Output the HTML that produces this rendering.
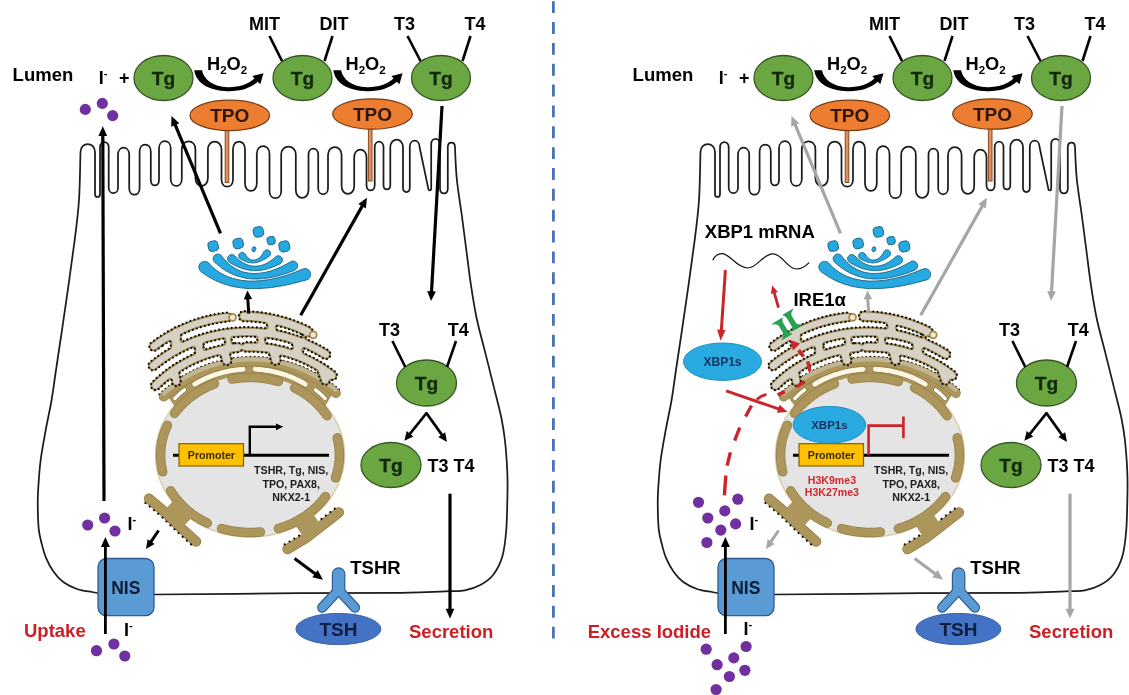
<!DOCTYPE html>
<html><head><meta charset="utf-8"><title>Diagram</title>
<style>
html,body{margin:0;padding:0;background:#fff;}
svg{display:block;filter:blur(0.4px);}
text{font-family:"Liberation Sans",sans-serif;font-weight:bold;}
</style></head><body>
<svg width="1129" height="695" viewBox="0 0 1129 695">
<rect width="1129" height="695" fill="#fff"/>
<line x1="553.4" y1="1.2" x2="553.4" y2="640" stroke="#4a72b4" stroke-width="2.8" stroke-dasharray="11.9 8.95"/>
<g><path d="M98 593.2 C97 593 95.4 592.7 92 592 C88.6 591.3 82.4 590.9 77.6 589.2 C72.8 587.5 67.2 584.9 63.2 582 C59.2 579.1 56.7 576.1 53.8 572 C50.9 567.9 47.9 562.4 45.9 557.6 C43.9 552.8 42.8 548 41.6 543.2 C40.4 538.4 39.3 534.7 38.7 528.8 C38.1 522.9 37.9 514.4 37.8 508 C37.7 501.6 37.6 498.6 38.1 490.7 C38.6 482.8 39.3 470.6 40.6 460.5 C41.9 450.4 43.9 440.3 45.7 430.2 C47.5 420.1 49.9 410 51.6 400 C53.3 390 53.7 385.6 56 370 C58.3 354.4 62.4 327.8 65.4 306.6 C68.5 285.4 72 260.8 74.3 243 C76.6 225.2 78 215.2 79 200 C80 184.8 80.2 160 80.5 152 L80.5 152 C80.5 141.4 95 141.4 95 152 L95 193.9 C95 198 100 198 100 193.9 L100 147.4 C100 140.2 108.7 140.2 108.7 147.4 L108.7 187.4 C108.7 195.1 118 195.1 118 187.4 L118 154.7 C118 145.4 129.2 145.4 129.2 154.7 L129.2 188.2 C129.2 196.8 139.6 196.8 139.6 188.2 L139.6 151.5 C139.6 142.2 150.8 142.2 150.8 151.5 L150.8 180.3 C150.8 187.1 159 187.1 159 180.3 L159 148.5 C159 138.8 170.7 138.8 170.7 148.5 L170.7 178.9 C170.7 188.1 181.8 188.1 181.8 178.9 L181.8 149.2 C181.8 138.6 195.4 138.6 195.4 149.2 L195.4 178 C195.4 188.4 207.9 188.4 207.9 178 L207.9 149.5 C207.9 138.9 221.5 138.9 221.5 149.5 L221.5 179.5 C221.5 189.1 233 189.1 233 179.5 L233 149 C233 139 245 139 245 149 L245 183.6 C245 193.4 256.8 193.4 256.8 183.6 L256.8 153.9 C256.8 143.4 269.5 143.4 269.5 153.9 L269.5 190.9 C269.5 200.6 281.2 200.6 281.2 190.9 L281.2 154.6 C281.2 144 295.8 144 295.8 154.6 L295.8 189.9 C295.8 200.4 308.5 200.4 308.5 189.9 L308.5 154.6 C308.5 146.5 318.2 146.5 318.2 154.6 L318.2 188.2 C318.2 196.3 328 196.3 328 188.2 L328 155.1 C328 144.5 341.6 144.5 341.6 155.1 L341.6 186 C341.6 196.5 354.2 196.5 354.2 186 L354.2 157.2 C354.2 147 366.5 147 366.5 157.2 L366.5 185.3 C366.5 192.1 374.7 192.1 374.7 185.3 L374.7 147.2 C374.7 139.9 383.5 139.9 383.5 147.2 L383.5 185.2 C383.5 190.8 390.3 190.8 390.3 185.2 L390.3 147.6 C390.3 137.1 403 137.1 403 147.6 L403 187.8 C403 193.4 409.8 193.4 409.8 187.8 L409.8 146.8 C409.8 138.7 419.5 138.7 419.5 146.8 L428.3 188.6 C428.3 191 431.2 191 431.2 188.6 L431.2 144.3 C431.2 137 440 137 440 144.3 L440 188.4 C440 194.9 447.8 194.9 447.8 188.4 L447.8 147.2 C447.8 141.2 455 141.2 455 147.2 C455.3 155.6 455.8 169.4 456.9 180 C458 190.6 460.1 203 461.7 214.5 C463.2 226 464.7 237.5 466.2 249 C467.7 260.5 469 271.9 470.7 283.4 C472.4 294.9 474.2 306.5 476.6 318 C479 329.5 482.3 340.9 485.2 352.4 C488.1 363.9 491.1 376 493.8 386.9 C496.5 397.8 499.5 409.1 501.4 418 C503.2 426.9 503.9 431.3 504.9 440 C505.9 448.7 506.8 461.4 507.2 470 C507.6 478.6 507.7 481.7 507.5 491.8 C507.3 501.9 507.1 519.9 506.2 530.7 C505.3 541.5 504.4 549.3 502.3 556.6 C500.2 563.9 497 570 493.3 574.7 C489.6 579.4 485.1 582.4 480.3 585 C475.6 587.6 470 589.3 464.8 590.3 C459.6 591.3 459.8 590.8 449 591.2 C438.2 591.6 424.8 592.5 400 592.8 C375.2 593.1 341 592.9 300 593.2 C259 593.5 178.3 594.3 154 594.5" fill="none" stroke="#1c1c1c" stroke-width="1.75" stroke-linejoin="round"/><rect x="225.2" y="129" width="3.6" height="53.5" fill="#dd9060" stroke="#8a4a1e" stroke-width="1"/><rect x="368.4" y="128" width="3.6" height="53" fill="#dd9060" stroke="#8a4a1e" stroke-width="1"/><ellipse cx="250" cy="455" rx="94.5" ry="82" fill="#e4e4e4" stroke="#dccfa8" stroke-width="1.6"/><path d="M166.2 394.4 L169.8 391.3 L173.4 388.3 L177.2 385.5 L181 382.9 L185 380.3 L189 378 L193.2 375.7 L197.4 373.7 L201.7 371.7 L206 370 L210.4 368.4 L214.9 366.9 L219.4 365.7 L224 364.6 L228.6 363.6 L233.2 362.9 L237.9 362.3 L242.5 361.8 L247.2 361.6 L251.9 361.5 L256.6 361.6 L261.3 361.9 L266 362.3 L270.6 362.9 L275.2 363.7 L279.8 364.6 L284.4 365.7 L288.9 367 L293.4 368.4 L297.8 370.1 L302.1 371.8 L306.4 373.8 L310.6 375.8 L314.8 378.1 L318.8 380.5 L322.8 383 L326.6 385.7 L330.4 388.5 L334 391.4 L323.9 408.3 L321.3 405.2 L318.4 402.3 L315.4 399.5 L312.2 396.8 L308.9 394.2 L305.5 391.8 L301.9 389.6 L298.2 387.5 L294.4 385.5 L290.5 383.7 L286.5 382.1 L282.4 380.7 L278.2 379.4 L274 378.3 L269.7 377.4 L265.4 376.6 L261 376.1 L256.6 375.7 L252.2 375.5 L247.8 375.5 L243.4 375.7 L239 376.1 L234.6 376.6 L230.3 377.4 L226 378.3 L221.8 379.4 L217.6 380.7 L213.5 382.1 L209.5 383.7 L205.6 385.5 L201.8 387.5 L198.1 389.6 L194.5 391.8 L191.1 394.2 L187.8 396.8 L184.6 399.5 L181.6 402.3 L178.7 405.2 L176.1 408.3 Z" fill="#ad965c"/><path d="M159.4 394.4 L163.1 390.9 L167 387.6 L171 384.4 L175.1 381.4 L179.3 378.5 L183.6 375.8 L188 373.2 L192.6 370.9 L197.2 368.7 L201.8 366.7 L206.6 364.8 L211.4 363.2 L216.3 361.7 L221.3 360.5 L226.2 359.4 L231.3 358.5 L236.3 357.8 L241.4 357.3 L246.5 357 L251.6 356.9 L256.7 357 L261.8 357.3 L266.8 357.8 L271.9 358.4 L276.9 359.3 L281.9 360.4 L286.8 361.6 L291.7 363.1 L296.6 364.7 L301.3 366.5 L306 368.5 L310.6 370.7 L315.2 373 L319.6 375.6 L323.9 378.3 L328.1 381.1 L332.3 384.1 L336.2 387.3 L340.1 390.6" fill="none" stroke="#0a0a0a" stroke-width="2.2" stroke-dasharray="0 4.2" stroke-linecap="round"/><path d="M163.6 396.8 L167.2 393.5 L170.9 390.4 L174.7 387.4 L178.6 384.5 L182.7 381.8 L186.8 379.3 L191 376.9 L195.3 374.6 L199.7 372.6 L204.2 370.7 L208.7 369 L213.3 367.4 L218 366.1 L222.7 364.9 L227.4 363.8 L232.2 363 L237 362.4 L241.9 361.9 L246.7 361.6 L251.5 361.5 L256.4 361.6 L261.2 361.8 L266.1 362.3 L270.9 362.9 L275.7 363.7 L280.4 364.7 L285.1 365.9 L289.8 367.3 L294.4 368.8 L298.9 370.5 L303.4 372.4 L307.8 374.4 L312.1 376.6 L316.4 379 L320.5 381.5 L324.6 384.2 L328.5 387.1 L332.3 390 L336 393.2" fill="none" stroke="#978047" stroke-width="9.6" stroke-linecap="round"/><path d="M163.6 396.8 L167.2 393.5 L170.9 390.4 L174.7 387.4 L178.6 384.5 L182.7 381.8 L186.8 379.3 L191 376.9 L195.3 374.6 L199.7 372.6 L204.2 370.7 L208.7 369 L213.3 367.4 L218 366.1 L222.7 364.9 L227.4 363.8 L232.2 363 L237 362.4 L241.9 361.9 L246.7 361.6 L251.5 361.5 L256.4 361.6 L261.2 361.8 L266.1 362.3 L270.9 362.9 L275.7 363.7 L280.4 364.7 L285.1 365.9 L289.8 367.3 L294.4 368.8 L298.9 370.5 L303.4 372.4 L307.8 374.4 L312.1 376.6 L316.4 379 L320.5 381.5 L324.6 384.2 L328.5 387.1 L332.3 390 L336 393.2" fill="none" stroke="#ad965c" stroke-width="8.2" stroke-linecap="round"/><path d="M163.9 393.5 L167.5 390.3 L171.2 387.3 L175 384.4 L179 381.6 L183 379 L187.1 376.5 L191.3 374.2 L195.6 372 L200 370.1 L204.4 368.2 L208.9 366.6 L213.5 365.1 L218.1 363.7 L222.8 362.6 L227.5 361.6 L232.2 360.8 L237 360.1 L241.8 359.7 L246.6 359.4 L251.4 359.3 L256.2 359.4 L261 359.6 L265.7 360 L270.5 360.7 L275.3 361.4 L280 362.4 L284.6 363.5 L289.3 364.8 L293.8 366.3 L298.3 367.9 L302.8 369.7 L307.2 371.7 L311.5 373.8 L315.7 376.1 L319.9 378.5 L323.9 381.1 L327.8 383.8 L331.7 386.7 L335.4 389.7" fill="none" stroke="#c9bfa4" stroke-width="4.2" stroke-linecap="round" opacity="0.75"/><path d="M162.7 344.9 L162.7 344.9 L164.4 343.8 L164.4 343.8 L166 342.7 L166.1 342.7 L167.7 341.6 L167.7 341.6 L168.6 341.1 L169.1 340.9 L169.6 340.8 L170.1 340.9 L170.5 341.1 L170.9 341.4 L171.2 341.7 L171.3 342.2 L171.4 342.7 L171.2 347.1 L171.1 347.6 L170.9 348 L170.7 348.3 L170.3 348.6 L166.3 351 L166.3 351 L166.2 351.1 L166.2 351.1 L162.3 353.7 L162.2 353.7 L162.1 353.8 L162.1 353.8 L158.3 356.5 L158.2 356.5 L158.1 356.5 L158.1 356.6 L154.4 359.4 L154.3 359.4 L154.2 359.5 L154.2 359.5 L150.6 362.4 L150.5 362.5 L149.9 363.1 L149.7 363.3 L149.3 364.1 L149.2 364.3 L149 365.1 L149 365.3 L149 366.2 L149 366.4 L149.3 367.3 L149.4 367.5 L149.8 368.2 L150 368.4 L150.6 369 L150.8 369.1 L151.5 369.6 L151.7 369.6 L152.6 369.8 L152.8 369.9 L153.7 369.9 L153.9 369.8 L154.7 369.6 L154.9 369.5 L155.7 369 L155.8 368.9 L159.4 366.1 L159.5 366.1 L163.1 363.3 L163.1 363.3 L166.9 360.7 L166.9 360.7 L170.7 358.2 L170.8 358.2 L174.7 355.8 L174.7 355.8 L176 355 L176.5 354.8 L176.6 354.8 L177.5 354.5 L177.7 354.4 L178.5 353.8 L178.7 353.6 L178.8 353.6 L179.2 353.3 L182.7 351.4 L182.8 351.4 L186.9 349.4 L186.9 349.4 L191.1 347.5 L191.1 347.5 L192.7 346.9 L193.2 346.7 L193.7 346.8 L194.2 346.9 L194.6 347.2 L194.9 347.6 L195.1 348 L195.2 348.5 L195.3 352.7 L195.2 353.2 L195 353.7 L194.6 354.1 L194.2 354.4 L192.8 355 L192.7 355 L190.6 356 L190.5 356 L188.4 357.1 L188.3 357.1 L186.2 358.2 L186.1 358.2 L184 359.3 L184 359.4 L181.9 360.5 L181.8 360.5 L179.8 361.7 L179.7 361.7 L177.7 363 L177.6 363 L175.6 364.3 L175.5 364.3 L173.5 365.6 L173.5 365.6 L171.5 366.9 L171.4 367 L169.5 368.3 L169.4 368.4 L167.5 369.8 L167.5 369.8 L165.6 371.2 L165.5 371.3 L163.6 372.7 L163.6 372.8 L161.7 374.3 L161.7 374.3 L159.8 375.9 L159.8 375.9 L158 377.5 L157.9 377.5 L156.2 379.1 L156.1 379.1 L154.4 380.8 L154.3 380.8 L152.7 382.4 L152.6 382.5 L152 383.2 L151.9 383.4 L151.5 384.2 L151.5 384.4 L151.4 385.3 L151.4 385.5 L151.4 386.4 L151.5 386.6 L151.8 387.4 L151.9 387.6 L152.4 388.3 L152.6 388.5 L153.3 389 L153.5 389.1 L154.3 389.5 L154.5 389.5 L155.3 389.7 L155.6 389.7 L156.4 389.6 L156.7 389.5 L157.5 389.2 L157.7 389.1 L158.4 388.5 L158.5 388.5 L160.1 386.9 L160.1 386.9 L161.8 385.3 L161.8 385.3 L163.5 383.8 L163.5 383.8 L165.2 382.3 L165.3 382.3 L167 380.8 L167 380.8 L168.8 379.4 L168.8 379.3 L169.2 379.1 L169.6 378.8 L170 378.7 L170.5 378.7 L171 378.8 L171.4 379 L171.7 379.4 L171.9 379.8 L172.1 380.2 L172.4 382.1 L172.4 382.3 L172.6 383.1 L172.7 383.3 L173.1 384 L173.3 384.2 L173.9 384.7 L174 384.9 L174.8 385.3 L175 385.4 L175.8 385.5 L176 385.6 L176.8 385.6 L177 385.5 L177.8 385.3 L178 385.2 L178.7 384.8 L178.9 384.6 L179.5 384.1 L179.6 383.9 L180 383.2 L180.1 382.9 L180.3 382.2 L180.3 381.9 L180.3 381.1 L180.3 380.9 L179.1 373.2 L179.1 372.7 L179.2 372.2 L179.5 371.8 L179.9 371.5 L180 371.4 L180.1 371.4 L182 370.2 L182 370.2 L184 369 L184 369 L186 367.8 L186 367.8 L188 366.7 L188 366.7 L190 365.7 L190 365.7 L192 364.6 L192.1 364.6 L194.1 363.6 L194.1 363.6 L196.2 362.7 L196.2 362.7 L198.3 361.7 L198.3 361.7 L200.4 360.9 L200.5 360.8 L202.6 360 L202.6 360 L204.7 359.2 L204.7 359.2 L206.9 358.4 L206.9 358.4 L209.1 357.7 L209.1 357.7 L211.2 357 L211.3 357 L213.4 356.3 L213.5 356.3 L215.7 355.7 L215.7 355.7 L217.9 355.1 L217.9 355.1 L218.9 354.9 L219.3 354.8 L219.8 354.9 L220.2 355.1 L220.6 355.4 L220.9 355.8 L221 356.2 L222.3 361.3 L222.3 361.4 L222.7 362.3 L222.8 362.5 L223.4 363.3 L223.5 363.4 L224.3 364 L224.5 364.1 L225.3 364.5 L225.6 364.6 L226.5 364.7 L226.7 364.7 L227.7 364.6 L227.9 364.5 L228.8 364.2 L229 364.1 L229.7 363.5 L229.9 363.4 L230.5 362.6 L230.6 362.4 L231 361.6 L231 361.3 L231.2 360.4 L231.2 360.2 L231.1 359.2 L231 359.1 L229.9 354.7 L229.9 354.2 L230 353.7 L230.2 353.2 L230.5 352.9 L231 352.6 L231.5 352.5 L233.7 352.2 L233.7 352.2 L236 351.9 L236 351.9 L238.2 351.7 L238.4 351.7 L239.3 351.5 L239.5 351.4 L240.2 351 L240.4 350.8 L241 350.3 L241.4 350 L241.9 349.9 L242.4 349.8 L242.9 349.9 L243.3 350.2 L244 350.6 L244.2 350.8 L245 351.1 L245.2 351.1 L246.1 351.2 L246.2 351.2 L248.5 351.2 L248.5 351.2 L250.8 351.2 L250.8 351.2 L253.1 351.2 L253.1 351.2 L255.4 351.3 L255.4 351.3 L257.7 351.5 L257.7 351.5 L260 351.6 L260 351.6 L262.2 351.8 L262.3 351.8 L264.5 352.1 L264.6 352.1 L266.8 352.3 L266.8 352.3 L268 352.5 L268.5 352.7 L269 353 L269.3 353.4 L269.5 353.8 L271.4 361.1 L271.5 361.2 L271.8 362.1 L271.9 362.3 L272.5 363.1 L272.7 363.2 L273.4 363.8 L273.6 363.9 L274.5 364.3 L274.7 364.4 L275.6 364.5 L275.9 364.5 L276.8 364.4 L277 364.3 L277.9 364 L278.1 363.8 L278.9 363.3 L279 363.1 L279.6 362.4 L279.7 362.2 L280.1 361.3 L280.1 361.1 L280.3 360.1 L280.3 359.9 L280.1 358.9 L280.1 358.8 L279.8 357.5 L279.7 357 L279.8 356.6 L280 356.1 L280.2 355.8 L280.6 355.5 L281 355.3 L281.5 355.2 L282 355.3 L282.6 355.5 L282.6 355.5 L284.8 356.1 L284.8 356.1 L287 356.7 L287 356.7 L289.2 357.4 L289.2 357.4 L291.4 358.1 L291.4 358.1 L293.6 358.9 L293.6 358.9 L295.7 359.7 L295.7 359.7 L297.9 360.5 L297.9 360.5 L300 361.4 L300 361.4 L302.1 362.3 L302.1 362.3 L304.2 363.2 L304.2 363.2 L306.3 364.2 L306.3 364.2 L308.3 365.2 L308.3 365.2 L310.4 366.3 L310.4 366.3 L312.4 367.4 L312.4 367.4 L314.4 368.5 L314.4 368.5 L316.4 369.7 L316.4 369.7 L317 370 L317.3 370.3 L317.6 370.6 L317.8 371 L321.6 381.6 L321.7 381.7 L322.1 382.5 L322.2 382.7 L322.7 383.3 L322.9 383.4 L323.6 383.9 L323.8 384 L324.6 384.2 L324.8 384.2 L325.6 384.3 L325.8 384.3 L326.6 384.1 L326.9 384 L327.6 383.6 L327.8 383.5 L328.4 383 L328.5 382.8 L328.9 382.1 L329 381.9 L329.3 381.1 L329.3 381 L329.5 380.5 L329.7 380.1 L330.1 379.8 L330.6 379.6 L331.1 379.5 L331.5 379.6 L331.6 379.6 L331.8 379.6 L332.7 379.6 L332.9 379.6 L333.7 379.4 L333.9 379.3 L334.7 378.8 L334.9 378.7 L335.5 378.1 L335.6 377.9 L336 377.2 L336.1 376.9 L336.4 376.1 L336.4 375.9 L336.4 375 L336.4 374.8 L336.1 374 L336 373.7 L335.6 373 L335.5 372.8 L334.8 372.2 L334.7 372.1 L332.9 370.7 L332.8 370.6 L330.9 369.2 L330.9 369.2 L328.9 367.8 L328.9 367.8 L326.9 366.4 L326.9 366.4 L324.9 365.1 L324.8 365 L322.8 363.8 L322.8 363.7 L320.7 362.5 L320.7 362.4 L318.6 361.2 L318.6 361.2 L316.5 360 L316.4 360 L314.3 358.9 L314.3 358.8 L312.2 357.8 L312.1 357.7 L310 356.7 L309.9 356.6 L307.8 355.6 L307.7 355.6 L305.5 354.6 L305.5 354.6 L304 353.9 L303.5 353.6 L303.2 353.2 L303 352.7 L302.3 350.2 L302.2 349.8 L302.3 349.3 L302.4 348.9 L302.7 348.5 L303 348.2 L303.4 348 L303.9 348 L304.3 348 L304.8 348.1 L307.3 349.2 L307.3 349.2 L311.4 351.2 L311.5 351.2 L315.5 353.3 L315.6 353.3 L319.5 355.6 L319.6 355.6 L323.5 358 L323.6 358 L324.5 358.4 L324.7 358.4 L325.5 358.6 L325.8 358.6 L326.6 358.5 L326.8 358.4 L327.6 358.1 L327.9 358 L328.5 357.5 L328.7 357.3 L329.3 356.6 L329.4 356.4 L329.7 355.7 L329.8 355.4 L329.9 354.6 L329.9 354.4 L329.8 353.5 L329.8 353.3 L329.4 352.5 L329.3 352.3 L328.8 351.6 L328.7 351.4 L327.9 350.8 L327.8 350.8 L323.8 348.4 L323.8 348.3 L323.7 348.3 L323.7 348.3 L319.6 346 L319.6 346 L319.5 345.9 L319.5 345.9 L315.3 343.7 L315.3 343.7 L315.2 343.7 L315.1 343.7 L310.9 341.6 L310.9 341.6 L310.8 341.6 L310.8 341.6 L306.4 339.7 L306.4 339.7 L306.3 339.6 L305.9 339.4 L305.6 339.1 L305.4 338.7 L305.2 338.2 L305.2 337.8 L305.3 337.3 L305.5 336.9 L305.9 336.6 L306.2 336.3 L306.7 336.2 L307.1 336.2 L307.9 336.2 L308.1 336.2 L309.1 336 L309.3 335.9 L310.1 335.5 L310.3 335.4 L311 334.8 L311.2 334.6 L311.7 333.8 L311.8 333.6 L312.1 332.7 L312.2 332.5 L312.2 331.5 L312.2 331.3 L312 330.4 L311.9 330.2 L311.5 329.3 L311.4 329.1 L310.8 328.4 L310.6 328.3 L309.8 327.7 L309.7 327.7 L308.2 326.9 L308.2 326.9 L306.6 326.2 L306.6 326.2 L305 325.4 L305 325.4 L303.4 324.7 L303.4 324.7 L301.8 324 L301.8 324 L300.2 323.3 L300.2 323.3 L298.6 322.7 L298.5 322.6 L297 322 L296.9 322 L295.3 321.4 L295.3 321.4 L293.7 320.8 L293.6 320.8 L292 320.2 L292 320.2 L290.4 319.6 L290.3 319.6 L288.7 319.1 L288.6 319.1 L287 318.6 L287 318.5 L285.3 318 L285.3 318 L283.7 317.5 L283.6 317.5 L282 317.1 L281.9 317.1 L280.3 316.6 L280.2 316.6 L278.6 316.2 L278.5 316.2 L276.9 315.8 L276.8 315.8 L275.2 315.4 L275.1 315.4 L273.4 315 L273.4 315 L271.7 314.7 L271.7 314.7 L270 314.3 L269.9 314.3 L268.3 314 L268.2 314 L266.5 313.7 L266.5 313.7 L264.8 313.5 L264.8 313.5 L263.1 313.2 L263 313.2 L261.3 313 L261.3 313 L259.6 312.8 L259.5 312.8 L257.8 312.6 L257.8 312.6 L256.1 312.4 L256.1 312.4 L254.4 312.3 L254.3 312.3 L252.6 312.1 L252.6 312.1 L250.9 312 L250.8 312 L249.1 311.9 L249.1 311.9 L247.3 311.9 L247.3 311.9 L245.6 311.8 L245.5 311.8 L243.9 311.8 L243.8 311.8 L242.8 311.9 L242.6 312 L241.7 312.3 L241.5 312.4 L240.7 313 L240.6 313.2 L240 313.9 L239.9 314.1 L239.5 315 L239.4 315.2 L239.3 316.1 L239.3 316.4 L239.4 317.3 L239.5 317.5 L239.8 318.4 L239.9 318.6 L240.5 319.3 L240.6 319.5 L241.4 320.1 L241.6 320.2 L242.4 320.6 L242.7 320.7 L243.6 320.8 L243.8 320.8 L245.4 320.8 L245.4 320.8 L247 320.9 L247 320.9 L248.7 320.9 L248.7 320.9 L250.3 321 L250.3 321 L252 321.1 L252 321.1 L253.6 321.2 L253.6 321.2 L255.2 321.4 L255.3 321.4 L256.9 321.5 L256.9 321.5 L258.5 321.7 L258.6 321.7 L260.2 321.9 L260.2 321.9 L261.8 322.1 L261.8 322.1 L263.4 322.4 L263.5 322.4 L265.1 322.6 L265.1 322.6 L265.7 322.7 L266.1 322.8 L266.5 323.1 L266.8 323.4 L267 323.8 L267.2 324.2 L267.6 326.7 L267.6 327.2 L267.5 327.7 L267.3 328.1 L267 328.4 L266.6 328.7 L266.1 328.8 L265.6 328.8 L264.2 328.6 L264.1 328.6 L264 328.6 L264 328.6 L259.3 328.2 L259.3 328.2 L259.2 328.2 L259.2 328.2 L254.5 327.9 L254.4 327.9 L254.3 327.9 L254.3 327.9 L249.6 327.7 L249.6 327.7 L249.5 327.7 L249.4 327.7 L244.7 327.7 L244.7 327.7 L244.6 327.7 L244.6 327.7 L239.9 327.9 L239.8 327.9 L239.7 327.9 L239.7 327.9 L235 328.2 L235 328.2 L234.9 328.2 L234.8 328.2 L230.1 328.7 L230.1 328.7 L230 328.7 L230 328.7 L225.3 329.3 L225.3 329.3 L225.2 329.3 L225.2 329.3 L220.5 330.1 L220.5 330.1 L220.4 330.1 L220.4 330.1 L215.7 331 L215.7 331 L215.6 331 L215.6 331 L211 332.1 L211 332.1 L210.9 332.1 L210.8 332.1 L206.3 333.3 L206.3 333.3 L206.1 333.4 L206.1 333.4 L201.6 334.7 L201.6 334.7 L201.5 334.8 L201.5 334.8 L197 336.3 L197 336.3 L196.9 336.3 L196.8 336.3 L192.4 337.9 L192.4 337.9 L192.3 338 L192.3 338 L187.9 339.8 L187.9 339.8 L187.8 339.8 L187.8 339.8 L183.4 341.7 L183.4 341.7 L183.3 341.8 L183.3 341.8 L183.1 341.9 L182.6 342.1 L182.2 342.1 L181.7 342 L181.3 341.8 L181 341.5 L180.7 341.1 L180.5 340.7 L180.5 340.2 L180.7 335.5 L180.8 335.1 L181 334.6 L181.3 334.3 L181.7 334 L181.7 334 L181.8 334 L183.6 333.1 L183.6 333.1 L185.4 332.3 L185.4 332.3 L187.2 331.5 L187.2 331.5 L189.1 330.8 L189.1 330.8 L190.9 330 L190.9 330 L192.8 329.3 L192.8 329.3 L194.7 328.6 L194.7 328.6 L196.5 328 L196.6 328 L198.4 327.3 L198.5 327.3 L200.3 326.7 L200.4 326.7 L202.2 326.1 L202.3 326.1 L204.2 325.6 L204.2 325.6 L206.1 325.1 L206.1 325.1 L208 324.6 L208 324.6 L210 324.1 L210 324.1 L211.9 323.6 L211.9 323.6 L213.9 323.2 L213.9 323.2 L215.8 322.8 L215.8 322.8 L217.8 322.5 L217.8 322.5 L219.8 322.1 L219.8 322.1 L221.7 321.8 L221.8 321.8 L223.7 321.6 L223.7 321.5 L225.7 321.3 L225.7 321.3 L227.7 321.1 L227.8 321.1 L228.6 320.9 L228.8 320.8 L229.5 320.4 L229.7 320.2 L230.3 319.7 L230.5 319.5 L230.9 318.8 L231 318.6 L231.2 317.8 L231.2 317.6 L231.2 316.8 L231.2 316.5 L231 315.8 L230.9 315.5 L230.5 314.8 L230.4 314.6 L229.8 314.1 L229.7 313.9 L229 313.5 L228.8 313.4 L228 313.2 L227.8 313.1 L226.9 313.1 L226.8 313.1 L224.8 313.4 L224.7 313.4 L222.7 313.6 L222.6 313.6 L220.6 313.9 L220.5 313.9 L218.5 314.2 L218.5 314.2 L216.4 314.6 L216.4 314.6 L214.4 315 L214.3 315 L212.3 315.4 L212.2 315.4 L210.2 315.8 L210.2 315.8 L208.2 316.3 L208.1 316.3 L206.1 316.8 L206.1 316.8 L204.1 317.3 L204 317.3 L202 317.9 L202 317.9 L200 318.5 L200 318.5 L198 319.1 L197.9 319.1 L196 319.7 L195.9 319.7 L194 320.4 L193.9 320.4 L192 321.1 L191.9 321.1 L190 321.8 L190 321.8 L188 322.6 L188 322.6 L186.1 323.3 L186 323.4 L184.1 324.1 L184.1 324.2 L182.2 325 L182.1 325 L180.3 325.8 L180.2 325.9 L178.4 326.7 L178.3 326.8 L176.7 327.6 L176 327.7 L175.5 327.8 L175.3 327.8 L174.4 328.1 L174.2 328.3 L173.4 328.8 L173.2 329 L173 329.3 L172.4 329.7 L170.8 330.6 L170.8 330.6 L169 331.6 L168.9 331.6 L167.2 332.6 L167.1 332.7 L165.3 333.7 L165.3 333.7 L163.5 334.8 L163.5 334.8 L161.8 335.9 L161.7 336 L160 337.1 L159.9 337.1 L158.2 338.3 L158.2 338.3 L156.5 339.5 L156.5 339.5 L154.8 340.7 L154.7 340.7 L153.1 341.9 L153 342 L151.4 343.2 L151.3 343.3 L150.7 343.9 L150.6 344.1 L150.2 344.7 L150.1 345 L149.9 345.7 L149.8 346 L149.8 346.8 L149.9 347 L150.1 347.8 L150.2 348 L150.6 348.7 L150.7 348.9 L151.3 349.5 L151.4 349.6 L152.1 350 L152.4 350.1 L153.1 350.3 L153.4 350.4 L154.2 350.4 L154.4 350.3 L155.2 350.1 L155.4 350.1 L156.2 349.6 L156.3 349.6 L157.8 348.4 L157.8 348.4 L159.4 347.2 L159.5 347.2 L161.1 346 L161.1 346 Z M302.9 334.4 L303.3 334.6 L303.6 334.9 L303.8 335.4 L303.9 335.8 L303.9 336.3 L303.8 336.7 L303.5 337.1 L303.2 337.4 L302.8 337.6 L302.4 337.8 L301.9 337.8 L301.5 337.7 L297.3 336.2 L297.3 336.2 L297.2 336.1 L297.2 336.1 L292.7 334.6 L292.7 334.6 L292.6 334.6 L292.6 334.6 L288 333.3 L288 333.3 L287.9 333.2 L287.9 333.2 L283.3 332 L283.3 332 L283.2 332 L283.2 332 L278.6 331 L278.6 330.9 L278.5 330.9 L278.4 330.9 L277.6 330.8 L277.2 330.6 L276.9 330.4 L276.6 330.1 L276.3 329.7 L276.2 329.3 L275.9 327.4 L275.8 327 L275.9 326.5 L276.1 326.1 L276.4 325.8 L276.8 325.5 L277.2 325.4 L277.7 325.3 L278.1 325.4 L279.6 325.8 L279.6 325.8 L281.2 326.2 L281.2 326.2 L282.7 326.7 L282.8 326.7 L284.3 327.1 L284.3 327.1 L285.9 327.6 L285.9 327.6 L287.5 328.1 L287.5 328.2 L289 328.7 L289 328.7 L290.6 329.2 L290.6 329.2 L292.1 329.8 L292.1 329.8 L293.7 330.4 L293.7 330.4 L295.2 331 L295.2 331 L296.7 331.6 L296.7 331.6 L298.2 332.3 L298.3 332.3 L299.7 332.9 L299.8 332.9 L301.3 333.6 L301.3 333.6 L302.7 334.3 L302.8 334.3 Z M266.8 343.9 L266.3 343.8 L265.9 343.5 L265.6 343.2 L265.3 342.8 L265.2 342.4 L264.8 339.5 L264.8 339 L264.9 338.6 L265.1 338.1 L265.5 337.8 L265.9 337.6 L266.3 337.4 L266.8 337.4 L267.7 337.6 L267.8 337.6 L272.2 338.3 L272.3 338.3 L276.8 339.2 L276.8 339.2 L281.2 340.2 L281.3 340.2 L285.7 341.3 L285.8 341.3 L290.1 342.6 L290.2 342.6 L291.3 343 L291.7 343.2 L292 343.5 L292.3 343.9 L292.5 344.3 L293.2 346.9 L293.2 347.4 L293.2 347.9 L293 348.3 L292.7 348.7 L292.3 349 L291.8 349.1 L291.4 349.2 L290.9 349.1 L289.5 348.7 L289.4 348.7 L287.1 348 L287.1 348 L284.8 347.3 L284.7 347.3 L282.4 346.7 L282.3 346.7 L280 346.2 L279.9 346.2 L277.6 345.7 L277.6 345.7 L275.5 345.2 L275.1 345.1 L274.2 344.7 L274 344.7 L273 344.6 L272.8 344.6 L272.3 344.6 L271.8 344.6 L270.4 344.4 L270.3 344.4 L268 344 L267.9 344 Z M233.3 343.8 L232.9 343.8 L232.4 343.6 L232 343.3 L231.6 343 L231.4 342.5 L231.3 342 L231.2 338.7 L231.2 338.3 L231.4 337.8 L231.6 337.5 L232 337.2 L232.4 336.9 L232.8 336.8 L235.6 336.6 L235.6 336.6 L240.2 336.3 L240.2 336.3 L244.8 336.1 L244.8 336.1 L249.4 336.1 L249.4 336.1 L254 336.3 L254 336.3 L255.8 336.4 L256.3 336.5 L256.7 336.7 L257.1 337 L257.3 337.4 L257.5 337.9 L257.9 340.9 L257.9 341.3 L257.8 341.8 L257.6 342.2 L257.3 342.5 L256.9 342.8 L256.5 342.9 L256 343 L255.8 342.9 L255.7 342.9 L253.4 342.9 L253.3 342.8 L250.9 342.8 L250.8 342.8 L248.5 342.8 L248.4 342.8 L246.1 342.8 L246 342.9 L245 343 L244.8 343.1 L244 343.4 L243.8 343.5 L243.2 344.1 L243 344.2 L242.7 344.5 L242.3 344.6 L241.9 344.7 L241.4 344.7 L241 344.6 L240.6 344.3 L240.5 344.2 L239.7 343.8 L239.5 343.7 L238.7 343.4 L238.5 343.4 L237.6 343.3 L237.4 343.3 L235.1 343.6 L235.1 343.6 Z M203.2 344.4 L203.2 343.9 L203.4 343.5 L203.7 343.1 L204 342.8 L204.5 342.6 L208.4 341.5 L208.5 341.4 L212.9 340.3 L212.9 340.3 L217.4 339.2 L217.4 339.2 L221.9 338.4 L221.9 338.4 L223.2 338.2 L223.7 338.1 L224.2 338.3 L224.6 338.5 L224.9 338.9 L225.2 339.4 L225.2 339.9 L225.4 343.1 L225.3 343.6 L225.2 344 L225 344.4 L224.6 344.7 L224.2 344.9 L223.8 345 L223 345.1 L222.8 345.1 L221.9 345.5 L221.8 345.5 L221.3 345.7 L220.7 345.9 L220.6 345.9 L218.3 346.4 L218.2 346.4 L215.9 347 L215.8 347 L213.5 347.6 L213.5 347.6 L211.2 348.2 L211.1 348.3 L208.8 348.9 L208.8 349 L206.5 349.7 L206.4 349.7 L205.6 350 L205.1 350.1 L204.6 350 L204.2 349.9 L203.8 349.6 L203.5 349.2 L203.3 348.8 L203.2 348.3 Z" fill="#d7d1c5" fill-rule="evenodd" stroke="#9f8850" stroke-width="1.9"/><path d="M163 345.4 L163.1 345.4 L164.7 344.3 L164.7 344.3 L166.4 343.2 L166.4 343.2 L168 342.1 L168.1 342.1 L168.9 341.6 L169.3 341.5 L169.6 341.4 L169.9 341.5 L170.2 341.6 L170.4 341.8 L170.6 342 L170.8 342.3 L170.8 342.7 L170.6 347.1 L170.5 347.4 L170.4 347.7 L170.2 347.9 L170 348.1 L166 350.5 L166 350.5 L166 350.5 L166 350.5 L165.9 350.6 L165.9 350.6 L165.9 350.6 L165.9 350.6 L161.9 353.2 L161.9 353.2 L161.9 353.2 L161.9 353.2 L161.8 353.3 L161.8 353.3 L161.8 353.3 L161.8 353.3 L157.9 356 L157.9 356 L157.9 356 L157.9 356 L157.8 356.1 L157.8 356.1 L157.8 356.1 L157.8 356.1 L154 358.9 L154 358.9 L154 358.9 L154 358.9 L153.9 359 L153.9 359 L153.9 359 L153.9 359 L150.2 361.9 L150.2 361.9 L150.1 362 L150.1 362 L149.4 362.7 L149.4 362.8 L149.2 363 L149.2 363 L148.8 363.8 L148.7 363.8 L148.7 364.1 L148.6 364.1 L148.4 365 L148.4 365 L148.4 365.3 L148.4 365.4 L148.4 366.2 L148.4 366.3 L148.4 366.5 L148.5 366.6 L148.7 367.4 L148.7 367.5 L148.8 367.7 L148.9 367.8 L149.3 368.5 L149.3 368.6 L149.5 368.8 L149.5 368.8 L150.2 369.4 L150.2 369.5 L150.4 369.6 L150.5 369.7 L151.2 370.1 L151.3 370.1 L151.5 370.2 L151.6 370.2 L152.4 370.4 L152.5 370.4 L152.7 370.5 L152.8 370.5 L153.7 370.5 L153.8 370.4 L154 370.4 L154.1 370.4 L154.9 370.2 L155 370.1 L155.2 370 L155.3 370 L156 369.5 L156.1 369.5 L156.2 369.4 L156.2 369.4 L159.8 366.6 L159.8 366.5 L163.4 363.8 L163.5 363.8 L167.2 361.2 L167.2 361.2 L171 358.7 L171.1 358.7 L175 356.3 L175 356.3 L176.3 355.6 L176.7 355.4 L176.8 355.4 L176.8 355.4 L177.7 355.1 L177.8 355 L178 354.9 L178.1 354.9 L178.8 354.3 L178.9 354.3 L179.1 354.1 L179.1 354.1 L179.1 354.1 L179.5 353.8 L183 351.9 L183.1 351.9 L187.1 350 L187.2 349.9 L191.3 348.1 L191.4 348.1 L192.9 347.4 L193.3 347.3 L193.6 347.4 L193.9 347.5 L194.2 347.6 L194.4 347.9 L194.6 348.2 L194.6 348.6 L194.7 352.7 L194.6 353.1 L194.5 353.4 L194.3 353.6 L193.9 353.8 L192.6 354.4 L192.6 354.4 L192.5 354.5 L192.5 354.5 L190.3 355.5 L190.3 355.5 L190.3 355.5 L190.3 355.5 L188.1 356.5 L188.1 356.5 L188.1 356.6 L188 356.6 L185.9 357.6 L185.9 357.6 L185.9 357.7 L185.9 357.7 L183.8 358.8 L183.8 358.8 L183.7 358.8 L183.7 358.8 L181.6 360 L181.6 360 L181.5 360 L181.5 360 L179.5 361.2 L179.5 361.2 L179.4 361.2 L179.4 361.2 L177.4 362.4 L177.4 362.4 L177.3 362.5 L177.3 362.5 L175.3 363.7 L175.3 363.7 L175.2 363.8 L175.2 363.8 L173.2 365.1 L173.2 365.1 L173.1 365.1 L173.1 365.1 L171.2 366.4 L171.2 366.4 L171.1 366.5 L171.1 366.5 L169.2 367.8 L169.1 367.8 L169.1 367.9 L169.1 367.9 L167.2 369.3 L167.2 369.3 L167.1 369.3 L167.1 369.3 L165.2 370.8 L165.2 370.8 L165.1 370.8 L165.1 370.8 L163.3 372.3 L163.3 372.3 L163.2 372.3 L163.2 372.3 L161.3 373.8 L161.3 373.8 L161.3 373.9 L161.3 373.9 L159.5 375.4 L159.5 375.4 L159.4 375.4 L159.4 375.4 L157.6 377 L157.6 377 L157.5 377.1 L157.5 377.1 L155.8 378.6 L155.8 378.6 L155.7 378.7 L155.7 378.7 L154 380.3 L154 380.3 L153.9 380.4 L153.9 380.4 L152.2 382 L152.2 382 L152.1 382.1 L152.1 382.1 L151.5 382.9 L151.5 382.9 L151.4 383.1 L151.3 383.2 L151 384 L151 384.1 L150.9 384.3 L150.9 384.4 L150.8 385.2 L150.8 385.3 L150.8 385.5 L150.8 385.6 L150.9 386.4 L150.9 386.5 L150.9 386.8 L150.9 386.8 L151.3 387.6 L151.3 387.7 L151.4 387.9 L151.5 388 L152 388.7 L152 388.7 L152.2 388.9 L152.2 388.9 L152.9 389.5 L153 389.5 L153.2 389.6 L153.2 389.7 L154 390 L154.1 390 L154.3 390.1 L154.4 390.1 L155.3 390.3 L155.3 390.3 L155.6 390.3 L155.6 390.3 L156.5 390.2 L156.6 390.2 L156.8 390.1 L156.9 390.1 L157.7 389.8 L157.8 389.7 L158 389.6 L158 389.6 L158.8 389 L158.8 389 L158.9 388.9 L158.9 388.9 L160.5 387.3 L160.6 387.3 L162.2 385.8 L162.2 385.7 L163.9 384.2 L163.9 384.2 L165.6 382.7 L165.7 382.7 L167.4 381.3 L167.4 381.3 L169.2 379.8 L169.2 379.8 L169.5 379.6 L169.8 379.4 L170.1 379.3 L170.4 379.3 L170.7 379.4 L171 379.5 L171.2 379.7 L171.4 380 L171.5 380.3 L171.8 382.2 L171.8 382.3 L171.8 382.4 L171.8 382.4 L172 383.3 L172.1 383.3 L172.2 383.5 L172.2 383.6 L172.6 384.3 L172.7 384.4 L172.8 384.6 L172.9 384.6 L173.4 385.2 L173.5 385.2 L173.7 385.4 L173.8 385.4 L174.5 385.8 L174.5 385.8 L174.8 385.9 L174.8 385.9 L175.6 386.1 L175.7 386.1 L175.9 386.2 L176 386.2 L176.8 386.2 L176.9 386.2 L177.1 386.1 L177.2 386.1 L178 385.9 L178 385.8 L178.3 385.8 L178.3 385.7 L179 385.3 L179.1 385.3 L179.3 385.1 L179.3 385.1 L179.9 384.5 L179.9 384.4 L180.1 384.2 L180.1 384.2 L180.5 383.5 L180.5 383.4 L180.6 383.2 L180.7 383.1 L180.8 382.3 L180.9 382.2 L180.9 382 L180.9 381.9 L180.9 381 L180.9 381 L180.9 380.9 L180.9 380.9 L179.7 373.2 L179.7 372.8 L179.8 372.5 L180 372.2 L180.3 371.9 L180.4 371.9 L180.4 371.9 L182.3 370.7 L182.3 370.7 L184.3 369.5 L184.3 369.5 L186.2 368.4 L186.3 368.4 L188.3 367.3 L188.3 367.3 L190.3 366.2 L190.3 366.2 L192.3 365.2 L192.3 365.2 L194.4 364.2 L194.4 364.2 L196.5 363.2 L196.5 363.2 L198.5 362.3 L198.6 362.3 L200.7 361.4 L200.7 361.4 L202.8 360.6 L202.8 360.6 L204.9 359.8 L204.9 359.7 L207.1 359 L207.1 359 L209.2 358.3 L209.3 358.2 L211.4 357.6 L211.4 357.6 L213.6 356.9 L213.6 356.9 L215.8 356.3 L215.8 356.3 L218 355.7 L218.1 355.7 L219 355.5 L219.3 355.4 L219.6 355.5 L219.9 355.6 L220.2 355.8 L220.3 356.1 L220.5 356.4 L221.7 361.4 L221.7 361.4 L221.8 361.6 L221.8 361.6 L222.2 362.5 L222.2 362.6 L222.3 362.8 L222.3 362.9 L222.9 363.6 L223 363.7 L223.1 363.8 L223.2 363.9 L223.9 364.5 L224 364.5 L224.2 364.6 L224.2 364.7 L225.1 365 L225.2 365.1 L225.4 365.1 L225.5 365.2 L226.4 365.3 L226.5 365.3 L226.7 365.3 L226.8 365.3 L227.7 365.2 L227.8 365.2 L228 365.1 L228.1 365.1 L229 364.8 L229.1 364.7 L229.3 364.6 L229.3 364.6 L230.1 364 L230.1 364 L230.3 363.8 L230.4 363.7 L230.9 363 L231 362.9 L231.1 362.7 L231.1 362.7 L231.5 361.8 L231.5 361.7 L231.6 361.5 L231.6 361.4 L231.8 360.5 L231.8 360.4 L231.8 360.2 L231.8 360.1 L231.7 359.1 L231.7 359.1 L231.6 359 L231.6 358.9 L230.5 354.6 L230.5 354.2 L230.6 353.9 L230.7 353.6 L230.9 353.3 L231.2 353.2 L231.6 353.1 L233.8 352.8 L233.8 352.8 L236 352.5 L236.1 352.5 L238.3 352.3 L238.3 352.3 L238.5 352.3 L238.5 352.3 L239.4 352.1 L239.5 352 L239.7 352 L239.8 351.9 L240.5 351.5 L240.6 351.5 L240.8 351.3 L240.8 351.3 L241.4 350.8 L241.7 350.6 L242 350.4 L242.3 350.4 L242.7 350.5 L243 350.7 L243.6 351.1 L243.7 351.2 L243.9 351.3 L243.9 351.3 L244.7 351.6 L244.8 351.7 L245 351.7 L245.1 351.7 L246 351.8 L246.1 351.8 L246.2 351.8 L246.2 351.8 L248.5 351.8 L248.5 351.8 L250.8 351.8 L250.8 351.8 L253.1 351.8 L253.1 351.8 L255.3 351.9 L255.4 351.9 L257.6 352 L257.7 352.1 L259.9 352.2 L259.9 352.2 L262.2 352.4 L262.2 352.4 L264.5 352.7 L264.5 352.7 L266.7 352.9 L266.8 352.9 L267.9 353.1 L268.3 353.2 L268.6 353.4 L268.8 353.7 L268.9 354 L270.8 361.2 L270.8 361.3 L270.9 361.4 L270.9 361.4 L271.3 362.4 L271.3 362.4 L271.4 362.6 L271.5 362.7 L272 363.4 L272.1 363.5 L272.3 363.7 L272.3 363.7 L273.1 364.3 L273.1 364.3 L273.3 364.5 L273.4 364.5 L274.3 364.9 L274.3 364.9 L274.6 364.9 L274.6 365 L275.6 365.1 L275.6 365.1 L275.9 365.1 L276 365.1 L276.9 365 L277 365 L277.2 364.9 L277.3 364.9 L278.1 364.5 L278.2 364.5 L278.4 364.4 L278.5 364.3 L279.2 363.8 L279.3 363.7 L279.4 363.5 L279.5 363.5 L280.1 362.7 L280.1 362.7 L280.2 362.5 L280.3 362.4 L280.6 361.5 L280.7 361.5 L280.7 361.2 L280.7 361.2 L280.9 360.2 L280.9 360.1 L280.9 359.9 L280.9 359.8 L280.7 358.8 L280.7 358.8 L280.7 358.7 L280.7 358.7 L280.4 357.4 L280.3 357 L280.4 356.7 L280.5 356.4 L280.7 356.2 L280.9 356 L281.2 355.9 L281.5 355.8 L281.9 355.9 L282.4 356 L282.5 356 L284.6 356.6 L284.7 356.6 L286.8 357.3 L286.9 357.3 L289 358 L289 358 L291.2 358.7 L291.2 358.7 L293.4 359.4 L293.4 359.4 L295.5 360.2 L295.5 360.2 L297.6 361 L297.7 361.1 L299.7 361.9 L299.8 361.9 L301.8 362.8 L301.9 362.8 L303.9 363.8 L304 363.8 L306 364.7 L306 364.8 L308.1 365.8 L308.1 365.8 L310.1 366.8 L310.1 366.8 L312.1 367.9 L312.1 367.9 L314.1 369 L314.1 369 L316.1 370.2 L316.1 370.2 L316.7 370.5 L316.9 370.7 L317.1 370.9 L317.2 371.2 L321 381.8 L321.1 381.8 L321.1 382 L321.1 382 L321.5 382.8 L321.6 382.8 L321.7 383 L321.7 383.1 L322.3 383.7 L322.3 383.7 L322.5 383.9 L322.6 383.9 L323.3 384.4 L323.3 384.4 L323.6 384.5 L323.6 384.5 L324.4 384.8 L324.5 384.8 L324.7 384.8 L324.8 384.8 L325.6 384.9 L325.7 384.9 L325.9 384.9 L326 384.8 L326.8 384.7 L326.8 384.6 L327.1 384.6 L327.1 384.5 L327.9 384.2 L327.9 384.1 L328.1 384 L328.2 383.9 L328.8 383.4 L328.8 383.3 L329 383.2 L329 383.1 L329.5 382.4 L329.5 382.3 L329.6 382.1 L329.6 382.1 L329.9 381.3 L329.9 381.2 L329.9 381.1 L330 380.8 L330.2 380.5 L330.4 380.3 L330.7 380.2 L331.1 380.1 L331.5 380.2 L331.5 380.2 L331.7 380.2 L331.8 380.2 L332.7 380.2 L332.7 380.2 L333 380.2 L333 380.2 L333.9 379.9 L333.9 379.9 L334.2 379.8 L334.2 379.8 L335 379.4 L335 379.3 L335.2 379.2 L335.3 379.1 L335.9 378.5 L335.9 378.5 L336.1 378.3 L336.1 378.2 L336.6 377.5 L336.6 377.4 L336.7 377.2 L336.7 377.1 L336.9 376.3 L337 376.2 L337 376 L337 375.9 L337 375 L337 374.9 L337 374.7 L336.9 374.6 L336.7 373.8 L336.7 373.7 L336.6 373.5 L336.6 373.4 L336.1 372.7 L336.1 372.6 L335.9 372.4 L335.9 372.4 L335.2 371.7 L335.2 371.7 L335.1 371.6 L335.1 371.6 L333.3 370.2 L333.3 370.2 L333.2 370.2 L333.2 370.1 L331.3 368.7 L331.3 368.7 L331.2 368.7 L331.2 368.7 L329.3 367.3 L329.3 367.3 L329.2 367.3 L329.2 367.3 L327.3 365.9 L327.3 365.9 L327.2 365.9 L327.2 365.9 L325.2 364.6 L325.2 364.6 L325.1 364.5 L325.1 364.5 L323.1 363.2 L323.1 363.2 L323.1 363.2 L323.1 363.2 L321 362 L321 362 L321 361.9 L321 361.9 L318.9 360.7 L318.9 360.7 L318.9 360.7 L318.9 360.7 L316.8 359.5 L316.8 359.5 L316.7 359.5 L316.7 359.5 L314.6 358.3 L314.6 358.3 L314.6 358.3 L314.6 358.3 L312.4 357.2 L312.4 357.2 L312.4 357.2 L312.4 357.2 L310.2 356.1 L310.2 356.1 L310.2 356.1 L310.2 356.1 L308 355.1 L308 355.1 L308 355 L307.9 355 L305.8 354.1 L305.8 354.1 L305.7 354 L305.7 354 L304.3 353.4 L303.9 353.2 L303.7 352.9 L303.5 352.5 L302.9 350.1 L302.8 349.8 L302.9 349.5 L303 349.2 L303.1 348.9 L303.4 348.7 L303.6 348.6 L303.9 348.6 L304.2 348.6 L304.5 348.7 L307 349.8 L307.1 349.8 L311.2 351.7 L311.2 351.8 L315.2 353.8 L315.3 353.9 L319.2 356.1 L319.3 356.1 L323.2 358.5 L323.2 358.5 L323.3 358.5 L323.4 358.6 L324.2 358.9 L324.3 359 L324.5 359 L324.6 359 L325.4 359.2 L325.5 359.2 L325.8 359.2 L325.8 359.2 L326.7 359.1 L326.8 359.1 L327 359 L327.1 359 L327.9 358.7 L327.9 358.6 L328.1 358.5 L328.2 358.5 L328.9 358 L329 357.9 L329.1 357.8 L329.2 357.7 L329.7 357 L329.8 357 L329.9 356.8 L329.9 356.7 L330.3 355.9 L330.3 355.8 L330.4 355.6 L330.4 355.5 L330.5 354.7 L330.5 354.6 L330.5 354.4 L330.5 354.3 L330.4 353.4 L330.4 353.4 L330.3 353.1 L330.3 353 L330 352.2 L330 352.2 L329.9 352 L329.8 351.9 L329.3 351.2 L329.3 351.2 L329.1 351 L329 350.9 L328.3 350.4 L328.3 350.3 L328.2 350.3 L328.2 350.2 L324.2 347.8 L324.2 347.8 L324.1 347.8 L324.1 347.8 L324 347.8 L324 347.8 L324 347.8 L324 347.8 L319.9 345.4 L319.9 345.4 L319.9 345.4 L319.9 345.4 L319.8 345.4 L319.8 345.4 L319.7 345.4 L319.7 345.4 L315.6 343.2 L315.5 343.2 L315.5 343.2 L315.5 343.2 L315.4 343.1 L315.4 343.1 L315.4 343.1 L315.4 343.1 L311.1 341.1 L311.1 341.1 L311.1 341.1 L311.1 341.1 L311 341 L311 341 L311 341 L311 341 L306.7 339.1 L306.7 339.1 L306.7 339.1 L306.6 339.1 L306.6 339.1 L306.3 338.9 L306.1 338.7 L305.9 338.4 L305.8 338.1 L305.8 337.8 L305.9 337.5 L306 337.3 L306.2 337 L306.5 336.9 L306.8 336.8 L307.1 336.8 L307.9 336.8 L308 336.8 L308.2 336.8 L308.3 336.8 L309.2 336.6 L309.3 336.6 L309.5 336.5 L309.6 336.5 L310.4 336.1 L310.5 336 L310.7 335.9 L310.7 335.8 L311.4 335.2 L311.5 335.2 L311.6 335 L311.7 334.9 L312.2 334.1 L312.2 334.1 L312.3 333.9 L312.4 333.8 L312.7 332.9 L312.7 332.8 L312.7 332.6 L312.8 332.5 L312.8 331.6 L312.8 331.5 L312.8 331.3 L312.8 331.2 L312.6 330.3 L312.6 330.2 L312.5 330 L312.5 329.9 L312.1 329.1 L312 329 L311.9 328.8 L311.9 328.7 L311.2 328 L311.2 328 L311 327.8 L310.9 327.8 L310.1 327.2 L310.1 327.2 L310 327.1 L309.9 327.1 L308.5 326.4 L308.5 326.4 L308.4 326.4 L308.4 326.4 L306.9 325.6 L306.9 325.6 L306.8 325.6 L306.8 325.6 L305.3 324.9 L305.3 324.9 L305.2 324.9 L305.2 324.9 L303.7 324.2 L303.7 324.2 L303.6 324.1 L303.6 324.1 L302.1 323.5 L302.1 323.5 L302 323.4 L302 323.4 L300.4 322.8 L300.4 322.8 L300.4 322.8 L300.4 322.8 L298.8 322.1 L298.8 322.1 L298.8 322.1 L298.8 322.1 L297.2 321.5 L297.2 321.5 L297.1 321.4 L297.1 321.4 L295.5 320.8 L295.5 320.8 L295.5 320.8 L295.5 320.8 L293.9 320.2 L293.9 320.2 L293.8 320.2 L293.8 320.2 L292.2 319.6 L292.2 319.6 L292.2 319.6 L292.2 319.6 L290.6 319.1 L290.6 319.1 L290.5 319 L290.5 319 L288.9 318.5 L288.9 318.5 L288.8 318.5 L288.8 318.5 L287.2 318 L287.2 318 L287.1 318 L287.1 318 L285.5 317.5 L285.5 317.5 L285.5 317.5 L285.5 317.4 L283.8 317 L283.8 317 L283.8 317 L283.8 317 L282.1 316.5 L282.1 316.5 L282.1 316.5 L282.1 316.5 L280.4 316 L280.4 316 L280.4 316 L280.4 316 L278.7 315.6 L278.7 315.6 L278.7 315.6 L278.7 315.6 L277 315.2 L277 315.2 L277 315.2 L277 315.2 L275.3 314.8 L275.3 314.8 L275.2 314.8 L275.2 314.8 L273.6 314.4 L273.6 314.4 L273.5 314.4 L273.5 314.4 L271.8 314.1 L271.8 314.1 L271.8 314.1 L271.8 314.1 L270.1 313.8 L270.1 313.7 L270.1 313.7 L270.1 313.7 L268.4 313.4 L268.4 313.4 L268.3 313.4 L268.3 313.4 L266.6 313.1 L266.6 313.1 L266.6 313.1 L266.6 313.1 L264.9 312.9 L264.9 312.9 L264.8 312.9 L264.8 312.9 L263.2 312.6 L263.2 312.6 L263.1 312.6 L263.1 312.6 L261.4 312.4 L261.4 312.4 L261.4 312.4 L261.4 312.4 L259.7 312.2 L259.7 312.2 L259.6 312.2 L259.6 312.2 L257.9 312 L257.9 312 L257.9 312 L257.9 312 L256.2 311.8 L256.2 311.8 L256.1 311.8 L256.1 311.8 L254.4 311.7 L254.4 311.7 L254.4 311.7 L254.3 311.7 L252.6 311.5 L252.6 311.5 L252.6 311.5 L252.6 311.5 L250.9 311.4 L250.9 311.4 L250.8 311.4 L250.8 311.4 L249.1 311.3 L249.1 311.3 L249.1 311.3 L249.1 311.3 L247.4 311.3 L247.4 311.3 L247.3 311.3 L247.3 311.3 L245.6 311.2 L245.6 311.2 L245.6 311.2 L245.6 311.2 L243.9 311.2 L243.9 311.2 L243.7 311.2 L243.7 311.2 L242.7 311.3 L242.6 311.3 L242.4 311.4 L242.3 311.4 L241.5 311.8 L241.4 311.8 L241.2 311.9 L241.1 312 L240.4 312.5 L240.3 312.6 L240.1 312.7 L240.1 312.8 L239.5 313.5 L239.5 313.6 L239.3 313.8 L239.3 313.9 L238.9 314.7 L238.9 314.8 L238.8 315 L238.8 315.1 L238.7 316 L238.7 316.1 L238.7 316.3 L238.7 316.4 L238.8 317.4 L238.8 317.4 L238.9 317.7 L238.9 317.7 L239.2 318.6 L239.3 318.7 L239.4 318.9 L239.4 319 L240 319.7 L240 319.8 L240.2 319.9 L240.3 320 L241 320.6 L241.1 320.6 L241.3 320.7 L241.3 320.8 L242.2 321.1 L242.3 321.2 L242.5 321.2 L242.6 321.2 L243.6 321.4 L243.6 321.4 L243.7 321.4 L243.8 321.4 L245.4 321.4 L245.4 321.4 L247 321.5 L247 321.5 L248.6 321.5 L248.7 321.5 L250.3 321.6 L250.3 321.6 L251.9 321.7 L251.9 321.7 L253.6 321.8 L253.6 321.8 L255.2 322 L255.2 322 L256.8 322.1 L256.8 322.1 L258.5 322.3 L258.5 322.3 L260.1 322.5 L260.1 322.5 L261.7 322.7 L261.7 322.7 L263.3 323 L263.4 323 L265 323.2 L265 323.2 L265.6 323.3 L265.9 323.4 L266.1 323.5 L266.3 323.8 L266.5 324 L266.6 324.3 L267 326.8 L267 327.1 L267 327.5 L266.8 327.7 L266.6 328 L266.3 328.1 L266 328.2 L265.7 328.2 L264.2 328 L264.2 328 L264.2 328 L264.2 328 L264.1 328 L264.1 328 L264.1 328 L264.1 328 L259.4 327.6 L259.4 327.6 L259.4 327.6 L259.3 327.6 L259.2 327.6 L259.2 327.6 L259.2 327.6 L259.2 327.6 L254.5 327.3 L254.5 327.3 L254.5 327.3 L254.5 327.3 L254.3 327.3 L254.3 327.3 L254.3 327.3 L254.3 327.3 L249.6 327.1 L249.6 327.1 L249.6 327.1 L249.6 327.1 L249.5 327.1 L249.5 327.1 L249.4 327.1 L249.4 327.1 L244.7 327.1 L244.7 327.1 L244.7 327.1 L244.7 327.1 L244.6 327.1 L244.6 327.1 L244.6 327.1 L244.5 327.1 L239.8 327.3 L239.8 327.3 L239.8 327.3 L239.8 327.3 L239.7 327.3 L239.7 327.3 L239.7 327.3 L239.7 327.3 L235 327.6 L234.9 327.6 L234.9 327.6 L234.9 327.6 L234.8 327.6 L234.8 327.6 L234.8 327.6 L234.8 327.6 L230.1 328.1 L230.1 328.1 L230.1 328.1 L230.1 328.1 L229.9 328.1 L229.9 328.1 L229.9 328.1 L229.9 328.1 L225.2 328.7 L225.2 328.7 L225.2 328.7 L225.2 328.7 L225.1 328.7 L225.1 328.7 L225.1 328.7 L225.1 328.7 L220.4 329.5 L220.4 329.5 L220.4 329.5 L220.4 329.5 L220.3 329.5 L220.3 329.5 L220.3 329.5 L220.2 329.5 L215.6 330.4 L215.6 330.4 L215.6 330.4 L215.6 330.4 L215.5 330.5 L215.5 330.5 L215.5 330.5 L215.4 330.5 L210.8 331.5 L210.8 331.5 L210.8 331.5 L210.8 331.5 L210.7 331.5 L210.7 331.5 L210.7 331.6 L210.7 331.6 L206.1 332.8 L206.1 332.8 L206.1 332.8 L206.1 332.8 L206 332.8 L206 332.8 L206 332.8 L206 332.8 L201.4 334.1 L201.4 334.1 L201.4 334.2 L201.4 334.2 L201.3 334.2 L201.3 334.2 L201.3 334.2 L201.3 334.2 L196.8 335.7 L196.8 335.7 L196.8 335.7 L196.8 335.7 L196.7 335.7 L196.7 335.7 L196.6 335.7 L196.6 335.7 L192.2 337.4 L192.2 337.4 L192.2 337.4 L192.2 337.4 L192.1 337.4 L192.1 337.4 L192.1 337.4 L192 337.4 L187.7 339.2 L187.7 339.2 L187.7 339.2 L187.7 339.2 L187.5 339.3 L187.5 339.3 L187.5 339.3 L187.5 339.3 L183.2 341.2 L183.2 341.2 L183.2 341.2 L183.2 341.2 L183.1 341.3 L183.1 341.3 L183.1 341.3 L183.1 341.3 L182.9 341.4 L182.5 341.5 L182.2 341.5 L181.9 341.4 L181.6 341.3 L181.4 341.1 L181.2 340.8 L181.1 340.5 L181.1 340.2 L181.3 335.6 L181.4 335.2 L181.5 335 L181.7 334.7 L182 334.5 L183.8 333.7 L183.8 333.7 L185.6 332.9 L185.6 332.9 L187.4 332.1 L187.5 332.1 L189.3 331.3 L189.3 331.3 L191.1 330.6 L191.1 330.6 L193 329.9 L193 329.9 L194.9 329.2 L194.9 329.2 L196.7 328.5 L196.8 328.5 L198.6 327.9 L198.6 327.9 L200.5 327.3 L200.5 327.3 L202.4 326.7 L202.4 326.7 L204.3 326.2 L204.3 326.2 L206.2 325.6 L206.3 325.6 L208.2 325.1 L208.2 325.1 L210.1 324.7 L210.1 324.7 L212 324.2 L212.1 324.2 L214 323.8 L214 323.8 L215.9 323.4 L216 323.4 L217.9 323.1 L217.9 323.1 L219.9 322.7 L219.9 322.7 L221.8 322.4 L221.8 322.4 L223.8 322.1 L223.8 322.1 L225.8 321.9 L225.8 321.9 L227.7 321.7 L227.8 321.7 L227.9 321.6 L227.9 321.6 L228.8 321.4 L228.8 321.4 L229.1 321.3 L229.1 321.3 L229.8 320.9 L229.9 320.9 L230.1 320.7 L230.1 320.7 L230.7 320.1 L230.8 320 L230.9 319.9 L231 319.8 L231.4 319.1 L231.4 319 L231.5 318.8 L231.5 318.8 L231.8 318 L231.8 317.9 L231.8 317.7 L231.8 317.6 L231.8 316.8 L231.8 316.7 L231.8 316.5 L231.8 316.4 L231.6 315.6 L231.6 315.5 L231.5 315.3 L231.5 315.2 L231.1 314.5 L231 314.5 L230.9 314.3 L230.8 314.2 L230.3 313.6 L230.2 313.6 L230 313.4 L230 313.4 L229.3 313 L229.2 312.9 L229 312.9 L228.9 312.8 L228.1 312.6 L228.1 312.6 L227.8 312.5 L227.8 312.5 L226.9 312.5 L226.9 312.5 L226.7 312.5 L226.7 312.5 L224.7 312.8 L224.7 312.8 L224.7 312.8 L224.7 312.8 L222.6 313 L222.6 313 L222.6 313 L222.6 313 L220.5 313.3 L220.5 313.3 L220.5 313.3 L220.5 313.3 L218.4 313.6 L218.4 313.6 L218.4 313.6 L218.4 313.7 L216.3 314 L216.3 314 L216.3 314 L216.3 314 L214.3 314.4 L214.3 314.4 L214.2 314.4 L214.2 314.4 L212.2 314.8 L212.2 314.8 L212.1 314.8 L212.1 314.8 L210.1 315.2 L210.1 315.2 L210 315.2 L210 315.2 L208 315.7 L208 315.7 L208 315.7 L208 315.7 L206 316.2 L206 316.2 L205.9 316.2 L205.9 316.2 L203.9 316.7 L203.9 316.7 L203.9 316.7 L203.9 316.8 L201.9 317.3 L201.9 317.3 L201.8 317.3 L201.8 317.3 L199.8 317.9 L199.8 317.9 L199.8 317.9 L199.8 317.9 L197.8 318.5 L197.8 318.5 L197.8 318.5 L197.8 318.5 L195.8 319.1 L195.8 319.1 L195.7 319.2 L195.7 319.2 L193.8 319.8 L193.8 319.8 L193.7 319.8 L193.7 319.8 L191.8 320.5 L191.8 320.5 L191.7 320.5 L191.7 320.5 L189.8 321.2 L189.8 321.2 L189.7 321.3 L189.7 321.3 L187.8 322 L187.8 322 L187.8 322 L187.8 322 L185.9 322.8 L185.9 322.8 L185.8 322.8 L185.8 322.8 L183.9 323.6 L183.9 323.6 L183.8 323.6 L183.8 323.6 L182 324.4 L182 324.4 L181.9 324.5 L181.9 324.5 L180 325.3 L180 325.3 L180 325.3 L180 325.3 L178.1 326.2 L178.1 326.2 L178 326.2 L178 326.2 L176.4 327 L175.9 327.1 L175.4 327.2 L175.4 327.2 L175.1 327.2 L175.1 327.3 L174.2 327.6 L174.1 327.6 L173.9 327.7 L173.8 327.8 L173.1 328.3 L173 328.4 L172.8 328.5 L172.8 328.6 L172.5 328.9 L172.1 329.2 L170.6 330 L170.5 330 L170.5 330.1 L170.5 330.1 L168.7 331.1 L168.7 331.1 L168.6 331.1 L168.6 331.1 L166.9 332.1 L166.9 332.1 L166.8 332.2 L166.8 332.2 L165 333.2 L165 333.2 L165 333.2 L165 333.2 L163.2 334.3 L163.2 334.3 L163.2 334.3 L163.2 334.3 L161.4 335.4 L161.4 335.4 L161.4 335.5 L161.4 335.5 L159.7 336.6 L159.7 336.6 L159.6 336.6 L159.6 336.6 L157.9 337.8 L157.9 337.8 L157.9 337.8 L157.8 337.8 L156.2 339 L156.2 339 L156.1 339 L156.1 339 L154.4 340.2 L154.4 340.2 L154.4 340.2 L154.4 340.2 L152.7 341.5 L152.7 341.5 L152.7 341.5 L152.7 341.5 L151.1 342.7 L151 342.7 L151 342.8 L150.9 342.8 L150.3 343.4 L150.3 343.5 L150.1 343.7 L150.1 343.7 L149.7 344.4 L149.6 344.5 L149.5 344.7 L149.5 344.8 L149.3 345.6 L149.3 345.7 L149.2 345.9 L149.2 346 L149.2 346.8 L149.2 346.9 L149.3 347.1 L149.3 347.2 L149.5 348 L149.5 348 L149.6 348.2 L149.6 348.3 L150 349 L150.1 349.1 L150.2 349.3 L150.3 349.3 L150.8 349.9 L150.9 350 L151.1 350.1 L151.1 350.1 L151.8 350.6 L151.9 350.6 L152.1 350.7 L152.2 350.7 L153 350.9 L153.1 350.9 L153.3 351 L153.4 351 L154.2 351 L154.3 351 L154.5 350.9 L154.6 350.9 L155.3 350.7 L155.4 350.7 L155.6 350.6 L155.7 350.6 L156.5 350.1 L156.5 350.1 L156.6 350.1 L156.6 350 L158.2 348.9 L158.2 348.9 L159.8 347.7 L159.8 347.7 L161.4 346.5 L161.4 346.5 Z M302.6 334.9 L302.9 335.1 L303.1 335.3 L303.2 335.6 L303.3 335.9 L303.3 336.2 L303.2 336.5 L303.1 336.7 L302.9 336.9 L302.6 337.1 L302.3 337.2 L302 337.2 L301.7 337.1 L297.5 335.6 L297.5 335.6 L297.5 335.6 L297.5 335.6 L297.4 335.6 L297.4 335.5 L297.4 335.5 L297.4 335.5 L292.9 334.1 L292.9 334.1 L292.9 334.1 L292.9 334.1 L292.8 334 L292.8 334 L292.7 334 L292.7 334 L288.2 332.7 L288.2 332.7 L288.2 332.7 L288.2 332.7 L288.1 332.6 L288.1 332.6 L288.1 332.6 L288.1 332.6 L283.5 331.4 L283.5 331.4 L283.5 331.4 L283.5 331.4 L283.3 331.4 L283.3 331.4 L283.3 331.4 L283.3 331.4 L278.7 330.4 L278.7 330.4 L278.7 330.4 L278.7 330.4 L278.6 330.3 L278.6 330.3 L278.6 330.3 L278.6 330.3 L277.8 330.2 L277.5 330.1 L277.2 329.9 L277 329.7 L276.9 329.5 L276.8 329.2 L276.5 327.3 L276.4 327 L276.5 326.7 L276.6 326.5 L276.8 326.2 L277.1 326 L277.4 325.9 L277.6 325.9 L278 326 L279.4 326.3 L279.4 326.3 L281 326.8 L281 326.8 L282.6 327.2 L282.6 327.2 L284.1 327.7 L284.2 327.7 L285.7 328.2 L285.7 328.2 L287.3 328.7 L287.3 328.7 L288.8 329.2 L288.8 329.3 L290.4 329.8 L290.4 329.8 L291.9 330.4 L291.9 330.4 L293.4 331 L293.5 331 L295 331.6 L295 331.6 L296.5 332.2 L296.5 332.2 L298 332.8 L298 332.8 L299.5 333.5 L299.5 333.5 L301 334.2 L301 334.2 L302.5 334.8 L302.5 334.8 Z M266.9 343.3 L266.5 343.2 L266.3 343 L266.1 342.8 L265.9 342.6 L265.8 342.2 L265.4 339.4 L265.4 339.1 L265.5 338.8 L265.6 338.5 L265.8 338.3 L266.1 338.1 L266.4 338 L266.8 338 L267.6 338.1 L267.7 338.2 L272.1 338.9 L272.2 338.9 L276.6 339.7 L276.7 339.7 L281.1 340.7 L281.2 340.8 L285.5 341.9 L285.6 341.9 L289.9 343.2 L290 343.2 L291.1 343.6 L291.4 343.7 L291.6 343.9 L291.8 344.1 L291.9 344.5 L292.6 347 L292.6 347.4 L292.6 347.7 L292.5 348 L292.3 348.3 L292 348.4 L291.7 348.6 L291.4 348.6 L291 348.5 L289.7 348.1 L289.7 348.1 L289.6 348.1 L289.6 348.1 L287.3 347.4 L287.3 347.4 L287.2 347.4 L287.2 347.4 L284.9 346.8 L284.9 346.8 L284.9 346.7 L284.9 346.7 L282.6 346.2 L282.5 346.2 L282.5 346.1 L282.5 346.1 L280.2 345.6 L280.2 345.6 L280.1 345.6 L280.1 345.6 L277.8 345.1 L277.8 345.1 L277.7 345.1 L277.7 345.1 L275.6 344.7 L275.3 344.6 L274.4 344.2 L274.4 344.2 L274.1 344.1 L274.1 344.1 L273.1 344 L273 344 L272.8 344 L272.7 344 L272.3 344 L271.9 344 L270.5 343.8 L270.5 343.8 L270.4 343.8 L270.4 343.8 L268.1 343.4 L268.1 343.4 L268 343.4 L268 343.4 Z M233.3 343.2 L233 343.2 L232.6 343.1 L232.4 342.9 L232.1 342.6 L232 342.3 L231.9 342 L231.8 338.7 L231.8 338.4 L231.9 338.1 L232.1 337.9 L232.3 337.7 L232.6 337.5 L232.9 337.4 L235.6 337.2 L235.7 337.2 L240.2 336.9 L240.2 336.9 L244.8 336.7 L244.8 336.7 L249.4 336.7 L249.4 336.7 L253.9 336.9 L254 336.9 L255.7 337 L256.1 337 L256.4 337.2 L256.6 337.4 L256.8 337.7 L256.9 338 L257.3 340.9 L257.3 341.3 L257.3 341.6 L257.1 341.8 L256.9 342.1 L256.7 342.2 L256.4 342.3 L256 342.4 L255.8 342.3 L255.8 342.3 L255.8 342.3 L255.8 342.3 L253.4 342.3 L253.4 342.3 L253.3 342.2 L253.3 342.2 L250.9 342.2 L250.9 342.2 L250.8 342.2 L250.8 342.2 L248.5 342.2 L248.5 342.2 L248.4 342.2 L248.4 342.2 L246.1 342.2 L246 342.2 L245.9 342.3 L245.9 342.3 L245 342.4 L244.9 342.4 L244.7 342.5 L244.6 342.5 L243.8 342.8 L243.7 342.9 L243.5 343 L243.5 343 L242.8 343.6 L242.7 343.6 L242.6 343.7 L242.4 343.9 L242.1 344.1 L241.8 344.1 L241.5 344.1 L241.2 344 L241 343.8 L240.9 343.7 L240.8 343.7 L240.1 343.2 L240 343.2 L239.8 343.1 L239.7 343.1 L238.9 342.8 L238.8 342.8 L238.6 342.8 L238.5 342.8 L237.6 342.7 L237.5 342.7 L237.4 342.7 L237.4 342.7 L235.1 343 L235.1 343 L235 343 L235 343 Z M203.8 344.4 L203.8 344.1 L203.9 343.8 L204.1 343.5 L204.3 343.3 L204.7 343.2 L208.6 342 L208.7 342 L213 340.9 L213.1 340.8 L217.5 339.8 L217.6 339.8 L222 339 L222 338.9 L223.2 338.8 L223.6 338.7 L223.9 338.8 L224.2 339 L224.4 339.3 L224.6 339.6 L224.7 339.9 L224.8 343.1 L224.8 343.5 L224.7 343.7 L224.5 344 L224.3 344.2 L224 344.3 L223.7 344.4 L222.9 344.5 L222.9 344.5 L222.6 344.6 L222.6 344.6 L221.7 344.9 L221.6 345 L221.6 345 L221.2 345.1 L220.5 345.3 L220.5 345.3 L220.5 345.3 L220.5 345.3 L218.1 345.8 L218.1 345.8 L218.1 345.8 L218.1 345.8 L215.7 346.4 L215.7 346.4 L215.7 346.4 L215.7 346.4 L213.4 347 L213.4 347 L213.3 347 L213.3 347 L211 347.7 L211 347.7 L210.9 347.7 L210.9 347.7 L208.7 348.4 L208.6 348.4 L208.6 348.4 L208.6 348.4 L206.3 349.1 L206.3 349.1 L206.2 349.1 L206.2 349.1 L205.4 349.4 L205.1 349.5 L204.8 349.4 L204.5 349.3 L204.2 349.2 L204 348.9 L203.9 348.6 L203.8 348.3 Z" fill="none" stroke="#0a0a0a" stroke-width="2.2" stroke-dasharray="0 4.2" stroke-linecap="round"/><circle cx="232.6" cy="317.3" r="3.5" fill="#f5e8c6" stroke="#a38a52" stroke-width="1.8"/><circle cx="313.2" cy="334.8" r="3.5" fill="#f5e8c6" stroke="#a38a52" stroke-width="1.8"/><path d="M194.7 384.2 L195.8 383.6 L196.9 382.9 L198.1 382.3 L199.2 381.7 L200.3 381.1 L201.5 380.5 L202.6 379.9 L203.8 379.3 L205 378.8 L206.2 378.2 L207.4 377.7 L208.6 377.2 L209.8 376.7 L211 376.3 L212.2 375.8 L213.5 375.3 L214.7 374.9 L215.9 374.5 L217.2 374.1 L218.5 373.7 L219.7 373.3 L221 373 L222.3 372.6 L223.5 372.3 L224.8 372 L226.1 371.7 L227.4 371.4 L228.7 371.2 L230 370.9 L231.3 370.7 L232.6 370.5 L233.9 370.3 L235.2 370.1 L236.6 369.9 L237.9 369.8 L239.2 369.6 L240.5 369.5 L241.9 369.4 L243.2 369.3" fill="none" stroke="#978047" stroke-width="6.4" stroke-linecap="round"/><path d="M194.7 384.2 L195.8 383.6 L196.9 382.9 L198.1 382.3 L199.2 381.7 L200.3 381.1 L201.5 380.5 L202.6 379.9 L203.8 379.3 L205 378.8 L206.2 378.2 L207.4 377.7 L208.6 377.2 L209.8 376.7 L211 376.3 L212.2 375.8 L213.5 375.3 L214.7 374.9 L215.9 374.5 L217.2 374.1 L218.5 373.7 L219.7 373.3 L221 373 L222.3 372.6 L223.5 372.3 L224.8 372 L226.1 371.7 L227.4 371.4 L228.7 371.2 L230 370.9 L231.3 370.7 L232.6 370.5 L233.9 370.3 L235.2 370.1 L236.6 369.9 L237.9 369.8 L239.2 369.6 L240.5 369.5 L241.9 369.4 L243.2 369.3" fill="none" stroke="#fdf8e6" stroke-width="4.8" stroke-linecap="round"/><path d="M255.1 369.2 L256.5 369.3 L257.9 369.4 L259.2 369.5 L260.6 369.6 L262 369.7 L263.3 369.9 L264.7 370.1 L266 370.3 L267.4 370.5 L268.8 370.7 L270.1 370.9 L271.4 371.2 L272.8 371.5 L274.1 371.8 L275.5 372.1 L276.8 372.4 L278.1 372.7 L279.4 373.1 L280.7 373.5 L282 373.9 L283.3 374.3 L284.6 374.7 L285.9 375.1 L287.2 375.6 L288.4 376 L289.7 376.5 L291 377 L292.2 377.5 L293.4 378.1 L294.7 378.6 L295.9 379.2 L297.1 379.8 L298.3 380.4 L299.5 381 L300.7 381.6 L301.8 382.2 L303 382.9 L304.1 383.5 L305.3 384.2" fill="none" stroke="#978047" stroke-width="6.4" stroke-linecap="round"/><path d="M255.1 369.2 L256.5 369.3 L257.9 369.4 L259.2 369.5 L260.6 369.6 L262 369.7 L263.3 369.9 L264.7 370.1 L266 370.3 L267.4 370.5 L268.8 370.7 L270.1 370.9 L271.4 371.2 L272.8 371.5 L274.1 371.8 L275.5 372.1 L276.8 372.4 L278.1 372.7 L279.4 373.1 L280.7 373.5 L282 373.9 L283.3 374.3 L284.6 374.7 L285.9 375.1 L287.2 375.6 L288.4 376 L289.7 376.5 L291 377 L292.2 377.5 L293.4 378.1 L294.7 378.6 L295.9 379.2 L297.1 379.8 L298.3 380.4 L299.5 381 L300.7 381.6 L301.8 382.2 L303 382.9 L304.1 383.5 L305.3 384.2" fill="none" stroke="#fdf8e6" stroke-width="4.8" stroke-linecap="round"/><path d="M174.8 398.5 L175 398.3 L175.3 398 L175.5 397.8 L175.7 397.6 L176 397.3 L176.2 397.1 L176.4 396.9 L176.7 396.6 L176.9 396.4 L177.1 396.2 L177.4 395.9 L177.6 395.7 L177.9 395.5 L178.1 395.3 L178.4 395 L178.6 394.8 L178.8 394.6 L179.1 394.4 L179.3 394.1 L179.6 393.9 L179.8 393.7 L180.1 393.5 L180.3 393.2 L180.6 393 L180.8 392.8 L181.1 392.6 L181.3 392.4 L181.6 392.2 L181.9 391.9 L182.1 391.7 L182.4 391.5 L182.6 391.3 L182.9 391.1 L183.2 390.9 L183.4 390.7 L183.7 390.5 L183.9 390.3 L184.2 390 L184.5 389.8" fill="none" stroke="#978047" stroke-width="4.800000000000001" stroke-linecap="round"/><path d="M174.8 398.5 L175 398.3 L175.3 398 L175.5 397.8 L175.7 397.6 L176 397.3 L176.2 397.1 L176.4 396.9 L176.7 396.6 L176.9 396.4 L177.1 396.2 L177.4 395.9 L177.6 395.7 L177.9 395.5 L178.1 395.3 L178.4 395 L178.6 394.8 L178.8 394.6 L179.1 394.4 L179.3 394.1 L179.6 393.9 L179.8 393.7 L180.1 393.5 L180.3 393.2 L180.6 393 L180.8 392.8 L181.1 392.6 L181.3 392.4 L181.6 392.2 L181.9 391.9 L182.1 391.7 L182.4 391.5 L182.6 391.3 L182.9 391.1 L183.2 390.9 L183.4 390.7 L183.7 390.5 L183.9 390.3 L184.2 390 L184.5 389.8" fill="none" stroke="#ffffff" stroke-width="3.2" stroke-linecap="round"/><path d="M315.5 389.8 L315.8 390 L316.1 390.3 L316.3 390.5 L316.6 390.7 L316.8 390.9 L317.1 391.1 L317.4 391.3 L317.6 391.5 L317.9 391.7 L318.1 391.9 L318.4 392.2 L318.7 392.4 L318.9 392.6 L319.2 392.8 L319.4 393 L319.7 393.2 L319.9 393.5 L320.2 393.7 L320.4 393.9 L320.7 394.1 L320.9 394.4 L321.2 394.6 L321.4 394.8 L321.6 395 L321.9 395.3 L322.1 395.5 L322.4 395.7 L322.6 395.9 L322.9 396.2 L323.1 396.4 L323.3 396.6 L323.6 396.9 L323.8 397.1 L324 397.3 L324.3 397.6 L324.5 397.8 L324.7 398 L325 398.3 L325.2 398.5" fill="none" stroke="#978047" stroke-width="4.800000000000001" stroke-linecap="round"/><path d="M315.5 389.8 L315.8 390 L316.1 390.3 L316.3 390.5 L316.6 390.7 L316.8 390.9 L317.1 391.1 L317.4 391.3 L317.6 391.5 L317.9 391.7 L318.1 391.9 L318.4 392.2 L318.7 392.4 L318.9 392.6 L319.2 392.8 L319.4 393 L319.7 393.2 L319.9 393.5 L320.2 393.7 L320.4 393.9 L320.7 394.1 L320.9 394.4 L321.2 394.6 L321.4 394.8 L321.6 395 L321.9 395.3 L322.1 395.5 L322.4 395.7 L322.6 395.9 L322.9 396.2 L323.1 396.4 L323.3 396.6 L323.6 396.9 L323.8 397.1 L324 397.3 L324.3 397.6 L324.5 397.8 L324.7 398 L325 398.3 L325.2 398.5" fill="none" stroke="#ffffff" stroke-width="3.2" stroke-linecap="round"/><path d="M174.6 413.4 L175.3 412.4 L176.1 411.4 L176.9 410.4 L177.7 409.5 L178.5 408.5 L179.3 407.6 L180.1 406.6 L181 405.7 L181.9 404.8 L182.8 403.9 L183.7 403.1 L184.6 402.2 L185.5 401.3 L186.5 400.5 L187.4 399.7 L188.4 398.8 L189.4 398 L190.4 397.2 L191.4 396.5 L192.5 395.7 L193.5 394.9 L194.6 394.2 L195.6 393.5 L196.7 392.8 L197.8 392.1 L198.9 391.4 L200.1 390.7 L201.2 390.1 L202.3 389.4 L203.5 388.8 L204.7 388.2 L205.8 387.6 L207 387 L208.2 386.5 L209.4 385.9 L210.6 385.4 L211.9 384.9 L213.1 384.4 L214.4 383.9" fill="none" stroke="#978047" stroke-width="9.5" stroke-linecap="round"/><path d="M174.6 413.4 L175.3 412.4 L176.1 411.4 L176.9 410.4 L177.7 409.5 L178.5 408.5 L179.3 407.6 L180.1 406.6 L181 405.7 L181.9 404.8 L182.8 403.9 L183.7 403.1 L184.6 402.2 L185.5 401.3 L186.5 400.5 L187.4 399.7 L188.4 398.8 L189.4 398 L190.4 397.2 L191.4 396.5 L192.5 395.7 L193.5 394.9 L194.6 394.2 L195.6 393.5 L196.7 392.8 L197.8 392.1 L198.9 391.4 L200.1 390.7 L201.2 390.1 L202.3 389.4 L203.5 388.8 L204.7 388.2 L205.8 387.6 L207 387 L208.2 386.5 L209.4 385.9 L210.6 385.4 L211.9 384.9 L213.1 384.4 L214.4 383.9" fill="none" stroke="#ad965c" stroke-width="7.9" stroke-linecap="round"/><path d="M232.2 379.1 L233.4 378.9 L234.5 378.7 L235.7 378.5 L236.9 378.3 L238.1 378.2 L239.3 378.1 L240.5 377.9 L241.7 377.8 L242.9 377.7 L244.1 377.7 L245.3 377.6 L246.5 377.6 L247.7 377.5 L248.9 377.5 L250.1 377.5 L251.3 377.5 L252.5 377.5 L253.7 377.6 L254.9 377.6 L256.1 377.7 L257.3 377.8 L258.4 377.8 L259.6 378 L260.8 378.1 L262 378.2 L263.2 378.4 L264.4 378.5 L265.6 378.7 L266.8 378.9 L267.9 379.1 L269.1 379.3 L270.3 379.5 L271.5 379.8 L272.6 380 L273.8 380.3 L274.9 380.6 L276.1 380.9 L277.2 381.2 L278.4 381.5" fill="none" stroke="#978047" stroke-width="9.5" stroke-linecap="round"/><path d="M232.2 379.1 L233.4 378.9 L234.5 378.7 L235.7 378.5 L236.9 378.3 L238.1 378.2 L239.3 378.1 L240.5 377.9 L241.7 377.8 L242.9 377.7 L244.1 377.7 L245.3 377.6 L246.5 377.6 L247.7 377.5 L248.9 377.5 L250.1 377.5 L251.3 377.5 L252.5 377.5 L253.7 377.6 L254.9 377.6 L256.1 377.7 L257.3 377.8 L258.4 377.8 L259.6 378 L260.8 378.1 L262 378.2 L263.2 378.4 L264.4 378.5 L265.6 378.7 L266.8 378.9 L267.9 379.1 L269.1 379.3 L270.3 379.5 L271.5 379.8 L272.6 380 L273.8 380.3 L274.9 380.6 L276.1 380.9 L277.2 381.2 L278.4 381.5" fill="none" stroke="#ad965c" stroke-width="7.9" stroke-linecap="round"/><path d="M294.7 387.9 L295.7 388.4 L296.7 388.9 L297.7 389.5 L298.7 390 L299.7 390.6 L300.7 391.2 L301.7 391.7 L302.6 392.3 L303.6 392.9 L304.5 393.6 L305.4 394.2 L306.4 394.8 L307.3 395.5 L308.2 396.1 L309.1 396.8 L309.9 397.5 L310.8 398.2 L311.7 398.9 L312.5 399.6 L313.4 400.3 L314.2 401.1 L315 401.8 L315.8 402.5 L316.6 403.3 L317.4 404.1 L318.1 404.8 L318.9 405.6 L319.7 406.4 L320.4 407.2 L321.1 408 L321.8 408.8 L322.5 409.7 L323.2 410.5 L323.9 411.3 L324.5 412.2 L325.2 413.1 L325.8 413.9 L326.4 414.8 L327 415.7" fill="none" stroke="#978047" stroke-width="9.5" stroke-linecap="round"/><path d="M294.7 387.9 L295.7 388.4 L296.7 388.9 L297.7 389.5 L298.7 390 L299.7 390.6 L300.7 391.2 L301.7 391.7 L302.6 392.3 L303.6 392.9 L304.5 393.6 L305.4 394.2 L306.4 394.8 L307.3 395.5 L308.2 396.1 L309.1 396.8 L309.9 397.5 L310.8 398.2 L311.7 398.9 L312.5 399.6 L313.4 400.3 L314.2 401.1 L315 401.8 L315.8 402.5 L316.6 403.3 L317.4 404.1 L318.1 404.8 L318.9 405.6 L319.7 406.4 L320.4 407.2 L321.1 408 L321.8 408.8 L322.5 409.7 L323.2 410.5 L323.9 411.3 L324.5 412.2 L325.2 413.1 L325.8 413.9 L326.4 414.8 L327 415.7" fill="none" stroke="#ad965c" stroke-width="7.9" stroke-linecap="round"/><path d="M162.7 471.8 L162.4 470.6 L162.2 469.4 L161.9 468.2 L161.7 467 L161.5 465.8 L161.3 464.6 L161.1 463.4 L161 462.2 L160.9 461 L160.8 459.8 L160.7 458.6 L160.6 457.3 L160.6 456.1 L160.6 454.9 L160.6 453.7 L160.6 452.5 L160.7 451.3 L160.8 450.1 L160.9 448.9 L161 447.6 L161.1 446.4 L161.3 445.2 L161.5 444 L161.7 442.8 L161.9 441.6 L162.2 440.4 L162.5 439.2 L162.8 438.1 L163.1 436.9 L163.4 435.7 L163.8 434.5 L164.2 433.4 L164.6 432.2 L165 431 L165.4 429.9 L165.9 428.7 L166.4 427.6 L166.9 426.5 L167.4 425.3" fill="none" stroke="#978047" stroke-width="9.5" stroke-linecap="round"/><path d="M162.7 471.8 L162.4 470.6 L162.2 469.4 L161.9 468.2 L161.7 467 L161.5 465.8 L161.3 464.6 L161.1 463.4 L161 462.2 L160.9 461 L160.8 459.8 L160.7 458.6 L160.6 457.3 L160.6 456.1 L160.6 454.9 L160.6 453.7 L160.6 452.5 L160.7 451.3 L160.8 450.1 L160.9 448.9 L161 447.6 L161.1 446.4 L161.3 445.2 L161.5 444 L161.7 442.8 L161.9 441.6 L162.2 440.4 L162.5 439.2 L162.8 438.1 L163.1 436.9 L163.4 435.7 L163.8 434.5 L164.2 433.4 L164.6 432.2 L165 431 L165.4 429.9 L165.9 428.7 L166.4 427.6 L166.9 426.5 L167.4 425.3" fill="none" stroke="#ad965c" stroke-width="7.9" stroke-linecap="round"/><path d="M337.2 437.8 L337.4 438.8 L337.7 439.9 L337.9 440.9 L338.1 441.9 L338.3 442.9 L338.5 443.9 L338.6 444.9 L338.8 446 L338.9 447 L339 448 L339.1 449.1 L339.2 450.1 L339.3 451.1 L339.3 452.2 L339.4 453.2 L339.4 454.2 L339.4 455.3 L339.4 456.3 L339.4 457.3 L339.3 458.4 L339.3 459.4 L339.2 460.4 L339.1 461.5 L339 462.5 L338.9 463.5 L338.7 464.5 L338.6 465.6 L338.4 466.6 L338.2 467.6 L338 468.6 L337.8 469.6 L337.6 470.7 L337.3 471.7 L337 472.7 L336.8 473.7 L336.5 474.7 L336.2 475.7 L335.8 476.7 L335.5 477.7" fill="none" stroke="#978047" stroke-width="9.5" stroke-linecap="round"/><path d="M337.2 437.8 L337.4 438.8 L337.7 439.9 L337.9 440.9 L338.1 441.9 L338.3 442.9 L338.5 443.9 L338.6 444.9 L338.8 446 L338.9 447 L339 448 L339.1 449.1 L339.2 450.1 L339.3 451.1 L339.3 452.2 L339.4 453.2 L339.4 454.2 L339.4 455.3 L339.4 456.3 L339.4 457.3 L339.3 458.4 L339.3 459.4 L339.2 460.4 L339.1 461.5 L339 462.5 L338.9 463.5 L338.7 464.5 L338.6 465.6 L338.4 466.6 L338.2 467.6 L338 468.6 L337.8 469.6 L337.6 470.7 L337.3 471.7 L337 472.7 L336.8 473.7 L336.5 474.7 L336.2 475.7 L335.8 476.7 L335.5 477.7" fill="none" stroke="#ad965c" stroke-width="7.9" stroke-linecap="round"/><path d="M207.3 523.1 L206.2 522.5 L205 522 L203.8 521.3 L202.6 520.7 L201.5 520.1 L200.4 519.5 L199.2 518.8 L198.1 518.1 L197 517.4 L195.9 516.7 L194.8 516 L193.8 515.3 L192.7 514.5 L191.7 513.8 L190.7 513 L189.7 512.2 L188.7 511.4 L187.7 510.6 L186.7 509.7 L185.8 508.9 L184.8 508 L183.9 507.2 L183 506.3 L182.1 505.4 L181.2 504.5 L180.4 503.6 L179.5 502.7 L178.7 501.7 L177.9 500.8 L177.1 499.8 L176.3 498.9 L175.5 497.9 L174.8 496.9 L174.1 495.9 L173.4 494.9 L172.7 493.9 L172 492.9 L171.3 491.8 L170.7 490.8" fill="none" stroke="#978047" stroke-width="9.5" stroke-linecap="round"/><path d="M207.3 523.1 L206.2 522.5 L205 522 L203.8 521.3 L202.6 520.7 L201.5 520.1 L200.4 519.5 L199.2 518.8 L198.1 518.1 L197 517.4 L195.9 516.7 L194.8 516 L193.8 515.3 L192.7 514.5 L191.7 513.8 L190.7 513 L189.7 512.2 L188.7 511.4 L187.7 510.6 L186.7 509.7 L185.8 508.9 L184.8 508 L183.9 507.2 L183 506.3 L182.1 505.4 L181.2 504.5 L180.4 503.6 L179.5 502.7 L178.7 501.7 L177.9 500.8 L177.1 499.8 L176.3 498.9 L175.5 497.9 L174.8 496.9 L174.1 495.9 L173.4 494.9 L172.7 493.9 L172 492.9 L171.3 491.8 L170.7 490.8" fill="none" stroke="#ad965c" stroke-width="7.9" stroke-linecap="round"/><path d="M260.4 532 L259.4 532.1 L258.4 532.2 L257.4 532.2 L256.4 532.3 L255.4 532.4 L254.4 532.4 L253.4 532.4 L252.4 532.5 L251.4 532.5 L250.4 532.5 L249.4 532.5 L248.4 532.5 L247.3 532.5 L246.3 532.4 L245.3 532.4 L244.3 532.3 L243.3 532.3 L242.3 532.2 L241.3 532.1 L240.3 532 L239.3 531.9 L238.3 531.8 L237.3 531.7 L236.3 531.6 L235.3 531.4 L234.3 531.3 L233.3 531.1 L232.3 531 L231.4 530.8 L230.4 530.6 L229.4 530.4 L228.4 530.2 L227.4 530 L226.5 529.8 L225.5 529.5 L224.5 529.3 L223.6 529 L222.6 528.8 L221.6 528.5" fill="none" stroke="#978047" stroke-width="9.5" stroke-linecap="round"/><path d="M260.4 532 L259.4 532.1 L258.4 532.2 L257.4 532.2 L256.4 532.3 L255.4 532.4 L254.4 532.4 L253.4 532.4 L252.4 532.5 L251.4 532.5 L250.4 532.5 L249.4 532.5 L248.4 532.5 L247.3 532.5 L246.3 532.4 L245.3 532.4 L244.3 532.3 L243.3 532.3 L242.3 532.2 L241.3 532.1 L240.3 532 L239.3 531.9 L238.3 531.8 L237.3 531.7 L236.3 531.6 L235.3 531.4 L234.3 531.3 L233.3 531.1 L232.3 531 L231.4 530.8 L230.4 530.6 L229.4 530.4 L228.4 530.2 L227.4 530 L226.5 529.8 L225.5 529.5 L224.5 529.3 L223.6 529 L222.6 528.8 L221.6 528.5" fill="none" stroke="#ad965c" stroke-width="7.9" stroke-linecap="round"/><path d="M325.4 496.6 L324.5 497.8 L323.7 498.9 L322.8 500 L321.9 501.1 L320.9 502.2 L320 503.2 L319 504.3 L318 505.3 L317 506.4 L315.9 507.4 L314.8 508.3 L313.8 509.3 L312.7 510.3 L311.5 511.2 L310.4 512.1 L309.2 513 L308.1 513.9 L306.9 514.8 L305.7 515.7 L304.4 516.5 L303.2 517.3 L301.9 518.1 L300.6 518.9 L299.3 519.6 L298 520.4 L296.7 521.1 L295.4 521.8 L294 522.5 L292.7 523.1 L291.3 523.7 L289.9 524.4 L288.5 525 L287.1 525.5 L285.6 526.1 L284.2 526.6 L282.8 527.1 L281.3 527.6 L279.8 528.1 L278.4 528.5" fill="none" stroke="#978047" stroke-width="9.5" stroke-linecap="round"/><path d="M325.4 496.6 L324.5 497.8 L323.7 498.9 L322.8 500 L321.9 501.1 L320.9 502.2 L320 503.2 L319 504.3 L318 505.3 L317 506.4 L315.9 507.4 L314.8 508.3 L313.8 509.3 L312.7 510.3 L311.5 511.2 L310.4 512.1 L309.2 513 L308.1 513.9 L306.9 514.8 L305.7 515.7 L304.4 516.5 L303.2 517.3 L301.9 518.1 L300.6 518.9 L299.3 519.6 L298 520.4 L296.7 521.1 L295.4 521.8 L294 522.5 L292.7 523.1 L291.3 523.7 L289.9 524.4 L288.5 525 L287.1 525.5 L285.6 526.1 L284.2 526.6 L282.8 527.1 L281.3 527.6 L279.8 528.1 L278.4 528.5" fill="none" stroke="#ad965c" stroke-width="7.9" stroke-linecap="round"/><path d="M149 498.8 L164 511.5 L180 527 L196.1 541.6" fill="none" stroke="#978047" stroke-width="10.4" stroke-linecap="round" stroke-linejoin="round"/><path d="M149 498.8 L164 511.5 L180 527 L196.1 541.6" fill="none" stroke="#ad965c" stroke-width="8.8" stroke-linecap="round" stroke-linejoin="round"/><path d="M145.4 503 L160.3 515.6 L176.2 531 L176.3 531.1 L192.4 545.7" fill="none" stroke="#0a0a0a" stroke-width="2.2" stroke-dasharray="0 5.6" stroke-linecap="round"/><path d="M287.5 549.1 L305 538.5 L322 525.5 L338.9 512.4" fill="none" stroke="#978047" stroke-width="10.4" stroke-linecap="round" stroke-linejoin="round"/><path d="M287.5 549.1 L305 538.5 L322 525.5 L338.9 512.4" fill="none" stroke="#ad965c" stroke-width="8.8" stroke-linecap="round" stroke-linejoin="round"/><path d="M284.7 544.4 L301.9 534 L318.6 521.1 L335.5 508.1" fill="none" stroke="#0a0a0a" stroke-width="2.2" stroke-dasharray="0 5.6" stroke-linecap="round"/><line x1="172.5" y1="520" x2="186" y2="505.5" stroke="#ad965c" stroke-width="25"/><line x1="313" y1="532.5" x2="303.5" y2="518.5" stroke="#ad965c" stroke-width="21"/><path d="M200.5 263 L199.8 263.9 L199.3 264.9 L199 266 L198.8 267.1 L199 268.2 L199.3 269.3 L199.8 270.3 L200.5 271.2 L201.4 271.9 L203.9 273.7 L206.5 275.5 L209.1 277.1 L211.8 278.6 L212.7 279.1 L215.4 280.5 L218.2 281.7 L221.1 282.9 L224 284 L227.1 284.9 L227.8 285.1 L230.9 286 L234 286.7 L237.3 287.3 L240.6 287.8 L243.9 288.1 L244.7 288.2 L248.1 288.5 L251.7 288.6 L255.3 288.6 L259 288.5 L262.8 288.3 L266.6 288 L267.4 287.9 L271.4 287.5 L275.4 286.9 L279.5 286.3 L283.7 285.5 L288 284.6 L292.4 283.6 L296.9 282.5 L301.4 281.3 L306 280 L307.1 279.7 L308.1 279.2 L309 278.5 L309.7 277.6 L310.2 276.6 L310.5 275.5 L310.6 274.4 L310.5 273.3 L310.2 272.2 L309.7 271.2 L309 270.3 L308.1 269.6 L307.1 269.1 L306 268.8 L304.9 268.6 L303.8 268.8 L302.7 269.1 L298.2 270.9 L293.9 272.7 L289.5 274.2 L285.4 275.6 L282 276.6 L277.8 277.7 L273.8 278.6 L269.8 279.4 L265.8 280.1 L262.2 280.5 L259 280.8 L255.3 281 L251.7 281.1 L248.1 281 L245 280.7 L242 280.4 L238.7 279.8 L235.5 279.1 L232.7 278.4 L230.1 277.5 L227.2 276.4 L224.3 275.1 L222.2 274 L219.6 272.5 L217.1 270.8 L214.9 269.1 L213 267.5 L210.8 265.3 L208.7 263 L207.8 262.3 L206.8 261.8 L205.7 261.5 L204.6 261.4 L203.5 261.5 L202.4 261.8 L201.4 262.3 Z" fill="#25a9e0" stroke="#17607f" stroke-width="0.9"/><path d="M214.5 255.4 L214 256.2 L213.5 257 L213.2 257.9 L213.2 258.8 L213.2 259.7 L213.5 260.6 L214 261.4 L214.5 262.2 L216.7 264 L217.3 264.6 L219.5 266.3 L221.6 267.9 L223.8 269.4 L226 270.8 L228.3 272 L228.8 272.4 L231.1 273.5 L233.4 274.5 L235.8 275.5 L238.1 276.3 L238.7 276.4 L241.1 277.1 L243.5 277.7 L246 278.2 L248.6 278.6 L249.1 278.6 L251.7 278.9 L254.3 279 L257 279 L259.7 278.9 L262.5 278.7 L263.1 278.6 L265.9 278.3 L268.8 277.8 L271.8 277.3 L274.8 276.6 L277.8 275.9 L280.9 275 L281.6 274.8 L284.8 273.8 L288 272.7 L291.4 271.5 L294.7 270.2 L295.5 269.7 L296.3 269.2 L296.8 268.4 L297.3 267.6 L297.6 266.7 L297.6 265.8 L297.6 264.9 L297.3 264 L296.8 263.2 L296.3 262.4 L295.5 261.9 L294.7 261.4 L293.8 261.1 L292.9 261.1 L292 261.1 L291.1 261.4 L290.3 261.9 L287.2 263.7 L284.6 265.1 L281.8 266.5 L278.7 267.9 L275.8 269.1 L272.8 270.2 L270.3 271.1 L267.6 271.8 L264.8 272.4 L262 272.9 L259.5 273.2 L257 273.4 L254.3 273.5 L251.7 273.4 L249.6 273.2 L247.1 272.8 L244.6 272.3 L242.5 271.7 L240.4 270.9 L238 269.9 L236.1 269 L234.1 267.8 L232 266.4 L230.1 265 L228.5 263.6 L226.6 261.8 L224.8 259.8 L223.4 258.3 L221.8 256.2 L221.3 255.4 L220.5 254.9 L219.7 254.4 L218.8 254.1 L217.9 254.1 L217 254.1 L216.1 254.4 L215.3 254.9 Z" fill="#25a9e0" stroke="#17607f" stroke-width="0.9"/><path d="M228.8 255.8 L228.3 256.4 L227.9 257.2 L227.6 258 L227.6 258.8 L227.6 259.6 L227.9 260.4 L228.3 261.2 L228.8 261.8 L229.4 262.3 L231.1 263.3 L232.8 264.3 L233.4 264.6 L235 265.5 L236.7 266.2 L238.3 267 L239.9 267.6 L241.5 268.2 L243.1 268.7 L243.6 268.9 L245.2 269.3 L246.8 269.7 L248.4 270 L250 270.3 L251.6 270.5 L252 270.5 L253.6 270.6 L255.2 270.7 L256.8 270.6 L258.4 270.5 L258.9 270.5 L260.5 270.3 L262.1 270.1 L263.8 269.8 L265.5 269.4 L267.1 269 L268.8 268.5 L269.4 268.3 L271.1 267.7 L272.8 267.1 L274.6 266.4 L276.3 265.6 L278.1 264.8 L279.9 263.9 L280.7 263.5 L281.3 263 L281.8 262.4 L282.2 261.6 L282.5 260.8 L282.6 260 L282.5 259.2 L282.2 258.4 L281.8 257.6 L281.3 257 L280.7 256.5 L279.9 256.1 L279.1 255.8 L278.3 255.8 L277.5 255.8 L276.7 256.1 L275.9 256.5 L275.3 257 L273.8 258.4 L272.7 259.3 L271.3 260.3 L269.8 261.4 L268.2 262.4 L267 263.1 L265.6 263.8 L264 264.5 L262.5 265 L261.2 265.4 L259.6 265.7 L258 266 L256.8 266.1 L255.2 266.2 L253.6 266.1 L252.4 266 L250.9 265.8 L249.3 265.4 L248.1 265.1 L246.6 264.6 L245.1 263.9 L243.9 263.3 L242.6 262.6 L241.1 261.6 L239.7 260.6 L238.8 259.8 L237.5 258.6 L236.1 257.2 L234.8 255.8 L234.2 255.3 L233.4 254.9 L232.6 254.6 L231.8 254.6 L231 254.6 L230.2 254.9 L229.4 255.3 Z" fill="#25a9e0" stroke="#17607f" stroke-width="0.9"/><path d="M239.7 253.5 L239.2 254 L238.9 254.6 L238.7 255.3 L238.6 256 L238.7 256.7 L238.9 257.4 L239.2 258 L239.7 258.5 L240.2 259 L240.8 259.3 L241.8 259.8 L242.7 260.3 L243.6 260.7 L244.6 261.1 L245.5 261.5 L246.4 261.8 L246.8 261.9 L247.7 262.2 L248.5 262.4 L249.4 262.6 L250.3 262.7 L251.1 262.8 L251.4 262.8 L252.3 262.9 L253.1 262.9 L254 262.8 L254.2 262.8 L255.1 262.7 L256 262.6 L256.8 262.4 L257.7 262.2 L258 262.1 L258.9 261.8 L259.8 261.5 L260.7 261.1 L261.6 260.7 L262.5 260.3 L263.5 259.8 L263.9 259.6 L264.9 259 L265.9 258.4 L266.9 257.8 L267.9 257.1 L269 256.4 L269.5 255.9 L270 255.4 L270.3 254.8 L270.5 254.1 L270.6 253.4 L270.5 252.7 L270.3 252 L270 251.4 L269.5 250.9 L269 250.4 L268.4 250.1 L267.7 249.9 L267 249.8 L266.3 249.9 L265.6 250.1 L265 250.4 L264.5 250.9 L264 251.4 L263.7 252 L263.4 252.6 L262.8 253.6 L262.1 254.6 L261.4 255.6 L261 256.1 L260.3 256.9 L259.5 257.6 L259 258 L258.2 258.6 L257.5 259 L256.8 259.3 L256 259.6 L255.4 259.8 L254.6 260 L254 260 L253.1 260 L252.5 260 L251.7 259.9 L251.1 259.7 L250.4 259.4 L249.8 259.1 L249.1 258.7 L248.5 258.2 L248 257.8 L247.3 257.1 L246.9 256.6 L246.3 255.9 L245.8 255 L245.2 254 L244.7 253.5 L244.2 253 L243.6 252.7 L242.9 252.5 L242.2 252.4 L241.5 252.5 L240.8 252.7 L240.2 253 Z" fill="#25a9e0" stroke="#17607f" stroke-width="0.9"/><rect x="208.2" y="241.1" width="10" height="10" rx="3.6" fill="#25a9e0" stroke="#17607f" stroke-width="0.9" transform="rotate(-12 213.2 246.1)"/><rect x="233.2" y="238.5" width="10" height="10" rx="3.6" fill="#25a9e0" stroke="#17607f" stroke-width="0.9" transform="rotate(-12 238.2 243.5)"/><rect x="253.4" y="226.9" width="10" height="10" rx="3.6" fill="#25a9e0" stroke="#17607f" stroke-width="0.9" transform="rotate(-12 258.4 231.9)"/><rect x="267.1" y="236.6" width="8" height="8" rx="2.9" fill="#25a9e0" stroke="#17607f" stroke-width="0.9" transform="rotate(-12 271.1 240.6)"/><rect x="279.1" y="241.2" width="10.5" height="10.5" rx="3.8" fill="#25a9e0" stroke="#17607f" stroke-width="0.9" transform="rotate(-12 284.3 246.5)"/><ellipse cx="253.9" cy="249.2" rx="1.9" ry="2.5" fill="#25a9e0" stroke="#17607f" stroke-width="0.8" transform="rotate(20 253.9 249.2)"/><ellipse cx="163.5" cy="78" rx="29.5" ry="22.5" fill="#6aa743" stroke="#375623" stroke-width="1.3"/><text x="163.5" y="84.6" font-size="19.2" fill="#13280a" text-anchor="middle" stroke="#13280a" stroke-width="0.3">Tg</text><ellipse cx="302.5" cy="78" rx="29.5" ry="22.5" fill="#6aa743" stroke="#375623" stroke-width="1.3"/><text x="302.5" y="84.6" font-size="19.2" fill="#13280a" text-anchor="middle" stroke="#13280a" stroke-width="0.3">Tg</text><ellipse cx="441" cy="78" rx="29.5" ry="22.5" fill="#6aa743" stroke="#375623" stroke-width="1.3"/><text x="441" y="84.6" font-size="19.2" fill="#13280a" text-anchor="middle" stroke="#13280a" stroke-width="0.3">Tg</text><ellipse cx="426.5" cy="383" rx="30" ry="23" fill="#6aa743" stroke="#375623" stroke-width="1.3"/><text x="426.5" y="389.6" font-size="19.2" fill="#13280a" text-anchor="middle" stroke="#13280a" stroke-width="0.3">Tg</text><ellipse cx="391" cy="465" rx="30" ry="22.5" fill="#6aa743" stroke="#375623" stroke-width="1.3"/><text x="391" y="471.6" font-size="19.2" fill="#13280a" text-anchor="middle" stroke="#13280a" stroke-width="0.3">Tg</text><ellipse cx="229.8" cy="115.4" rx="39.8" ry="15.2" fill="#ed7d31" stroke="#7a3a10" stroke-width="1.2"/><text x="229.8" y="122.2" font-size="19" fill="#2e1505" text-anchor="middle" >TPO</text><ellipse cx="372.5" cy="114" rx="39.8" ry="15.2" fill="#ed7d31" stroke="#7a3a10" stroke-width="1.2"/><text x="372.5" y="120.8" font-size="19" fill="#2e1505" text-anchor="middle" >TPO</text><text x="12.6" y="81.2" font-size="18.5" fill="#000" text-anchor="start" >Lumen</text><text x="98.8" y="84" font-size="18" fill="#000" text-anchor="start" >I<tspan dy="-7" font-size="11">-</tspan></text><text x="119" y="83.5" font-size="18" fill="#000" text-anchor="start" >+</text><text x="249" y="29.5" font-size="18" fill="#000" text-anchor="start" >MIT</text><text x="319.5" y="29.5" font-size="18" fill="#000" text-anchor="start" >DIT</text><text x="394" y="29.5" font-size="18" fill="#000" text-anchor="start" >T3</text><text x="464.5" y="29.5" font-size="18" fill="#000" text-anchor="start" >T4</text><line x1="269.5" y1="36" x2="282" y2="61" stroke="#000" stroke-width="2.6"/><line x1="332.5" y1="36" x2="324.5" y2="61" stroke="#000" stroke-width="2.6"/><line x1="407.5" y1="36" x2="420.5" y2="61" stroke="#000" stroke-width="2.6"/><line x1="470.5" y1="36" x2="462.5" y2="61" stroke="#000" stroke-width="2.6"/><line x1="392.4" y1="341" x2="405.3" y2="367" stroke="#000" stroke-width="2.6"/><line x1="456" y1="341" x2="447" y2="367" stroke="#000" stroke-width="2.6"/><text x="207" y="69.8" font-size="18.2" fill="#000" text-anchor="start" >H<tspan dy="4.2" font-size="11.5">2</tspan><tspan dy="-4.2">O</tspan><tspan dy="4.2" font-size="11.5">2</tspan></text><text x="345.5" y="69.8" font-size="18.2" fill="#000" text-anchor="start" >H<tspan dy="4.2" font-size="11.5">2</tspan><tspan dy="-4.2">O</tspan><tspan dy="4.2" font-size="11.5">2</tspan></text><path d="M194.2 70.2 L202 70.2 C203.5 79 213 86.8 228 87.3 C239 87.5 248 84.2 254.4 78.6 L252.4 76 L263.5 73.2 L260.3 84.2 L257.8 81.8 C250 88.5 240 91.4 228 91.2 C209 90.8 196 83 194.2 70.2 Z" fill="#000"/><path d="M333.3 70.2 L341.1 70.2 C342.6 79 352.1 86.8 367.1 87.3 C378.1 87.5 387.1 84.2 393.5 78.6 L391.5 76 L402.6 73.2 L399.4 84.2 L396.9 81.8 C389.1 88.5 379.1 91.4 367.1 91.2 C348.1 90.8 335.1 83 333.3 70.2 Z" fill="#000"/><text x="379" y="335.5" font-size="18" fill="#000" text-anchor="start" >T3</text><text x="447.8" y="335.5" font-size="18" fill="#000" text-anchor="start" >T4</text><text x="427.5" y="471.5" font-size="18" fill="#000" text-anchor="start" >T3 T4</text><line x1="427" y1="412.5" x2="409.4" y2="434.5" stroke="#000" stroke-width="2.8"/><polygon points="404.4,440.8 406.7,431.1 413.3,436.4" fill="#000"/><line x1="426" y1="412.5" x2="442.4" y2="435.5" stroke="#000" stroke-width="2.8"/><polygon points="447,442 438.3,437.1 445.2,432.2" fill="#000"/><line x1="173" y1="455.3" x2="329" y2="455.3" stroke="#000" stroke-width="3"/><rect x="179" y="443.7" width="64.5" height="22.3" fill="#ffc000" stroke="#7f6000" stroke-width="1.2"/><text x="211.4" y="458.8" font-size="10.6" fill="#3b2a00" text-anchor="middle" >Promoter</text><text x="291.2" y="474.4" font-size="10.6" fill="#1c1c1c" text-anchor="middle" >TSHR, Tg, NIS,</text><text x="291.2" y="487.5" font-size="10.6" fill="#1c1c1c" text-anchor="middle" >TPO, PAX8,</text><text x="291.2" y="500.6" font-size="10.6" fill="#1c1c1c" text-anchor="middle" >NKX2-1</text><rect x="98" y="558.5" width="56" height="57.2" rx="8.5" fill="#5b9bd5" stroke="#2e5c8e" stroke-width="1.3"/><text x="125.8" y="593.8" font-size="17.5" fill="#0d1b33" text-anchor="middle" >NIS</text><line x1="105.4" y1="634" x2="105.4" y2="546" stroke="#000" stroke-width="2.8"/><polygon points="105.4,537 109.9,547 100.9,547" fill="#000"/><path d="M338.6 568 m-6.2 6 a6.2 6.2 0 0 1 12.4 0 l0 16 l13.5 14.5 a4.6 4.6 0 0 1 -6.8 6.2 l-12.9 -14 l-12.9 14 a4.6 4.6 0 0 1 -6.8 -6.2 l13.5 -14.5 Z" fill="#5b9bd5" stroke="#2e5c8e" stroke-width="1.2"/><ellipse cx="338.4" cy="629" rx="42.5" ry="15.6" fill="#4472c4" stroke="#3a62ad" stroke-width="1"/><text x="338.4" y="635.8" font-size="19" fill="#101c40" text-anchor="middle" >TSH</text><text x="350.3" y="573.5" font-size="18.5" fill="#000" text-anchor="start" >TSHR</text><text x="409" y="637.7" font-size="18.5" fill="#cc1f24" text-anchor="start" >Secretion</text><line x1="220.5" y1="233.4" x2="174.9" y2="124.1" stroke="#000" stroke-width="3.2"/><polygon points="171.5,116 179.3,123.3 171.2,126.7" fill="#000"/><line x1="248.7" y1="313.6" x2="247.8" y2="298.4" stroke="#000" stroke-width="3"/><polygon points="247.4,290.4 252.1,299.1 243.7,299.6" fill="#000"/><line x1="300.7" y1="315.2" x2="362.6" y2="205.4" stroke="#000" stroke-width="3.2"/><polygon points="366.9,197.7 365.9,208.4 358.3,204.1" fill="#000"/><line x1="442" y1="106" x2="431.5" y2="292.2" stroke="#000" stroke-width="3.2"/><polygon points="431,301 427.2,291 435.9,291.5" fill="#000"/><line x1="158.6" y1="530.5" x2="150.5" y2="542.4" stroke="#000" stroke-width="3"/><polygon points="146,549 147.6,539.2 154.6,544" fill="#000"/><line x1="294.6" y1="558.5" x2="315.8" y2="574.3" stroke="#000" stroke-width="3"/><polygon points="323,579.7 312.3,577.3 317.7,570.1" fill="#000"/><line x1="450" y1="493.7" x2="450" y2="609.8" stroke="#000" stroke-width="3.2"/><polygon points="450,618.6 445.6,608.8 454.4,608.8" fill="#000"/><line x1="104" y1="501" x2="102.8" y2="135.1" stroke="#000" stroke-width="3.2"/><polygon points="102.8,126.3 107.2,136.1 98.4,136.1" fill="#000"/><circle cx="85.3" cy="109.4" r="5.6" fill="#7030a0"/><circle cx="102.3" cy="103.4" r="5.6" fill="#7030a0"/><circle cx="112.7" cy="115.6" r="5.6" fill="#7030a0"/><circle cx="87.7" cy="525" r="5.6" fill="#7030a0"/><circle cx="104.6" cy="518" r="5.6" fill="#7030a0"/><circle cx="115" cy="531" r="5.6" fill="#7030a0"/><circle cx="96.5" cy="650.7" r="5.6" fill="#7030a0"/><circle cx="113.9" cy="644" r="5.6" fill="#7030a0"/><circle cx="124.8" cy="656" r="5.6" fill="#7030a0"/><text x="127.6" y="529.5" font-size="18" fill="#000" text-anchor="start" >I<tspan dy="-7" font-size="11">-</tspan></text><text x="124" y="635.5" font-size="18" fill="#000" text-anchor="start" >I<tspan dy="-7" font-size="11">-</tspan></text><text x="24" y="637.3" font-size="18.5" fill="#cc1f24" text-anchor="start" >Uptake</text><path d="M249.8 455 L249.8 426.8 L277 426.8" fill="none" stroke="#000" stroke-width="2.4"/><polygon points="283.2,426.8 276,423.4 276,430.2" fill="#000"/></g>
<g transform="translate(620 0)"><path d="M98 593.2 C97 593 95.4 592.7 92 592 C88.6 591.3 82.4 590.9 77.6 589.2 C72.8 587.5 67.2 584.9 63.2 582 C59.2 579.1 56.7 576.1 53.8 572 C50.9 567.9 47.9 562.4 45.9 557.6 C43.9 552.8 42.8 548 41.6 543.2 C40.4 538.4 39.3 534.7 38.7 528.8 C38.1 522.9 37.9 514.4 37.8 508 C37.7 501.6 37.6 498.6 38.1 490.7 C38.6 482.8 39.3 470.6 40.6 460.5 C41.9 450.4 43.9 440.3 45.7 430.2 C47.5 420.1 49.9 410 51.6 400 C53.3 390 53.7 385.6 56 370 C58.3 354.4 62.4 327.8 65.4 306.6 C68.5 285.4 72 260.8 74.3 243 C76.6 225.2 78 215.2 79 200 C80 184.8 80.2 160 80.5 152 L80.5 152 C80.5 141.4 95 141.4 95 152 L95 193.9 C95 198 100 198 100 193.9 L100 147.4 C100 140.2 108.7 140.2 108.7 147.4 L108.7 187.4 C108.7 195.1 118 195.1 118 187.4 L118 154.7 C118 145.4 129.2 145.4 129.2 154.7 L129.2 188.2 C129.2 196.8 139.6 196.8 139.6 188.2 L139.6 151.5 C139.6 142.2 150.8 142.2 150.8 151.5 L150.8 180.3 C150.8 187.1 159 187.1 159 180.3 L159 148.5 C159 138.8 170.7 138.8 170.7 148.5 L170.7 178.9 C170.7 188.1 181.8 188.1 181.8 178.9 L181.8 149.2 C181.8 138.6 195.4 138.6 195.4 149.2 L195.4 178 C195.4 188.4 207.9 188.4 207.9 178 L207.9 149.5 C207.9 138.9 221.5 138.9 221.5 149.5 L221.5 179.5 C221.5 189.1 233 189.1 233 179.5 L233 149 C233 139 245 139 245 149 L245 183.6 C245 193.4 256.8 193.4 256.8 183.6 L256.8 153.9 C256.8 143.4 269.5 143.4 269.5 153.9 L269.5 190.9 C269.5 200.6 281.2 200.6 281.2 190.9 L281.2 154.6 C281.2 144 295.8 144 295.8 154.6 L295.8 189.9 C295.8 200.4 308.5 200.4 308.5 189.9 L308.5 154.6 C308.5 146.5 318.2 146.5 318.2 154.6 L318.2 188.2 C318.2 196.3 328 196.3 328 188.2 L328 155.1 C328 144.5 341.6 144.5 341.6 155.1 L341.6 186 C341.6 196.5 354.2 196.5 354.2 186 L354.2 157.2 C354.2 147 366.5 147 366.5 157.2 L366.5 185.3 C366.5 192.1 374.7 192.1 374.7 185.3 L374.7 147.2 C374.7 139.9 383.5 139.9 383.5 147.2 L383.5 185.2 C383.5 190.8 390.3 190.8 390.3 185.2 L390.3 147.6 C390.3 137.1 403 137.1 403 147.6 L403 187.8 C403 193.4 409.8 193.4 409.8 187.8 L409.8 146.8 C409.8 138.7 419.5 138.7 419.5 146.8 L428.3 188.6 C428.3 191 431.2 191 431.2 188.6 L431.2 144.3 C431.2 137 440 137 440 144.3 L440 188.4 C440 194.9 447.8 194.9 447.8 188.4 L447.8 147.2 C447.8 141.2 455 141.2 455 147.2 C455.3 155.6 455.8 169.4 456.9 180 C458 190.6 460.1 203 461.7 214.5 C463.2 226 464.7 237.5 466.2 249 C467.7 260.5 469 271.9 470.7 283.4 C472.4 294.9 474.2 306.5 476.6 318 C479 329.5 482.3 340.9 485.2 352.4 C488.1 363.9 491.1 376 493.8 386.9 C496.5 397.8 499.5 409.1 501.4 418 C503.2 426.9 503.9 431.3 504.9 440 C505.9 448.7 506.8 461.4 507.2 470 C507.6 478.6 507.7 481.7 507.5 491.8 C507.3 501.9 507.1 519.9 506.2 530.7 C505.3 541.5 504.4 549.3 502.3 556.6 C500.2 563.9 497 570 493.3 574.7 C489.6 579.4 485.1 582.4 480.3 585 C475.6 587.6 470 589.3 464.8 590.3 C459.6 591.3 459.8 590.8 449 591.2 C438.2 591.6 424.8 592.5 400 592.8 C375.2 593.1 341 592.9 300 593.2 C259 593.5 178.3 594.3 154 594.5" fill="none" stroke="#1c1c1c" stroke-width="1.75" stroke-linejoin="round"/><rect x="225.2" y="129" width="3.6" height="53.5" fill="#dd9060" stroke="#8a4a1e" stroke-width="1"/><rect x="368.4" y="128" width="3.6" height="53" fill="#dd9060" stroke="#8a4a1e" stroke-width="1"/><ellipse cx="250" cy="455" rx="94.5" ry="82" fill="#e4e4e4" stroke="#dccfa8" stroke-width="1.6"/><path d="M166.2 394.4 L169.8 391.3 L173.4 388.3 L177.2 385.5 L181 382.9 L185 380.3 L189 378 L193.2 375.7 L197.4 373.7 L201.7 371.7 L206 370 L210.4 368.4 L214.9 366.9 L219.4 365.7 L224 364.6 L228.6 363.6 L233.2 362.9 L237.9 362.3 L242.5 361.8 L247.2 361.6 L251.9 361.5 L256.6 361.6 L261.3 361.9 L266 362.3 L270.6 362.9 L275.2 363.7 L279.8 364.6 L284.4 365.7 L288.9 367 L293.4 368.4 L297.8 370.1 L302.1 371.8 L306.4 373.8 L310.6 375.8 L314.8 378.1 L318.8 380.5 L322.8 383 L326.6 385.7 L330.4 388.5 L334 391.4 L323.9 408.3 L321.3 405.2 L318.4 402.3 L315.4 399.5 L312.2 396.8 L308.9 394.2 L305.5 391.8 L301.9 389.6 L298.2 387.5 L294.4 385.5 L290.5 383.7 L286.5 382.1 L282.4 380.7 L278.2 379.4 L274 378.3 L269.7 377.4 L265.4 376.6 L261 376.1 L256.6 375.7 L252.2 375.5 L247.8 375.5 L243.4 375.7 L239 376.1 L234.6 376.6 L230.3 377.4 L226 378.3 L221.8 379.4 L217.6 380.7 L213.5 382.1 L209.5 383.7 L205.6 385.5 L201.8 387.5 L198.1 389.6 L194.5 391.8 L191.1 394.2 L187.8 396.8 L184.6 399.5 L181.6 402.3 L178.7 405.2 L176.1 408.3 Z" fill="#ad965c"/><path d="M159.4 394.4 L163.1 390.9 L167 387.6 L171 384.4 L175.1 381.4 L179.3 378.5 L183.6 375.8 L188 373.2 L192.6 370.9 L197.2 368.7 L201.8 366.7 L206.6 364.8 L211.4 363.2 L216.3 361.7 L221.3 360.5 L226.2 359.4 L231.3 358.5 L236.3 357.8 L241.4 357.3 L246.5 357 L251.6 356.9 L256.7 357 L261.8 357.3 L266.8 357.8 L271.9 358.4 L276.9 359.3 L281.9 360.4 L286.8 361.6 L291.7 363.1 L296.6 364.7 L301.3 366.5 L306 368.5 L310.6 370.7 L315.2 373 L319.6 375.6 L323.9 378.3 L328.1 381.1 L332.3 384.1 L336.2 387.3 L340.1 390.6" fill="none" stroke="#0a0a0a" stroke-width="2.2" stroke-dasharray="0 4.2" stroke-linecap="round"/><path d="M163.6 396.8 L167.2 393.5 L170.9 390.4 L174.7 387.4 L178.6 384.5 L182.7 381.8 L186.8 379.3 L191 376.9 L195.3 374.6 L199.7 372.6 L204.2 370.7 L208.7 369 L213.3 367.4 L218 366.1 L222.7 364.9 L227.4 363.8 L232.2 363 L237 362.4 L241.9 361.9 L246.7 361.6 L251.5 361.5 L256.4 361.6 L261.2 361.8 L266.1 362.3 L270.9 362.9 L275.7 363.7 L280.4 364.7 L285.1 365.9 L289.8 367.3 L294.4 368.8 L298.9 370.5 L303.4 372.4 L307.8 374.4 L312.1 376.6 L316.4 379 L320.5 381.5 L324.6 384.2 L328.5 387.1 L332.3 390 L336 393.2" fill="none" stroke="#978047" stroke-width="9.6" stroke-linecap="round"/><path d="M163.6 396.8 L167.2 393.5 L170.9 390.4 L174.7 387.4 L178.6 384.5 L182.7 381.8 L186.8 379.3 L191 376.9 L195.3 374.6 L199.7 372.6 L204.2 370.7 L208.7 369 L213.3 367.4 L218 366.1 L222.7 364.9 L227.4 363.8 L232.2 363 L237 362.4 L241.9 361.9 L246.7 361.6 L251.5 361.5 L256.4 361.6 L261.2 361.8 L266.1 362.3 L270.9 362.9 L275.7 363.7 L280.4 364.7 L285.1 365.9 L289.8 367.3 L294.4 368.8 L298.9 370.5 L303.4 372.4 L307.8 374.4 L312.1 376.6 L316.4 379 L320.5 381.5 L324.6 384.2 L328.5 387.1 L332.3 390 L336 393.2" fill="none" stroke="#ad965c" stroke-width="8.2" stroke-linecap="round"/><path d="M163.9 393.5 L167.5 390.3 L171.2 387.3 L175 384.4 L179 381.6 L183 379 L187.1 376.5 L191.3 374.2 L195.6 372 L200 370.1 L204.4 368.2 L208.9 366.6 L213.5 365.1 L218.1 363.7 L222.8 362.6 L227.5 361.6 L232.2 360.8 L237 360.1 L241.8 359.7 L246.6 359.4 L251.4 359.3 L256.2 359.4 L261 359.6 L265.7 360 L270.5 360.7 L275.3 361.4 L280 362.4 L284.6 363.5 L289.3 364.8 L293.8 366.3 L298.3 367.9 L302.8 369.7 L307.2 371.7 L311.5 373.8 L315.7 376.1 L319.9 378.5 L323.9 381.1 L327.8 383.8 L331.7 386.7 L335.4 389.7" fill="none" stroke="#c9bfa4" stroke-width="4.2" stroke-linecap="round" opacity="0.75"/><path d="M162.7 344.9 L162.7 344.9 L164.4 343.8 L164.4 343.8 L166 342.7 L166.1 342.7 L167.7 341.6 L167.7 341.6 L168.6 341.1 L169.1 340.9 L169.6 340.8 L170.1 340.9 L170.5 341.1 L170.9 341.4 L171.2 341.7 L171.3 342.2 L171.4 342.7 L171.2 347.1 L171.1 347.6 L170.9 348 L170.7 348.3 L170.3 348.6 L166.3 351 L166.3 351 L166.2 351.1 L166.2 351.1 L162.3 353.7 L162.2 353.7 L162.1 353.8 L162.1 353.8 L158.3 356.5 L158.2 356.5 L158.1 356.5 L158.1 356.6 L154.4 359.4 L154.3 359.4 L154.2 359.5 L154.2 359.5 L150.6 362.4 L150.5 362.5 L149.9 363.1 L149.7 363.3 L149.3 364.1 L149.2 364.3 L149 365.1 L149 365.3 L149 366.2 L149 366.4 L149.3 367.3 L149.4 367.5 L149.8 368.2 L150 368.4 L150.6 369 L150.8 369.1 L151.5 369.6 L151.7 369.6 L152.6 369.8 L152.8 369.9 L153.7 369.9 L153.9 369.8 L154.7 369.6 L154.9 369.5 L155.7 369 L155.8 368.9 L159.4 366.1 L159.5 366.1 L163.1 363.3 L163.1 363.3 L166.9 360.7 L166.9 360.7 L170.7 358.2 L170.8 358.2 L174.7 355.8 L174.7 355.8 L176 355 L176.5 354.8 L176.6 354.8 L177.5 354.5 L177.7 354.4 L178.5 353.8 L178.7 353.6 L178.8 353.6 L179.2 353.3 L182.7 351.4 L182.8 351.4 L186.9 349.4 L186.9 349.4 L191.1 347.5 L191.1 347.5 L192.7 346.9 L193.2 346.7 L193.7 346.8 L194.2 346.9 L194.6 347.2 L194.9 347.6 L195.1 348 L195.2 348.5 L195.3 352.7 L195.2 353.2 L195 353.7 L194.6 354.1 L194.2 354.4 L192.8 355 L192.7 355 L190.6 356 L190.5 356 L188.4 357.1 L188.3 357.1 L186.2 358.2 L186.1 358.2 L184 359.3 L184 359.4 L181.9 360.5 L181.8 360.5 L179.8 361.7 L179.7 361.7 L177.7 363 L177.6 363 L175.6 364.3 L175.5 364.3 L173.5 365.6 L173.5 365.6 L171.5 366.9 L171.4 367 L169.5 368.3 L169.4 368.4 L167.5 369.8 L167.5 369.8 L165.6 371.2 L165.5 371.3 L163.6 372.7 L163.6 372.8 L161.7 374.3 L161.7 374.3 L159.8 375.9 L159.8 375.9 L158 377.5 L157.9 377.5 L156.2 379.1 L156.1 379.1 L154.4 380.8 L154.3 380.8 L152.7 382.4 L152.6 382.5 L152 383.2 L151.9 383.4 L151.5 384.2 L151.5 384.4 L151.4 385.3 L151.4 385.5 L151.4 386.4 L151.5 386.6 L151.8 387.4 L151.9 387.6 L152.4 388.3 L152.6 388.5 L153.3 389 L153.5 389.1 L154.3 389.5 L154.5 389.5 L155.3 389.7 L155.6 389.7 L156.4 389.6 L156.7 389.5 L157.5 389.2 L157.7 389.1 L158.4 388.5 L158.5 388.5 L160.1 386.9 L160.1 386.9 L161.8 385.3 L161.8 385.3 L163.5 383.8 L163.5 383.8 L165.2 382.3 L165.3 382.3 L167 380.8 L167 380.8 L168.8 379.4 L168.8 379.3 L169.2 379.1 L169.6 378.8 L170 378.7 L170.5 378.7 L171 378.8 L171.4 379 L171.7 379.4 L171.9 379.8 L172.1 380.2 L172.4 382.1 L172.4 382.3 L172.6 383.1 L172.7 383.3 L173.1 384 L173.3 384.2 L173.9 384.7 L174 384.9 L174.8 385.3 L175 385.4 L175.8 385.5 L176 385.6 L176.8 385.6 L177 385.5 L177.8 385.3 L178 385.2 L178.7 384.8 L178.9 384.6 L179.5 384.1 L179.6 383.9 L180 383.2 L180.1 382.9 L180.3 382.2 L180.3 381.9 L180.3 381.1 L180.3 380.9 L179.1 373.2 L179.1 372.7 L179.2 372.2 L179.5 371.8 L179.9 371.5 L180 371.4 L180.1 371.4 L182 370.2 L182 370.2 L184 369 L184 369 L186 367.8 L186 367.8 L188 366.7 L188 366.7 L190 365.7 L190 365.7 L192 364.6 L192.1 364.6 L194.1 363.6 L194.1 363.6 L196.2 362.7 L196.2 362.7 L198.3 361.7 L198.3 361.7 L200.4 360.9 L200.5 360.8 L202.6 360 L202.6 360 L204.7 359.2 L204.7 359.2 L206.9 358.4 L206.9 358.4 L209.1 357.7 L209.1 357.7 L211.2 357 L211.3 357 L213.4 356.3 L213.5 356.3 L215.7 355.7 L215.7 355.7 L217.9 355.1 L217.9 355.1 L218.9 354.9 L219.3 354.8 L219.8 354.9 L220.2 355.1 L220.6 355.4 L220.9 355.8 L221 356.2 L222.3 361.3 L222.3 361.4 L222.7 362.3 L222.8 362.5 L223.4 363.3 L223.5 363.4 L224.3 364 L224.5 364.1 L225.3 364.5 L225.6 364.6 L226.5 364.7 L226.7 364.7 L227.7 364.6 L227.9 364.5 L228.8 364.2 L229 364.1 L229.7 363.5 L229.9 363.4 L230.5 362.6 L230.6 362.4 L231 361.6 L231 361.3 L231.2 360.4 L231.2 360.2 L231.1 359.2 L231 359.1 L229.9 354.7 L229.9 354.2 L230 353.7 L230.2 353.2 L230.5 352.9 L231 352.6 L231.5 352.5 L233.7 352.2 L233.7 352.2 L236 351.9 L236 351.9 L238.2 351.7 L238.4 351.7 L239.3 351.5 L239.5 351.4 L240.2 351 L240.4 350.8 L241 350.3 L241.4 350 L241.9 349.9 L242.4 349.8 L242.9 349.9 L243.3 350.2 L244 350.6 L244.2 350.8 L245 351.1 L245.2 351.1 L246.1 351.2 L246.2 351.2 L248.5 351.2 L248.5 351.2 L250.8 351.2 L250.8 351.2 L253.1 351.2 L253.1 351.2 L255.4 351.3 L255.4 351.3 L257.7 351.5 L257.7 351.5 L260 351.6 L260 351.6 L262.2 351.8 L262.3 351.8 L264.5 352.1 L264.6 352.1 L266.8 352.3 L266.8 352.3 L268 352.5 L268.5 352.7 L269 353 L269.3 353.4 L269.5 353.8 L271.4 361.1 L271.5 361.2 L271.8 362.1 L271.9 362.3 L272.5 363.1 L272.7 363.2 L273.4 363.8 L273.6 363.9 L274.5 364.3 L274.7 364.4 L275.6 364.5 L275.9 364.5 L276.8 364.4 L277 364.3 L277.9 364 L278.1 363.8 L278.9 363.3 L279 363.1 L279.6 362.4 L279.7 362.2 L280.1 361.3 L280.1 361.1 L280.3 360.1 L280.3 359.9 L280.1 358.9 L280.1 358.8 L279.8 357.5 L279.7 357 L279.8 356.6 L280 356.1 L280.2 355.8 L280.6 355.5 L281 355.3 L281.5 355.2 L282 355.3 L282.6 355.5 L282.6 355.5 L284.8 356.1 L284.8 356.1 L287 356.7 L287 356.7 L289.2 357.4 L289.2 357.4 L291.4 358.1 L291.4 358.1 L293.6 358.9 L293.6 358.9 L295.7 359.7 L295.7 359.7 L297.9 360.5 L297.9 360.5 L300 361.4 L300 361.4 L302.1 362.3 L302.1 362.3 L304.2 363.2 L304.2 363.2 L306.3 364.2 L306.3 364.2 L308.3 365.2 L308.3 365.2 L310.4 366.3 L310.4 366.3 L312.4 367.4 L312.4 367.4 L314.4 368.5 L314.4 368.5 L316.4 369.7 L316.4 369.7 L317 370 L317.3 370.3 L317.6 370.6 L317.8 371 L321.6 381.6 L321.7 381.7 L322.1 382.5 L322.2 382.7 L322.7 383.3 L322.9 383.4 L323.6 383.9 L323.8 384 L324.6 384.2 L324.8 384.2 L325.6 384.3 L325.8 384.3 L326.6 384.1 L326.9 384 L327.6 383.6 L327.8 383.5 L328.4 383 L328.5 382.8 L328.9 382.1 L329 381.9 L329.3 381.1 L329.3 381 L329.5 380.5 L329.7 380.1 L330.1 379.8 L330.6 379.6 L331.1 379.5 L331.5 379.6 L331.6 379.6 L331.8 379.6 L332.7 379.6 L332.9 379.6 L333.7 379.4 L333.9 379.3 L334.7 378.8 L334.9 378.7 L335.5 378.1 L335.6 377.9 L336 377.2 L336.1 376.9 L336.4 376.1 L336.4 375.9 L336.4 375 L336.4 374.8 L336.1 374 L336 373.7 L335.6 373 L335.5 372.8 L334.8 372.2 L334.7 372.1 L332.9 370.7 L332.8 370.6 L330.9 369.2 L330.9 369.2 L328.9 367.8 L328.9 367.8 L326.9 366.4 L326.9 366.4 L324.9 365.1 L324.8 365 L322.8 363.8 L322.8 363.7 L320.7 362.5 L320.7 362.4 L318.6 361.2 L318.6 361.2 L316.5 360 L316.4 360 L314.3 358.9 L314.3 358.8 L312.2 357.8 L312.1 357.7 L310 356.7 L309.9 356.6 L307.8 355.6 L307.7 355.6 L305.5 354.6 L305.5 354.6 L304 353.9 L303.5 353.6 L303.2 353.2 L303 352.7 L302.3 350.2 L302.2 349.8 L302.3 349.3 L302.4 348.9 L302.7 348.5 L303 348.2 L303.4 348 L303.9 348 L304.3 348 L304.8 348.1 L307.3 349.2 L307.3 349.2 L311.4 351.2 L311.5 351.2 L315.5 353.3 L315.6 353.3 L319.5 355.6 L319.6 355.6 L323.5 358 L323.6 358 L324.5 358.4 L324.7 358.4 L325.5 358.6 L325.8 358.6 L326.6 358.5 L326.8 358.4 L327.6 358.1 L327.9 358 L328.5 357.5 L328.7 357.3 L329.3 356.6 L329.4 356.4 L329.7 355.7 L329.8 355.4 L329.9 354.6 L329.9 354.4 L329.8 353.5 L329.8 353.3 L329.4 352.5 L329.3 352.3 L328.8 351.6 L328.7 351.4 L327.9 350.8 L327.8 350.8 L323.8 348.4 L323.8 348.3 L323.7 348.3 L323.7 348.3 L319.6 346 L319.6 346 L319.5 345.9 L319.5 345.9 L315.3 343.7 L315.3 343.7 L315.2 343.7 L315.1 343.7 L310.9 341.6 L310.9 341.6 L310.8 341.6 L310.8 341.6 L306.4 339.7 L306.4 339.7 L306.3 339.6 L305.9 339.4 L305.6 339.1 L305.4 338.7 L305.2 338.2 L305.2 337.8 L305.3 337.3 L305.5 336.9 L305.9 336.6 L306.2 336.3 L306.7 336.2 L307.1 336.2 L307.9 336.2 L308.1 336.2 L309.1 336 L309.3 335.9 L310.1 335.5 L310.3 335.4 L311 334.8 L311.2 334.6 L311.7 333.8 L311.8 333.6 L312.1 332.7 L312.2 332.5 L312.2 331.5 L312.2 331.3 L312 330.4 L311.9 330.2 L311.5 329.3 L311.4 329.1 L310.8 328.4 L310.6 328.3 L309.8 327.7 L309.7 327.7 L308.2 326.9 L308.2 326.9 L306.6 326.2 L306.6 326.2 L305 325.4 L305 325.4 L303.4 324.7 L303.4 324.7 L301.8 324 L301.8 324 L300.2 323.3 L300.2 323.3 L298.6 322.7 L298.5 322.6 L297 322 L296.9 322 L295.3 321.4 L295.3 321.4 L293.7 320.8 L293.6 320.8 L292 320.2 L292 320.2 L290.4 319.6 L290.3 319.6 L288.7 319.1 L288.6 319.1 L287 318.6 L287 318.5 L285.3 318 L285.3 318 L283.7 317.5 L283.6 317.5 L282 317.1 L281.9 317.1 L280.3 316.6 L280.2 316.6 L278.6 316.2 L278.5 316.2 L276.9 315.8 L276.8 315.8 L275.2 315.4 L275.1 315.4 L273.4 315 L273.4 315 L271.7 314.7 L271.7 314.7 L270 314.3 L269.9 314.3 L268.3 314 L268.2 314 L266.5 313.7 L266.5 313.7 L264.8 313.5 L264.8 313.5 L263.1 313.2 L263 313.2 L261.3 313 L261.3 313 L259.6 312.8 L259.5 312.8 L257.8 312.6 L257.8 312.6 L256.1 312.4 L256.1 312.4 L254.4 312.3 L254.3 312.3 L252.6 312.1 L252.6 312.1 L250.9 312 L250.8 312 L249.1 311.9 L249.1 311.9 L247.3 311.9 L247.3 311.9 L245.6 311.8 L245.5 311.8 L243.9 311.8 L243.8 311.8 L242.8 311.9 L242.6 312 L241.7 312.3 L241.5 312.4 L240.7 313 L240.6 313.2 L240 313.9 L239.9 314.1 L239.5 315 L239.4 315.2 L239.3 316.1 L239.3 316.4 L239.4 317.3 L239.5 317.5 L239.8 318.4 L239.9 318.6 L240.5 319.3 L240.6 319.5 L241.4 320.1 L241.6 320.2 L242.4 320.6 L242.7 320.7 L243.6 320.8 L243.8 320.8 L245.4 320.8 L245.4 320.8 L247 320.9 L247 320.9 L248.7 320.9 L248.7 320.9 L250.3 321 L250.3 321 L252 321.1 L252 321.1 L253.6 321.2 L253.6 321.2 L255.2 321.4 L255.3 321.4 L256.9 321.5 L256.9 321.5 L258.5 321.7 L258.6 321.7 L260.2 321.9 L260.2 321.9 L261.8 322.1 L261.8 322.1 L263.4 322.4 L263.5 322.4 L265.1 322.6 L265.1 322.6 L265.7 322.7 L266.1 322.8 L266.5 323.1 L266.8 323.4 L267 323.8 L267.2 324.2 L267.6 326.7 L267.6 327.2 L267.5 327.7 L267.3 328.1 L267 328.4 L266.6 328.7 L266.1 328.8 L265.6 328.8 L264.2 328.6 L264.1 328.6 L264 328.6 L264 328.6 L259.3 328.2 L259.3 328.2 L259.2 328.2 L259.2 328.2 L254.5 327.9 L254.4 327.9 L254.3 327.9 L254.3 327.9 L249.6 327.7 L249.6 327.7 L249.5 327.7 L249.4 327.7 L244.7 327.7 L244.7 327.7 L244.6 327.7 L244.6 327.7 L239.9 327.9 L239.8 327.9 L239.7 327.9 L239.7 327.9 L235 328.2 L235 328.2 L234.9 328.2 L234.8 328.2 L230.1 328.7 L230.1 328.7 L230 328.7 L230 328.7 L225.3 329.3 L225.3 329.3 L225.2 329.3 L225.2 329.3 L220.5 330.1 L220.5 330.1 L220.4 330.1 L220.4 330.1 L215.7 331 L215.7 331 L215.6 331 L215.6 331 L211 332.1 L211 332.1 L210.9 332.1 L210.8 332.1 L206.3 333.3 L206.3 333.3 L206.1 333.4 L206.1 333.4 L201.6 334.7 L201.6 334.7 L201.5 334.8 L201.5 334.8 L197 336.3 L197 336.3 L196.9 336.3 L196.8 336.3 L192.4 337.9 L192.4 337.9 L192.3 338 L192.3 338 L187.9 339.8 L187.9 339.8 L187.8 339.8 L187.8 339.8 L183.4 341.7 L183.4 341.7 L183.3 341.8 L183.3 341.8 L183.1 341.9 L182.6 342.1 L182.2 342.1 L181.7 342 L181.3 341.8 L181 341.5 L180.7 341.1 L180.5 340.7 L180.5 340.2 L180.7 335.5 L180.8 335.1 L181 334.6 L181.3 334.3 L181.7 334 L181.7 334 L181.8 334 L183.6 333.1 L183.6 333.1 L185.4 332.3 L185.4 332.3 L187.2 331.5 L187.2 331.5 L189.1 330.8 L189.1 330.8 L190.9 330 L190.9 330 L192.8 329.3 L192.8 329.3 L194.7 328.6 L194.7 328.6 L196.5 328 L196.6 328 L198.4 327.3 L198.5 327.3 L200.3 326.7 L200.4 326.7 L202.2 326.1 L202.3 326.1 L204.2 325.6 L204.2 325.6 L206.1 325.1 L206.1 325.1 L208 324.6 L208 324.6 L210 324.1 L210 324.1 L211.9 323.6 L211.9 323.6 L213.9 323.2 L213.9 323.2 L215.8 322.8 L215.8 322.8 L217.8 322.5 L217.8 322.5 L219.8 322.1 L219.8 322.1 L221.7 321.8 L221.8 321.8 L223.7 321.6 L223.7 321.5 L225.7 321.3 L225.7 321.3 L227.7 321.1 L227.8 321.1 L228.6 320.9 L228.8 320.8 L229.5 320.4 L229.7 320.2 L230.3 319.7 L230.5 319.5 L230.9 318.8 L231 318.6 L231.2 317.8 L231.2 317.6 L231.2 316.8 L231.2 316.5 L231 315.8 L230.9 315.5 L230.5 314.8 L230.4 314.6 L229.8 314.1 L229.7 313.9 L229 313.5 L228.8 313.4 L228 313.2 L227.8 313.1 L226.9 313.1 L226.8 313.1 L224.8 313.4 L224.7 313.4 L222.7 313.6 L222.6 313.6 L220.6 313.9 L220.5 313.9 L218.5 314.2 L218.5 314.2 L216.4 314.6 L216.4 314.6 L214.4 315 L214.3 315 L212.3 315.4 L212.2 315.4 L210.2 315.8 L210.2 315.8 L208.2 316.3 L208.1 316.3 L206.1 316.8 L206.1 316.8 L204.1 317.3 L204 317.3 L202 317.9 L202 317.9 L200 318.5 L200 318.5 L198 319.1 L197.9 319.1 L196 319.7 L195.9 319.7 L194 320.4 L193.9 320.4 L192 321.1 L191.9 321.1 L190 321.8 L190 321.8 L188 322.6 L188 322.6 L186.1 323.3 L186 323.4 L184.1 324.1 L184.1 324.2 L182.2 325 L182.1 325 L180.3 325.8 L180.2 325.9 L178.4 326.7 L178.3 326.8 L176.7 327.6 L176 327.7 L175.5 327.8 L175.3 327.8 L174.4 328.1 L174.2 328.3 L173.4 328.8 L173.2 329 L173 329.3 L172.4 329.7 L170.8 330.6 L170.8 330.6 L169 331.6 L168.9 331.6 L167.2 332.6 L167.1 332.7 L165.3 333.7 L165.3 333.7 L163.5 334.8 L163.5 334.8 L161.8 335.9 L161.7 336 L160 337.1 L159.9 337.1 L158.2 338.3 L158.2 338.3 L156.5 339.5 L156.5 339.5 L154.8 340.7 L154.7 340.7 L153.1 341.9 L153 342 L151.4 343.2 L151.3 343.3 L150.7 343.9 L150.6 344.1 L150.2 344.7 L150.1 345 L149.9 345.7 L149.8 346 L149.8 346.8 L149.9 347 L150.1 347.8 L150.2 348 L150.6 348.7 L150.7 348.9 L151.3 349.5 L151.4 349.6 L152.1 350 L152.4 350.1 L153.1 350.3 L153.4 350.4 L154.2 350.4 L154.4 350.3 L155.2 350.1 L155.4 350.1 L156.2 349.6 L156.3 349.6 L157.8 348.4 L157.8 348.4 L159.4 347.2 L159.5 347.2 L161.1 346 L161.1 346 Z M302.9 334.4 L303.3 334.6 L303.6 334.9 L303.8 335.4 L303.9 335.8 L303.9 336.3 L303.8 336.7 L303.5 337.1 L303.2 337.4 L302.8 337.6 L302.4 337.8 L301.9 337.8 L301.5 337.7 L297.3 336.2 L297.3 336.2 L297.2 336.1 L297.2 336.1 L292.7 334.6 L292.7 334.6 L292.6 334.6 L292.6 334.6 L288 333.3 L288 333.3 L287.9 333.2 L287.9 333.2 L283.3 332 L283.3 332 L283.2 332 L283.2 332 L278.6 331 L278.6 330.9 L278.5 330.9 L278.4 330.9 L277.6 330.8 L277.2 330.6 L276.9 330.4 L276.6 330.1 L276.3 329.7 L276.2 329.3 L275.9 327.4 L275.8 327 L275.9 326.5 L276.1 326.1 L276.4 325.8 L276.8 325.5 L277.2 325.4 L277.7 325.3 L278.1 325.4 L279.6 325.8 L279.6 325.8 L281.2 326.2 L281.2 326.2 L282.7 326.7 L282.8 326.7 L284.3 327.1 L284.3 327.1 L285.9 327.6 L285.9 327.6 L287.5 328.1 L287.5 328.2 L289 328.7 L289 328.7 L290.6 329.2 L290.6 329.2 L292.1 329.8 L292.1 329.8 L293.7 330.4 L293.7 330.4 L295.2 331 L295.2 331 L296.7 331.6 L296.7 331.6 L298.2 332.3 L298.3 332.3 L299.7 332.9 L299.8 332.9 L301.3 333.6 L301.3 333.6 L302.7 334.3 L302.8 334.3 Z M266.8 343.9 L266.3 343.8 L265.9 343.5 L265.6 343.2 L265.3 342.8 L265.2 342.4 L264.8 339.5 L264.8 339 L264.9 338.6 L265.1 338.1 L265.5 337.8 L265.9 337.6 L266.3 337.4 L266.8 337.4 L267.7 337.6 L267.8 337.6 L272.2 338.3 L272.3 338.3 L276.8 339.2 L276.8 339.2 L281.2 340.2 L281.3 340.2 L285.7 341.3 L285.8 341.3 L290.1 342.6 L290.2 342.6 L291.3 343 L291.7 343.2 L292 343.5 L292.3 343.9 L292.5 344.3 L293.2 346.9 L293.2 347.4 L293.2 347.9 L293 348.3 L292.7 348.7 L292.3 349 L291.8 349.1 L291.4 349.2 L290.9 349.1 L289.5 348.7 L289.4 348.7 L287.1 348 L287.1 348 L284.8 347.3 L284.7 347.3 L282.4 346.7 L282.3 346.7 L280 346.2 L279.9 346.2 L277.6 345.7 L277.6 345.7 L275.5 345.2 L275.1 345.1 L274.2 344.7 L274 344.7 L273 344.6 L272.8 344.6 L272.3 344.6 L271.8 344.6 L270.4 344.4 L270.3 344.4 L268 344 L267.9 344 Z M233.3 343.8 L232.9 343.8 L232.4 343.6 L232 343.3 L231.6 343 L231.4 342.5 L231.3 342 L231.2 338.7 L231.2 338.3 L231.4 337.8 L231.6 337.5 L232 337.2 L232.4 336.9 L232.8 336.8 L235.6 336.6 L235.6 336.6 L240.2 336.3 L240.2 336.3 L244.8 336.1 L244.8 336.1 L249.4 336.1 L249.4 336.1 L254 336.3 L254 336.3 L255.8 336.4 L256.3 336.5 L256.7 336.7 L257.1 337 L257.3 337.4 L257.5 337.9 L257.9 340.9 L257.9 341.3 L257.8 341.8 L257.6 342.2 L257.3 342.5 L256.9 342.8 L256.5 342.9 L256 343 L255.8 342.9 L255.7 342.9 L253.4 342.9 L253.3 342.8 L250.9 342.8 L250.8 342.8 L248.5 342.8 L248.4 342.8 L246.1 342.8 L246 342.9 L245 343 L244.8 343.1 L244 343.4 L243.8 343.5 L243.2 344.1 L243 344.2 L242.7 344.5 L242.3 344.6 L241.9 344.7 L241.4 344.7 L241 344.6 L240.6 344.3 L240.5 344.2 L239.7 343.8 L239.5 343.7 L238.7 343.4 L238.5 343.4 L237.6 343.3 L237.4 343.3 L235.1 343.6 L235.1 343.6 Z M203.2 344.4 L203.2 343.9 L203.4 343.5 L203.7 343.1 L204 342.8 L204.5 342.6 L208.4 341.5 L208.5 341.4 L212.9 340.3 L212.9 340.3 L217.4 339.2 L217.4 339.2 L221.9 338.4 L221.9 338.4 L223.2 338.2 L223.7 338.1 L224.2 338.3 L224.6 338.5 L224.9 338.9 L225.2 339.4 L225.2 339.9 L225.4 343.1 L225.3 343.6 L225.2 344 L225 344.4 L224.6 344.7 L224.2 344.9 L223.8 345 L223 345.1 L222.8 345.1 L221.9 345.5 L221.8 345.5 L221.3 345.7 L220.7 345.9 L220.6 345.9 L218.3 346.4 L218.2 346.4 L215.9 347 L215.8 347 L213.5 347.6 L213.5 347.6 L211.2 348.2 L211.1 348.3 L208.8 348.9 L208.8 349 L206.5 349.7 L206.4 349.7 L205.6 350 L205.1 350.1 L204.6 350 L204.2 349.9 L203.8 349.6 L203.5 349.2 L203.3 348.8 L203.2 348.3 Z" fill="#d7d1c5" fill-rule="evenodd" stroke="#9f8850" stroke-width="1.9"/><path d="M163 345.4 L163.1 345.4 L164.7 344.3 L164.7 344.3 L166.4 343.2 L166.4 343.2 L168 342.1 L168.1 342.1 L168.9 341.6 L169.3 341.5 L169.6 341.4 L169.9 341.5 L170.2 341.6 L170.4 341.8 L170.6 342 L170.8 342.3 L170.8 342.7 L170.6 347.1 L170.5 347.4 L170.4 347.7 L170.2 347.9 L170 348.1 L166 350.5 L166 350.5 L166 350.5 L166 350.5 L165.9 350.6 L165.9 350.6 L165.9 350.6 L165.9 350.6 L161.9 353.2 L161.9 353.2 L161.9 353.2 L161.9 353.2 L161.8 353.3 L161.8 353.3 L161.8 353.3 L161.8 353.3 L157.9 356 L157.9 356 L157.9 356 L157.9 356 L157.8 356.1 L157.8 356.1 L157.8 356.1 L157.8 356.1 L154 358.9 L154 358.9 L154 358.9 L154 358.9 L153.9 359 L153.9 359 L153.9 359 L153.9 359 L150.2 361.9 L150.2 361.9 L150.1 362 L150.1 362 L149.4 362.7 L149.4 362.8 L149.2 363 L149.2 363 L148.8 363.8 L148.7 363.8 L148.7 364.1 L148.6 364.1 L148.4 365 L148.4 365 L148.4 365.3 L148.4 365.4 L148.4 366.2 L148.4 366.3 L148.4 366.5 L148.5 366.6 L148.7 367.4 L148.7 367.5 L148.8 367.7 L148.9 367.8 L149.3 368.5 L149.3 368.6 L149.5 368.8 L149.5 368.8 L150.2 369.4 L150.2 369.5 L150.4 369.6 L150.5 369.7 L151.2 370.1 L151.3 370.1 L151.5 370.2 L151.6 370.2 L152.4 370.4 L152.5 370.4 L152.7 370.5 L152.8 370.5 L153.7 370.5 L153.8 370.4 L154 370.4 L154.1 370.4 L154.9 370.2 L155 370.1 L155.2 370 L155.3 370 L156 369.5 L156.1 369.5 L156.2 369.4 L156.2 369.4 L159.8 366.6 L159.8 366.5 L163.4 363.8 L163.5 363.8 L167.2 361.2 L167.2 361.2 L171 358.7 L171.1 358.7 L175 356.3 L175 356.3 L176.3 355.6 L176.7 355.4 L176.8 355.4 L176.8 355.4 L177.7 355.1 L177.8 355 L178 354.9 L178.1 354.9 L178.8 354.3 L178.9 354.3 L179.1 354.1 L179.1 354.1 L179.1 354.1 L179.5 353.8 L183 351.9 L183.1 351.9 L187.1 350 L187.2 349.9 L191.3 348.1 L191.4 348.1 L192.9 347.4 L193.3 347.3 L193.6 347.4 L193.9 347.5 L194.2 347.6 L194.4 347.9 L194.6 348.2 L194.6 348.6 L194.7 352.7 L194.6 353.1 L194.5 353.4 L194.3 353.6 L193.9 353.8 L192.6 354.4 L192.6 354.4 L192.5 354.5 L192.5 354.5 L190.3 355.5 L190.3 355.5 L190.3 355.5 L190.3 355.5 L188.1 356.5 L188.1 356.5 L188.1 356.6 L188 356.6 L185.9 357.6 L185.9 357.6 L185.9 357.7 L185.9 357.7 L183.8 358.8 L183.8 358.8 L183.7 358.8 L183.7 358.8 L181.6 360 L181.6 360 L181.5 360 L181.5 360 L179.5 361.2 L179.5 361.2 L179.4 361.2 L179.4 361.2 L177.4 362.4 L177.4 362.4 L177.3 362.5 L177.3 362.5 L175.3 363.7 L175.3 363.7 L175.2 363.8 L175.2 363.8 L173.2 365.1 L173.2 365.1 L173.1 365.1 L173.1 365.1 L171.2 366.4 L171.2 366.4 L171.1 366.5 L171.1 366.5 L169.2 367.8 L169.1 367.8 L169.1 367.9 L169.1 367.9 L167.2 369.3 L167.2 369.3 L167.1 369.3 L167.1 369.3 L165.2 370.8 L165.2 370.8 L165.1 370.8 L165.1 370.8 L163.3 372.3 L163.3 372.3 L163.2 372.3 L163.2 372.3 L161.3 373.8 L161.3 373.8 L161.3 373.9 L161.3 373.9 L159.5 375.4 L159.5 375.4 L159.4 375.4 L159.4 375.4 L157.6 377 L157.6 377 L157.5 377.1 L157.5 377.1 L155.8 378.6 L155.8 378.6 L155.7 378.7 L155.7 378.7 L154 380.3 L154 380.3 L153.9 380.4 L153.9 380.4 L152.2 382 L152.2 382 L152.1 382.1 L152.1 382.1 L151.5 382.9 L151.5 382.9 L151.4 383.1 L151.3 383.2 L151 384 L151 384.1 L150.9 384.3 L150.9 384.4 L150.8 385.2 L150.8 385.3 L150.8 385.5 L150.8 385.6 L150.9 386.4 L150.9 386.5 L150.9 386.8 L150.9 386.8 L151.3 387.6 L151.3 387.7 L151.4 387.9 L151.5 388 L152 388.7 L152 388.7 L152.2 388.9 L152.2 388.9 L152.9 389.5 L153 389.5 L153.2 389.6 L153.2 389.7 L154 390 L154.1 390 L154.3 390.1 L154.4 390.1 L155.3 390.3 L155.3 390.3 L155.6 390.3 L155.6 390.3 L156.5 390.2 L156.6 390.2 L156.8 390.1 L156.9 390.1 L157.7 389.8 L157.8 389.7 L158 389.6 L158 389.6 L158.8 389 L158.8 389 L158.9 388.9 L158.9 388.9 L160.5 387.3 L160.6 387.3 L162.2 385.8 L162.2 385.7 L163.9 384.2 L163.9 384.2 L165.6 382.7 L165.7 382.7 L167.4 381.3 L167.4 381.3 L169.2 379.8 L169.2 379.8 L169.5 379.6 L169.8 379.4 L170.1 379.3 L170.4 379.3 L170.7 379.4 L171 379.5 L171.2 379.7 L171.4 380 L171.5 380.3 L171.8 382.2 L171.8 382.3 L171.8 382.4 L171.8 382.4 L172 383.3 L172.1 383.3 L172.2 383.5 L172.2 383.6 L172.6 384.3 L172.7 384.4 L172.8 384.6 L172.9 384.6 L173.4 385.2 L173.5 385.2 L173.7 385.4 L173.8 385.4 L174.5 385.8 L174.5 385.8 L174.8 385.9 L174.8 385.9 L175.6 386.1 L175.7 386.1 L175.9 386.2 L176 386.2 L176.8 386.2 L176.9 386.2 L177.1 386.1 L177.2 386.1 L178 385.9 L178 385.8 L178.3 385.8 L178.3 385.7 L179 385.3 L179.1 385.3 L179.3 385.1 L179.3 385.1 L179.9 384.5 L179.9 384.4 L180.1 384.2 L180.1 384.2 L180.5 383.5 L180.5 383.4 L180.6 383.2 L180.7 383.1 L180.8 382.3 L180.9 382.2 L180.9 382 L180.9 381.9 L180.9 381 L180.9 381 L180.9 380.9 L180.9 380.9 L179.7 373.2 L179.7 372.8 L179.8 372.5 L180 372.2 L180.3 371.9 L180.4 371.9 L180.4 371.9 L182.3 370.7 L182.3 370.7 L184.3 369.5 L184.3 369.5 L186.2 368.4 L186.3 368.4 L188.3 367.3 L188.3 367.3 L190.3 366.2 L190.3 366.2 L192.3 365.2 L192.3 365.2 L194.4 364.2 L194.4 364.2 L196.5 363.2 L196.5 363.2 L198.5 362.3 L198.6 362.3 L200.7 361.4 L200.7 361.4 L202.8 360.6 L202.8 360.6 L204.9 359.8 L204.9 359.7 L207.1 359 L207.1 359 L209.2 358.3 L209.3 358.2 L211.4 357.6 L211.4 357.6 L213.6 356.9 L213.6 356.9 L215.8 356.3 L215.8 356.3 L218 355.7 L218.1 355.7 L219 355.5 L219.3 355.4 L219.6 355.5 L219.9 355.6 L220.2 355.8 L220.3 356.1 L220.5 356.4 L221.7 361.4 L221.7 361.4 L221.8 361.6 L221.8 361.6 L222.2 362.5 L222.2 362.6 L222.3 362.8 L222.3 362.9 L222.9 363.6 L223 363.7 L223.1 363.8 L223.2 363.9 L223.9 364.5 L224 364.5 L224.2 364.6 L224.2 364.7 L225.1 365 L225.2 365.1 L225.4 365.1 L225.5 365.2 L226.4 365.3 L226.5 365.3 L226.7 365.3 L226.8 365.3 L227.7 365.2 L227.8 365.2 L228 365.1 L228.1 365.1 L229 364.8 L229.1 364.7 L229.3 364.6 L229.3 364.6 L230.1 364 L230.1 364 L230.3 363.8 L230.4 363.7 L230.9 363 L231 362.9 L231.1 362.7 L231.1 362.7 L231.5 361.8 L231.5 361.7 L231.6 361.5 L231.6 361.4 L231.8 360.5 L231.8 360.4 L231.8 360.2 L231.8 360.1 L231.7 359.1 L231.7 359.1 L231.6 359 L231.6 358.9 L230.5 354.6 L230.5 354.2 L230.6 353.9 L230.7 353.6 L230.9 353.3 L231.2 353.2 L231.6 353.1 L233.8 352.8 L233.8 352.8 L236 352.5 L236.1 352.5 L238.3 352.3 L238.3 352.3 L238.5 352.3 L238.5 352.3 L239.4 352.1 L239.5 352 L239.7 352 L239.8 351.9 L240.5 351.5 L240.6 351.5 L240.8 351.3 L240.8 351.3 L241.4 350.8 L241.7 350.6 L242 350.4 L242.3 350.4 L242.7 350.5 L243 350.7 L243.6 351.1 L243.7 351.2 L243.9 351.3 L243.9 351.3 L244.7 351.6 L244.8 351.7 L245 351.7 L245.1 351.7 L246 351.8 L246.1 351.8 L246.2 351.8 L246.2 351.8 L248.5 351.8 L248.5 351.8 L250.8 351.8 L250.8 351.8 L253.1 351.8 L253.1 351.8 L255.3 351.9 L255.4 351.9 L257.6 352 L257.7 352.1 L259.9 352.2 L259.9 352.2 L262.2 352.4 L262.2 352.4 L264.5 352.7 L264.5 352.7 L266.7 352.9 L266.8 352.9 L267.9 353.1 L268.3 353.2 L268.6 353.4 L268.8 353.7 L268.9 354 L270.8 361.2 L270.8 361.3 L270.9 361.4 L270.9 361.4 L271.3 362.4 L271.3 362.4 L271.4 362.6 L271.5 362.7 L272 363.4 L272.1 363.5 L272.3 363.7 L272.3 363.7 L273.1 364.3 L273.1 364.3 L273.3 364.5 L273.4 364.5 L274.3 364.9 L274.3 364.9 L274.6 364.9 L274.6 365 L275.6 365.1 L275.6 365.1 L275.9 365.1 L276 365.1 L276.9 365 L277 365 L277.2 364.9 L277.3 364.9 L278.1 364.5 L278.2 364.5 L278.4 364.4 L278.5 364.3 L279.2 363.8 L279.3 363.7 L279.4 363.5 L279.5 363.5 L280.1 362.7 L280.1 362.7 L280.2 362.5 L280.3 362.4 L280.6 361.5 L280.7 361.5 L280.7 361.2 L280.7 361.2 L280.9 360.2 L280.9 360.1 L280.9 359.9 L280.9 359.8 L280.7 358.8 L280.7 358.8 L280.7 358.7 L280.7 358.7 L280.4 357.4 L280.3 357 L280.4 356.7 L280.5 356.4 L280.7 356.2 L280.9 356 L281.2 355.9 L281.5 355.8 L281.9 355.9 L282.4 356 L282.5 356 L284.6 356.6 L284.7 356.6 L286.8 357.3 L286.9 357.3 L289 358 L289 358 L291.2 358.7 L291.2 358.7 L293.4 359.4 L293.4 359.4 L295.5 360.2 L295.5 360.2 L297.6 361 L297.7 361.1 L299.7 361.9 L299.8 361.9 L301.8 362.8 L301.9 362.8 L303.9 363.8 L304 363.8 L306 364.7 L306 364.8 L308.1 365.8 L308.1 365.8 L310.1 366.8 L310.1 366.8 L312.1 367.9 L312.1 367.9 L314.1 369 L314.1 369 L316.1 370.2 L316.1 370.2 L316.7 370.5 L316.9 370.7 L317.1 370.9 L317.2 371.2 L321 381.8 L321.1 381.8 L321.1 382 L321.1 382 L321.5 382.8 L321.6 382.8 L321.7 383 L321.7 383.1 L322.3 383.7 L322.3 383.7 L322.5 383.9 L322.6 383.9 L323.3 384.4 L323.3 384.4 L323.6 384.5 L323.6 384.5 L324.4 384.8 L324.5 384.8 L324.7 384.8 L324.8 384.8 L325.6 384.9 L325.7 384.9 L325.9 384.9 L326 384.8 L326.8 384.7 L326.8 384.6 L327.1 384.6 L327.1 384.5 L327.9 384.2 L327.9 384.1 L328.1 384 L328.2 383.9 L328.8 383.4 L328.8 383.3 L329 383.2 L329 383.1 L329.5 382.4 L329.5 382.3 L329.6 382.1 L329.6 382.1 L329.9 381.3 L329.9 381.2 L329.9 381.1 L330 380.8 L330.2 380.5 L330.4 380.3 L330.7 380.2 L331.1 380.1 L331.5 380.2 L331.5 380.2 L331.7 380.2 L331.8 380.2 L332.7 380.2 L332.7 380.2 L333 380.2 L333 380.2 L333.9 379.9 L333.9 379.9 L334.2 379.8 L334.2 379.8 L335 379.4 L335 379.3 L335.2 379.2 L335.3 379.1 L335.9 378.5 L335.9 378.5 L336.1 378.3 L336.1 378.2 L336.6 377.5 L336.6 377.4 L336.7 377.2 L336.7 377.1 L336.9 376.3 L337 376.2 L337 376 L337 375.9 L337 375 L337 374.9 L337 374.7 L336.9 374.6 L336.7 373.8 L336.7 373.7 L336.6 373.5 L336.6 373.4 L336.1 372.7 L336.1 372.6 L335.9 372.4 L335.9 372.4 L335.2 371.7 L335.2 371.7 L335.1 371.6 L335.1 371.6 L333.3 370.2 L333.3 370.2 L333.2 370.2 L333.2 370.1 L331.3 368.7 L331.3 368.7 L331.2 368.7 L331.2 368.7 L329.3 367.3 L329.3 367.3 L329.2 367.3 L329.2 367.3 L327.3 365.9 L327.3 365.9 L327.2 365.9 L327.2 365.9 L325.2 364.6 L325.2 364.6 L325.1 364.5 L325.1 364.5 L323.1 363.2 L323.1 363.2 L323.1 363.2 L323.1 363.2 L321 362 L321 362 L321 361.9 L321 361.9 L318.9 360.7 L318.9 360.7 L318.9 360.7 L318.9 360.7 L316.8 359.5 L316.8 359.5 L316.7 359.5 L316.7 359.5 L314.6 358.3 L314.6 358.3 L314.6 358.3 L314.6 358.3 L312.4 357.2 L312.4 357.2 L312.4 357.2 L312.4 357.2 L310.2 356.1 L310.2 356.1 L310.2 356.1 L310.2 356.1 L308 355.1 L308 355.1 L308 355 L307.9 355 L305.8 354.1 L305.8 354.1 L305.7 354 L305.7 354 L304.3 353.4 L303.9 353.2 L303.7 352.9 L303.5 352.5 L302.9 350.1 L302.8 349.8 L302.9 349.5 L303 349.2 L303.1 348.9 L303.4 348.7 L303.6 348.6 L303.9 348.6 L304.2 348.6 L304.5 348.7 L307 349.8 L307.1 349.8 L311.2 351.7 L311.2 351.8 L315.2 353.8 L315.3 353.9 L319.2 356.1 L319.3 356.1 L323.2 358.5 L323.2 358.5 L323.3 358.5 L323.4 358.6 L324.2 358.9 L324.3 359 L324.5 359 L324.6 359 L325.4 359.2 L325.5 359.2 L325.8 359.2 L325.8 359.2 L326.7 359.1 L326.8 359.1 L327 359 L327.1 359 L327.9 358.7 L327.9 358.6 L328.1 358.5 L328.2 358.5 L328.9 358 L329 357.9 L329.1 357.8 L329.2 357.7 L329.7 357 L329.8 357 L329.9 356.8 L329.9 356.7 L330.3 355.9 L330.3 355.8 L330.4 355.6 L330.4 355.5 L330.5 354.7 L330.5 354.6 L330.5 354.4 L330.5 354.3 L330.4 353.4 L330.4 353.4 L330.3 353.1 L330.3 353 L330 352.2 L330 352.2 L329.9 352 L329.8 351.9 L329.3 351.2 L329.3 351.2 L329.1 351 L329 350.9 L328.3 350.4 L328.3 350.3 L328.2 350.3 L328.2 350.2 L324.2 347.8 L324.2 347.8 L324.1 347.8 L324.1 347.8 L324 347.8 L324 347.8 L324 347.8 L324 347.8 L319.9 345.4 L319.9 345.4 L319.9 345.4 L319.9 345.4 L319.8 345.4 L319.8 345.4 L319.7 345.4 L319.7 345.4 L315.6 343.2 L315.5 343.2 L315.5 343.2 L315.5 343.2 L315.4 343.1 L315.4 343.1 L315.4 343.1 L315.4 343.1 L311.1 341.1 L311.1 341.1 L311.1 341.1 L311.1 341.1 L311 341 L311 341 L311 341 L311 341 L306.7 339.1 L306.7 339.1 L306.7 339.1 L306.6 339.1 L306.6 339.1 L306.3 338.9 L306.1 338.7 L305.9 338.4 L305.8 338.1 L305.8 337.8 L305.9 337.5 L306 337.3 L306.2 337 L306.5 336.9 L306.8 336.8 L307.1 336.8 L307.9 336.8 L308 336.8 L308.2 336.8 L308.3 336.8 L309.2 336.6 L309.3 336.6 L309.5 336.5 L309.6 336.5 L310.4 336.1 L310.5 336 L310.7 335.9 L310.7 335.8 L311.4 335.2 L311.5 335.2 L311.6 335 L311.7 334.9 L312.2 334.1 L312.2 334.1 L312.3 333.9 L312.4 333.8 L312.7 332.9 L312.7 332.8 L312.7 332.6 L312.8 332.5 L312.8 331.6 L312.8 331.5 L312.8 331.3 L312.8 331.2 L312.6 330.3 L312.6 330.2 L312.5 330 L312.5 329.9 L312.1 329.1 L312 329 L311.9 328.8 L311.9 328.7 L311.2 328 L311.2 328 L311 327.8 L310.9 327.8 L310.1 327.2 L310.1 327.2 L310 327.1 L309.9 327.1 L308.5 326.4 L308.5 326.4 L308.4 326.4 L308.4 326.4 L306.9 325.6 L306.9 325.6 L306.8 325.6 L306.8 325.6 L305.3 324.9 L305.3 324.9 L305.2 324.9 L305.2 324.9 L303.7 324.2 L303.7 324.2 L303.6 324.1 L303.6 324.1 L302.1 323.5 L302.1 323.5 L302 323.4 L302 323.4 L300.4 322.8 L300.4 322.8 L300.4 322.8 L300.4 322.8 L298.8 322.1 L298.8 322.1 L298.8 322.1 L298.8 322.1 L297.2 321.5 L297.2 321.5 L297.1 321.4 L297.1 321.4 L295.5 320.8 L295.5 320.8 L295.5 320.8 L295.5 320.8 L293.9 320.2 L293.9 320.2 L293.8 320.2 L293.8 320.2 L292.2 319.6 L292.2 319.6 L292.2 319.6 L292.2 319.6 L290.6 319.1 L290.6 319.1 L290.5 319 L290.5 319 L288.9 318.5 L288.9 318.5 L288.8 318.5 L288.8 318.5 L287.2 318 L287.2 318 L287.1 318 L287.1 318 L285.5 317.5 L285.5 317.5 L285.5 317.5 L285.5 317.4 L283.8 317 L283.8 317 L283.8 317 L283.8 317 L282.1 316.5 L282.1 316.5 L282.1 316.5 L282.1 316.5 L280.4 316 L280.4 316 L280.4 316 L280.4 316 L278.7 315.6 L278.7 315.6 L278.7 315.6 L278.7 315.6 L277 315.2 L277 315.2 L277 315.2 L277 315.2 L275.3 314.8 L275.3 314.8 L275.2 314.8 L275.2 314.8 L273.6 314.4 L273.6 314.4 L273.5 314.4 L273.5 314.4 L271.8 314.1 L271.8 314.1 L271.8 314.1 L271.8 314.1 L270.1 313.8 L270.1 313.7 L270.1 313.7 L270.1 313.7 L268.4 313.4 L268.4 313.4 L268.3 313.4 L268.3 313.4 L266.6 313.1 L266.6 313.1 L266.6 313.1 L266.6 313.1 L264.9 312.9 L264.9 312.9 L264.8 312.9 L264.8 312.9 L263.2 312.6 L263.2 312.6 L263.1 312.6 L263.1 312.6 L261.4 312.4 L261.4 312.4 L261.4 312.4 L261.4 312.4 L259.7 312.2 L259.7 312.2 L259.6 312.2 L259.6 312.2 L257.9 312 L257.9 312 L257.9 312 L257.9 312 L256.2 311.8 L256.2 311.8 L256.1 311.8 L256.1 311.8 L254.4 311.7 L254.4 311.7 L254.4 311.7 L254.3 311.7 L252.6 311.5 L252.6 311.5 L252.6 311.5 L252.6 311.5 L250.9 311.4 L250.9 311.4 L250.8 311.4 L250.8 311.4 L249.1 311.3 L249.1 311.3 L249.1 311.3 L249.1 311.3 L247.4 311.3 L247.4 311.3 L247.3 311.3 L247.3 311.3 L245.6 311.2 L245.6 311.2 L245.6 311.2 L245.6 311.2 L243.9 311.2 L243.9 311.2 L243.7 311.2 L243.7 311.2 L242.7 311.3 L242.6 311.3 L242.4 311.4 L242.3 311.4 L241.5 311.8 L241.4 311.8 L241.2 311.9 L241.1 312 L240.4 312.5 L240.3 312.6 L240.1 312.7 L240.1 312.8 L239.5 313.5 L239.5 313.6 L239.3 313.8 L239.3 313.9 L238.9 314.7 L238.9 314.8 L238.8 315 L238.8 315.1 L238.7 316 L238.7 316.1 L238.7 316.3 L238.7 316.4 L238.8 317.4 L238.8 317.4 L238.9 317.7 L238.9 317.7 L239.2 318.6 L239.3 318.7 L239.4 318.9 L239.4 319 L240 319.7 L240 319.8 L240.2 319.9 L240.3 320 L241 320.6 L241.1 320.6 L241.3 320.7 L241.3 320.8 L242.2 321.1 L242.3 321.2 L242.5 321.2 L242.6 321.2 L243.6 321.4 L243.6 321.4 L243.7 321.4 L243.8 321.4 L245.4 321.4 L245.4 321.4 L247 321.5 L247 321.5 L248.6 321.5 L248.7 321.5 L250.3 321.6 L250.3 321.6 L251.9 321.7 L251.9 321.7 L253.6 321.8 L253.6 321.8 L255.2 322 L255.2 322 L256.8 322.1 L256.8 322.1 L258.5 322.3 L258.5 322.3 L260.1 322.5 L260.1 322.5 L261.7 322.7 L261.7 322.7 L263.3 323 L263.4 323 L265 323.2 L265 323.2 L265.6 323.3 L265.9 323.4 L266.1 323.5 L266.3 323.8 L266.5 324 L266.6 324.3 L267 326.8 L267 327.1 L267 327.5 L266.8 327.7 L266.6 328 L266.3 328.1 L266 328.2 L265.7 328.2 L264.2 328 L264.2 328 L264.2 328 L264.2 328 L264.1 328 L264.1 328 L264.1 328 L264.1 328 L259.4 327.6 L259.4 327.6 L259.4 327.6 L259.3 327.6 L259.2 327.6 L259.2 327.6 L259.2 327.6 L259.2 327.6 L254.5 327.3 L254.5 327.3 L254.5 327.3 L254.5 327.3 L254.3 327.3 L254.3 327.3 L254.3 327.3 L254.3 327.3 L249.6 327.1 L249.6 327.1 L249.6 327.1 L249.6 327.1 L249.5 327.1 L249.5 327.1 L249.4 327.1 L249.4 327.1 L244.7 327.1 L244.7 327.1 L244.7 327.1 L244.7 327.1 L244.6 327.1 L244.6 327.1 L244.6 327.1 L244.5 327.1 L239.8 327.3 L239.8 327.3 L239.8 327.3 L239.8 327.3 L239.7 327.3 L239.7 327.3 L239.7 327.3 L239.7 327.3 L235 327.6 L234.9 327.6 L234.9 327.6 L234.9 327.6 L234.8 327.6 L234.8 327.6 L234.8 327.6 L234.8 327.6 L230.1 328.1 L230.1 328.1 L230.1 328.1 L230.1 328.1 L229.9 328.1 L229.9 328.1 L229.9 328.1 L229.9 328.1 L225.2 328.7 L225.2 328.7 L225.2 328.7 L225.2 328.7 L225.1 328.7 L225.1 328.7 L225.1 328.7 L225.1 328.7 L220.4 329.5 L220.4 329.5 L220.4 329.5 L220.4 329.5 L220.3 329.5 L220.3 329.5 L220.3 329.5 L220.2 329.5 L215.6 330.4 L215.6 330.4 L215.6 330.4 L215.6 330.4 L215.5 330.5 L215.5 330.5 L215.5 330.5 L215.4 330.5 L210.8 331.5 L210.8 331.5 L210.8 331.5 L210.8 331.5 L210.7 331.5 L210.7 331.5 L210.7 331.6 L210.7 331.6 L206.1 332.8 L206.1 332.8 L206.1 332.8 L206.1 332.8 L206 332.8 L206 332.8 L206 332.8 L206 332.8 L201.4 334.1 L201.4 334.1 L201.4 334.2 L201.4 334.2 L201.3 334.2 L201.3 334.2 L201.3 334.2 L201.3 334.2 L196.8 335.7 L196.8 335.7 L196.8 335.7 L196.8 335.7 L196.7 335.7 L196.7 335.7 L196.6 335.7 L196.6 335.7 L192.2 337.4 L192.2 337.4 L192.2 337.4 L192.2 337.4 L192.1 337.4 L192.1 337.4 L192.1 337.4 L192 337.4 L187.7 339.2 L187.7 339.2 L187.7 339.2 L187.7 339.2 L187.5 339.3 L187.5 339.3 L187.5 339.3 L187.5 339.3 L183.2 341.2 L183.2 341.2 L183.2 341.2 L183.2 341.2 L183.1 341.3 L183.1 341.3 L183.1 341.3 L183.1 341.3 L182.9 341.4 L182.5 341.5 L182.2 341.5 L181.9 341.4 L181.6 341.3 L181.4 341.1 L181.2 340.8 L181.1 340.5 L181.1 340.2 L181.3 335.6 L181.4 335.2 L181.5 335 L181.7 334.7 L182 334.5 L183.8 333.7 L183.8 333.7 L185.6 332.9 L185.6 332.9 L187.4 332.1 L187.5 332.1 L189.3 331.3 L189.3 331.3 L191.1 330.6 L191.1 330.6 L193 329.9 L193 329.9 L194.9 329.2 L194.9 329.2 L196.7 328.5 L196.8 328.5 L198.6 327.9 L198.6 327.9 L200.5 327.3 L200.5 327.3 L202.4 326.7 L202.4 326.7 L204.3 326.2 L204.3 326.2 L206.2 325.6 L206.3 325.6 L208.2 325.1 L208.2 325.1 L210.1 324.7 L210.1 324.7 L212 324.2 L212.1 324.2 L214 323.8 L214 323.8 L215.9 323.4 L216 323.4 L217.9 323.1 L217.9 323.1 L219.9 322.7 L219.9 322.7 L221.8 322.4 L221.8 322.4 L223.8 322.1 L223.8 322.1 L225.8 321.9 L225.8 321.9 L227.7 321.7 L227.8 321.7 L227.9 321.6 L227.9 321.6 L228.8 321.4 L228.8 321.4 L229.1 321.3 L229.1 321.3 L229.8 320.9 L229.9 320.9 L230.1 320.7 L230.1 320.7 L230.7 320.1 L230.8 320 L230.9 319.9 L231 319.8 L231.4 319.1 L231.4 319 L231.5 318.8 L231.5 318.8 L231.8 318 L231.8 317.9 L231.8 317.7 L231.8 317.6 L231.8 316.8 L231.8 316.7 L231.8 316.5 L231.8 316.4 L231.6 315.6 L231.6 315.5 L231.5 315.3 L231.5 315.2 L231.1 314.5 L231 314.5 L230.9 314.3 L230.8 314.2 L230.3 313.6 L230.2 313.6 L230 313.4 L230 313.4 L229.3 313 L229.2 312.9 L229 312.9 L228.9 312.8 L228.1 312.6 L228.1 312.6 L227.8 312.5 L227.8 312.5 L226.9 312.5 L226.9 312.5 L226.7 312.5 L226.7 312.5 L224.7 312.8 L224.7 312.8 L224.7 312.8 L224.7 312.8 L222.6 313 L222.6 313 L222.6 313 L222.6 313 L220.5 313.3 L220.5 313.3 L220.5 313.3 L220.5 313.3 L218.4 313.6 L218.4 313.6 L218.4 313.6 L218.4 313.7 L216.3 314 L216.3 314 L216.3 314 L216.3 314 L214.3 314.4 L214.3 314.4 L214.2 314.4 L214.2 314.4 L212.2 314.8 L212.2 314.8 L212.1 314.8 L212.1 314.8 L210.1 315.2 L210.1 315.2 L210 315.2 L210 315.2 L208 315.7 L208 315.7 L208 315.7 L208 315.7 L206 316.2 L206 316.2 L205.9 316.2 L205.9 316.2 L203.9 316.7 L203.9 316.7 L203.9 316.7 L203.9 316.8 L201.9 317.3 L201.9 317.3 L201.8 317.3 L201.8 317.3 L199.8 317.9 L199.8 317.9 L199.8 317.9 L199.8 317.9 L197.8 318.5 L197.8 318.5 L197.8 318.5 L197.8 318.5 L195.8 319.1 L195.8 319.1 L195.7 319.2 L195.7 319.2 L193.8 319.8 L193.8 319.8 L193.7 319.8 L193.7 319.8 L191.8 320.5 L191.8 320.5 L191.7 320.5 L191.7 320.5 L189.8 321.2 L189.8 321.2 L189.7 321.3 L189.7 321.3 L187.8 322 L187.8 322 L187.8 322 L187.8 322 L185.9 322.8 L185.9 322.8 L185.8 322.8 L185.8 322.8 L183.9 323.6 L183.9 323.6 L183.8 323.6 L183.8 323.6 L182 324.4 L182 324.4 L181.9 324.5 L181.9 324.5 L180 325.3 L180 325.3 L180 325.3 L180 325.3 L178.1 326.2 L178.1 326.2 L178 326.2 L178 326.2 L176.4 327 L175.9 327.1 L175.4 327.2 L175.4 327.2 L175.1 327.2 L175.1 327.3 L174.2 327.6 L174.1 327.6 L173.9 327.7 L173.8 327.8 L173.1 328.3 L173 328.4 L172.8 328.5 L172.8 328.6 L172.5 328.9 L172.1 329.2 L170.6 330 L170.5 330 L170.5 330.1 L170.5 330.1 L168.7 331.1 L168.7 331.1 L168.6 331.1 L168.6 331.1 L166.9 332.1 L166.9 332.1 L166.8 332.2 L166.8 332.2 L165 333.2 L165 333.2 L165 333.2 L165 333.2 L163.2 334.3 L163.2 334.3 L163.2 334.3 L163.2 334.3 L161.4 335.4 L161.4 335.4 L161.4 335.5 L161.4 335.5 L159.7 336.6 L159.7 336.6 L159.6 336.6 L159.6 336.6 L157.9 337.8 L157.9 337.8 L157.9 337.8 L157.8 337.8 L156.2 339 L156.2 339 L156.1 339 L156.1 339 L154.4 340.2 L154.4 340.2 L154.4 340.2 L154.4 340.2 L152.7 341.5 L152.7 341.5 L152.7 341.5 L152.7 341.5 L151.1 342.7 L151 342.7 L151 342.8 L150.9 342.8 L150.3 343.4 L150.3 343.5 L150.1 343.7 L150.1 343.7 L149.7 344.4 L149.6 344.5 L149.5 344.7 L149.5 344.8 L149.3 345.6 L149.3 345.7 L149.2 345.9 L149.2 346 L149.2 346.8 L149.2 346.9 L149.3 347.1 L149.3 347.2 L149.5 348 L149.5 348 L149.6 348.2 L149.6 348.3 L150 349 L150.1 349.1 L150.2 349.3 L150.3 349.3 L150.8 349.9 L150.9 350 L151.1 350.1 L151.1 350.1 L151.8 350.6 L151.9 350.6 L152.1 350.7 L152.2 350.7 L153 350.9 L153.1 350.9 L153.3 351 L153.4 351 L154.2 351 L154.3 351 L154.5 350.9 L154.6 350.9 L155.3 350.7 L155.4 350.7 L155.6 350.6 L155.7 350.6 L156.5 350.1 L156.5 350.1 L156.6 350.1 L156.6 350 L158.2 348.9 L158.2 348.9 L159.8 347.7 L159.8 347.7 L161.4 346.5 L161.4 346.5 Z M302.6 334.9 L302.9 335.1 L303.1 335.3 L303.2 335.6 L303.3 335.9 L303.3 336.2 L303.2 336.5 L303.1 336.7 L302.9 336.9 L302.6 337.1 L302.3 337.2 L302 337.2 L301.7 337.1 L297.5 335.6 L297.5 335.6 L297.5 335.6 L297.5 335.6 L297.4 335.6 L297.4 335.5 L297.4 335.5 L297.4 335.5 L292.9 334.1 L292.9 334.1 L292.9 334.1 L292.9 334.1 L292.8 334 L292.8 334 L292.7 334 L292.7 334 L288.2 332.7 L288.2 332.7 L288.2 332.7 L288.2 332.7 L288.1 332.6 L288.1 332.6 L288.1 332.6 L288.1 332.6 L283.5 331.4 L283.5 331.4 L283.5 331.4 L283.5 331.4 L283.3 331.4 L283.3 331.4 L283.3 331.4 L283.3 331.4 L278.7 330.4 L278.7 330.4 L278.7 330.4 L278.7 330.4 L278.6 330.3 L278.6 330.3 L278.6 330.3 L278.6 330.3 L277.8 330.2 L277.5 330.1 L277.2 329.9 L277 329.7 L276.9 329.5 L276.8 329.2 L276.5 327.3 L276.4 327 L276.5 326.7 L276.6 326.5 L276.8 326.2 L277.1 326 L277.4 325.9 L277.6 325.9 L278 326 L279.4 326.3 L279.4 326.3 L281 326.8 L281 326.8 L282.6 327.2 L282.6 327.2 L284.1 327.7 L284.2 327.7 L285.7 328.2 L285.7 328.2 L287.3 328.7 L287.3 328.7 L288.8 329.2 L288.8 329.3 L290.4 329.8 L290.4 329.8 L291.9 330.4 L291.9 330.4 L293.4 331 L293.5 331 L295 331.6 L295 331.6 L296.5 332.2 L296.5 332.2 L298 332.8 L298 332.8 L299.5 333.5 L299.5 333.5 L301 334.2 L301 334.2 L302.5 334.8 L302.5 334.8 Z M266.9 343.3 L266.5 343.2 L266.3 343 L266.1 342.8 L265.9 342.6 L265.8 342.2 L265.4 339.4 L265.4 339.1 L265.5 338.8 L265.6 338.5 L265.8 338.3 L266.1 338.1 L266.4 338 L266.8 338 L267.6 338.1 L267.7 338.2 L272.1 338.9 L272.2 338.9 L276.6 339.7 L276.7 339.7 L281.1 340.7 L281.2 340.8 L285.5 341.9 L285.6 341.9 L289.9 343.2 L290 343.2 L291.1 343.6 L291.4 343.7 L291.6 343.9 L291.8 344.1 L291.9 344.5 L292.6 347 L292.6 347.4 L292.6 347.7 L292.5 348 L292.3 348.3 L292 348.4 L291.7 348.6 L291.4 348.6 L291 348.5 L289.7 348.1 L289.7 348.1 L289.6 348.1 L289.6 348.1 L287.3 347.4 L287.3 347.4 L287.2 347.4 L287.2 347.4 L284.9 346.8 L284.9 346.8 L284.9 346.7 L284.9 346.7 L282.6 346.2 L282.5 346.2 L282.5 346.1 L282.5 346.1 L280.2 345.6 L280.2 345.6 L280.1 345.6 L280.1 345.6 L277.8 345.1 L277.8 345.1 L277.7 345.1 L277.7 345.1 L275.6 344.7 L275.3 344.6 L274.4 344.2 L274.4 344.2 L274.1 344.1 L274.1 344.1 L273.1 344 L273 344 L272.8 344 L272.7 344 L272.3 344 L271.9 344 L270.5 343.8 L270.5 343.8 L270.4 343.8 L270.4 343.8 L268.1 343.4 L268.1 343.4 L268 343.4 L268 343.4 Z M233.3 343.2 L233 343.2 L232.6 343.1 L232.4 342.9 L232.1 342.6 L232 342.3 L231.9 342 L231.8 338.7 L231.8 338.4 L231.9 338.1 L232.1 337.9 L232.3 337.7 L232.6 337.5 L232.9 337.4 L235.6 337.2 L235.7 337.2 L240.2 336.9 L240.2 336.9 L244.8 336.7 L244.8 336.7 L249.4 336.7 L249.4 336.7 L253.9 336.9 L254 336.9 L255.7 337 L256.1 337 L256.4 337.2 L256.6 337.4 L256.8 337.7 L256.9 338 L257.3 340.9 L257.3 341.3 L257.3 341.6 L257.1 341.8 L256.9 342.1 L256.7 342.2 L256.4 342.3 L256 342.4 L255.8 342.3 L255.8 342.3 L255.8 342.3 L255.8 342.3 L253.4 342.3 L253.4 342.3 L253.3 342.2 L253.3 342.2 L250.9 342.2 L250.9 342.2 L250.8 342.2 L250.8 342.2 L248.5 342.2 L248.5 342.2 L248.4 342.2 L248.4 342.2 L246.1 342.2 L246 342.2 L245.9 342.3 L245.9 342.3 L245 342.4 L244.9 342.4 L244.7 342.5 L244.6 342.5 L243.8 342.8 L243.7 342.9 L243.5 343 L243.5 343 L242.8 343.6 L242.7 343.6 L242.6 343.7 L242.4 343.9 L242.1 344.1 L241.8 344.1 L241.5 344.1 L241.2 344 L241 343.8 L240.9 343.7 L240.8 343.7 L240.1 343.2 L240 343.2 L239.8 343.1 L239.7 343.1 L238.9 342.8 L238.8 342.8 L238.6 342.8 L238.5 342.8 L237.6 342.7 L237.5 342.7 L237.4 342.7 L237.4 342.7 L235.1 343 L235.1 343 L235 343 L235 343 Z M203.8 344.4 L203.8 344.1 L203.9 343.8 L204.1 343.5 L204.3 343.3 L204.7 343.2 L208.6 342 L208.7 342 L213 340.9 L213.1 340.8 L217.5 339.8 L217.6 339.8 L222 339 L222 338.9 L223.2 338.8 L223.6 338.7 L223.9 338.8 L224.2 339 L224.4 339.3 L224.6 339.6 L224.7 339.9 L224.8 343.1 L224.8 343.5 L224.7 343.7 L224.5 344 L224.3 344.2 L224 344.3 L223.7 344.4 L222.9 344.5 L222.9 344.5 L222.6 344.6 L222.6 344.6 L221.7 344.9 L221.6 345 L221.6 345 L221.2 345.1 L220.5 345.3 L220.5 345.3 L220.5 345.3 L220.5 345.3 L218.1 345.8 L218.1 345.8 L218.1 345.8 L218.1 345.8 L215.7 346.4 L215.7 346.4 L215.7 346.4 L215.7 346.4 L213.4 347 L213.4 347 L213.3 347 L213.3 347 L211 347.7 L211 347.7 L210.9 347.7 L210.9 347.7 L208.7 348.4 L208.6 348.4 L208.6 348.4 L208.6 348.4 L206.3 349.1 L206.3 349.1 L206.2 349.1 L206.2 349.1 L205.4 349.4 L205.1 349.5 L204.8 349.4 L204.5 349.3 L204.2 349.2 L204 348.9 L203.9 348.6 L203.8 348.3 Z" fill="none" stroke="#0a0a0a" stroke-width="2.2" stroke-dasharray="0 4.2" stroke-linecap="round"/><circle cx="232.6" cy="317.3" r="3.5" fill="#f5e8c6" stroke="#a38a52" stroke-width="1.8"/><circle cx="313.2" cy="334.8" r="3.5" fill="#f5e8c6" stroke="#a38a52" stroke-width="1.8"/><path d="M194.7 384.2 L195.8 383.6 L196.9 382.9 L198.1 382.3 L199.2 381.7 L200.3 381.1 L201.5 380.5 L202.6 379.9 L203.8 379.3 L205 378.8 L206.2 378.2 L207.4 377.7 L208.6 377.2 L209.8 376.7 L211 376.3 L212.2 375.8 L213.5 375.3 L214.7 374.9 L215.9 374.5 L217.2 374.1 L218.5 373.7 L219.7 373.3 L221 373 L222.3 372.6 L223.5 372.3 L224.8 372 L226.1 371.7 L227.4 371.4 L228.7 371.2 L230 370.9 L231.3 370.7 L232.6 370.5 L233.9 370.3 L235.2 370.1 L236.6 369.9 L237.9 369.8 L239.2 369.6 L240.5 369.5 L241.9 369.4 L243.2 369.3" fill="none" stroke="#978047" stroke-width="6.4" stroke-linecap="round"/><path d="M194.7 384.2 L195.8 383.6 L196.9 382.9 L198.1 382.3 L199.2 381.7 L200.3 381.1 L201.5 380.5 L202.6 379.9 L203.8 379.3 L205 378.8 L206.2 378.2 L207.4 377.7 L208.6 377.2 L209.8 376.7 L211 376.3 L212.2 375.8 L213.5 375.3 L214.7 374.9 L215.9 374.5 L217.2 374.1 L218.5 373.7 L219.7 373.3 L221 373 L222.3 372.6 L223.5 372.3 L224.8 372 L226.1 371.7 L227.4 371.4 L228.7 371.2 L230 370.9 L231.3 370.7 L232.6 370.5 L233.9 370.3 L235.2 370.1 L236.6 369.9 L237.9 369.8 L239.2 369.6 L240.5 369.5 L241.9 369.4 L243.2 369.3" fill="none" stroke="#fdf8e6" stroke-width="4.8" stroke-linecap="round"/><path d="M255.1 369.2 L256.5 369.3 L257.9 369.4 L259.2 369.5 L260.6 369.6 L262 369.7 L263.3 369.9 L264.7 370.1 L266 370.3 L267.4 370.5 L268.8 370.7 L270.1 370.9 L271.4 371.2 L272.8 371.5 L274.1 371.8 L275.5 372.1 L276.8 372.4 L278.1 372.7 L279.4 373.1 L280.7 373.5 L282 373.9 L283.3 374.3 L284.6 374.7 L285.9 375.1 L287.2 375.6 L288.4 376 L289.7 376.5 L291 377 L292.2 377.5 L293.4 378.1 L294.7 378.6 L295.9 379.2 L297.1 379.8 L298.3 380.4 L299.5 381 L300.7 381.6 L301.8 382.2 L303 382.9 L304.1 383.5 L305.3 384.2" fill="none" stroke="#978047" stroke-width="6.4" stroke-linecap="round"/><path d="M255.1 369.2 L256.5 369.3 L257.9 369.4 L259.2 369.5 L260.6 369.6 L262 369.7 L263.3 369.9 L264.7 370.1 L266 370.3 L267.4 370.5 L268.8 370.7 L270.1 370.9 L271.4 371.2 L272.8 371.5 L274.1 371.8 L275.5 372.1 L276.8 372.4 L278.1 372.7 L279.4 373.1 L280.7 373.5 L282 373.9 L283.3 374.3 L284.6 374.7 L285.9 375.1 L287.2 375.6 L288.4 376 L289.7 376.5 L291 377 L292.2 377.5 L293.4 378.1 L294.7 378.6 L295.9 379.2 L297.1 379.8 L298.3 380.4 L299.5 381 L300.7 381.6 L301.8 382.2 L303 382.9 L304.1 383.5 L305.3 384.2" fill="none" stroke="#fdf8e6" stroke-width="4.8" stroke-linecap="round"/><path d="M174.8 398.5 L175 398.3 L175.3 398 L175.5 397.8 L175.7 397.6 L176 397.3 L176.2 397.1 L176.4 396.9 L176.7 396.6 L176.9 396.4 L177.1 396.2 L177.4 395.9 L177.6 395.7 L177.9 395.5 L178.1 395.3 L178.4 395 L178.6 394.8 L178.8 394.6 L179.1 394.4 L179.3 394.1 L179.6 393.9 L179.8 393.7 L180.1 393.5 L180.3 393.2 L180.6 393 L180.8 392.8 L181.1 392.6 L181.3 392.4 L181.6 392.2 L181.9 391.9 L182.1 391.7 L182.4 391.5 L182.6 391.3 L182.9 391.1 L183.2 390.9 L183.4 390.7 L183.7 390.5 L183.9 390.3 L184.2 390 L184.5 389.8" fill="none" stroke="#978047" stroke-width="4.800000000000001" stroke-linecap="round"/><path d="M174.8 398.5 L175 398.3 L175.3 398 L175.5 397.8 L175.7 397.6 L176 397.3 L176.2 397.1 L176.4 396.9 L176.7 396.6 L176.9 396.4 L177.1 396.2 L177.4 395.9 L177.6 395.7 L177.9 395.5 L178.1 395.3 L178.4 395 L178.6 394.8 L178.8 394.6 L179.1 394.4 L179.3 394.1 L179.6 393.9 L179.8 393.7 L180.1 393.5 L180.3 393.2 L180.6 393 L180.8 392.8 L181.1 392.6 L181.3 392.4 L181.6 392.2 L181.9 391.9 L182.1 391.7 L182.4 391.5 L182.6 391.3 L182.9 391.1 L183.2 390.9 L183.4 390.7 L183.7 390.5 L183.9 390.3 L184.2 390 L184.5 389.8" fill="none" stroke="#ffffff" stroke-width="3.2" stroke-linecap="round"/><path d="M315.5 389.8 L315.8 390 L316.1 390.3 L316.3 390.5 L316.6 390.7 L316.8 390.9 L317.1 391.1 L317.4 391.3 L317.6 391.5 L317.9 391.7 L318.1 391.9 L318.4 392.2 L318.7 392.4 L318.9 392.6 L319.2 392.8 L319.4 393 L319.7 393.2 L319.9 393.5 L320.2 393.7 L320.4 393.9 L320.7 394.1 L320.9 394.4 L321.2 394.6 L321.4 394.8 L321.6 395 L321.9 395.3 L322.1 395.5 L322.4 395.7 L322.6 395.9 L322.9 396.2 L323.1 396.4 L323.3 396.6 L323.6 396.9 L323.8 397.1 L324 397.3 L324.3 397.6 L324.5 397.8 L324.7 398 L325 398.3 L325.2 398.5" fill="none" stroke="#978047" stroke-width="4.800000000000001" stroke-linecap="round"/><path d="M315.5 389.8 L315.8 390 L316.1 390.3 L316.3 390.5 L316.6 390.7 L316.8 390.9 L317.1 391.1 L317.4 391.3 L317.6 391.5 L317.9 391.7 L318.1 391.9 L318.4 392.2 L318.7 392.4 L318.9 392.6 L319.2 392.8 L319.4 393 L319.7 393.2 L319.9 393.5 L320.2 393.7 L320.4 393.9 L320.7 394.1 L320.9 394.4 L321.2 394.6 L321.4 394.8 L321.6 395 L321.9 395.3 L322.1 395.5 L322.4 395.7 L322.6 395.9 L322.9 396.2 L323.1 396.4 L323.3 396.6 L323.6 396.9 L323.8 397.1 L324 397.3 L324.3 397.6 L324.5 397.8 L324.7 398 L325 398.3 L325.2 398.5" fill="none" stroke="#ffffff" stroke-width="3.2" stroke-linecap="round"/><path d="M174.6 413.4 L175.3 412.4 L176.1 411.4 L176.9 410.4 L177.7 409.5 L178.5 408.5 L179.3 407.6 L180.1 406.6 L181 405.7 L181.9 404.8 L182.8 403.9 L183.7 403.1 L184.6 402.2 L185.5 401.3 L186.5 400.5 L187.4 399.7 L188.4 398.8 L189.4 398 L190.4 397.2 L191.4 396.5 L192.5 395.7 L193.5 394.9 L194.6 394.2 L195.6 393.5 L196.7 392.8 L197.8 392.1 L198.9 391.4 L200.1 390.7 L201.2 390.1 L202.3 389.4 L203.5 388.8 L204.7 388.2 L205.8 387.6 L207 387 L208.2 386.5 L209.4 385.9 L210.6 385.4 L211.9 384.9 L213.1 384.4 L214.4 383.9" fill="none" stroke="#978047" stroke-width="9.5" stroke-linecap="round"/><path d="M174.6 413.4 L175.3 412.4 L176.1 411.4 L176.9 410.4 L177.7 409.5 L178.5 408.5 L179.3 407.6 L180.1 406.6 L181 405.7 L181.9 404.8 L182.8 403.9 L183.7 403.1 L184.6 402.2 L185.5 401.3 L186.5 400.5 L187.4 399.7 L188.4 398.8 L189.4 398 L190.4 397.2 L191.4 396.5 L192.5 395.7 L193.5 394.9 L194.6 394.2 L195.6 393.5 L196.7 392.8 L197.8 392.1 L198.9 391.4 L200.1 390.7 L201.2 390.1 L202.3 389.4 L203.5 388.8 L204.7 388.2 L205.8 387.6 L207 387 L208.2 386.5 L209.4 385.9 L210.6 385.4 L211.9 384.9 L213.1 384.4 L214.4 383.9" fill="none" stroke="#ad965c" stroke-width="7.9" stroke-linecap="round"/><path d="M232.2 379.1 L233.4 378.9 L234.5 378.7 L235.7 378.5 L236.9 378.3 L238.1 378.2 L239.3 378.1 L240.5 377.9 L241.7 377.8 L242.9 377.7 L244.1 377.7 L245.3 377.6 L246.5 377.6 L247.7 377.5 L248.9 377.5 L250.1 377.5 L251.3 377.5 L252.5 377.5 L253.7 377.6 L254.9 377.6 L256.1 377.7 L257.3 377.8 L258.4 377.8 L259.6 378 L260.8 378.1 L262 378.2 L263.2 378.4 L264.4 378.5 L265.6 378.7 L266.8 378.9 L267.9 379.1 L269.1 379.3 L270.3 379.5 L271.5 379.8 L272.6 380 L273.8 380.3 L274.9 380.6 L276.1 380.9 L277.2 381.2 L278.4 381.5" fill="none" stroke="#978047" stroke-width="9.5" stroke-linecap="round"/><path d="M232.2 379.1 L233.4 378.9 L234.5 378.7 L235.7 378.5 L236.9 378.3 L238.1 378.2 L239.3 378.1 L240.5 377.9 L241.7 377.8 L242.9 377.7 L244.1 377.7 L245.3 377.6 L246.5 377.6 L247.7 377.5 L248.9 377.5 L250.1 377.5 L251.3 377.5 L252.5 377.5 L253.7 377.6 L254.9 377.6 L256.1 377.7 L257.3 377.8 L258.4 377.8 L259.6 378 L260.8 378.1 L262 378.2 L263.2 378.4 L264.4 378.5 L265.6 378.7 L266.8 378.9 L267.9 379.1 L269.1 379.3 L270.3 379.5 L271.5 379.8 L272.6 380 L273.8 380.3 L274.9 380.6 L276.1 380.9 L277.2 381.2 L278.4 381.5" fill="none" stroke="#ad965c" stroke-width="7.9" stroke-linecap="round"/><path d="M294.7 387.9 L295.7 388.4 L296.7 388.9 L297.7 389.5 L298.7 390 L299.7 390.6 L300.7 391.2 L301.7 391.7 L302.6 392.3 L303.6 392.9 L304.5 393.6 L305.4 394.2 L306.4 394.8 L307.3 395.5 L308.2 396.1 L309.1 396.8 L309.9 397.5 L310.8 398.2 L311.7 398.9 L312.5 399.6 L313.4 400.3 L314.2 401.1 L315 401.8 L315.8 402.5 L316.6 403.3 L317.4 404.1 L318.1 404.8 L318.9 405.6 L319.7 406.4 L320.4 407.2 L321.1 408 L321.8 408.8 L322.5 409.7 L323.2 410.5 L323.9 411.3 L324.5 412.2 L325.2 413.1 L325.8 413.9 L326.4 414.8 L327 415.7" fill="none" stroke="#978047" stroke-width="9.5" stroke-linecap="round"/><path d="M294.7 387.9 L295.7 388.4 L296.7 388.9 L297.7 389.5 L298.7 390 L299.7 390.6 L300.7 391.2 L301.7 391.7 L302.6 392.3 L303.6 392.9 L304.5 393.6 L305.4 394.2 L306.4 394.8 L307.3 395.5 L308.2 396.1 L309.1 396.8 L309.9 397.5 L310.8 398.2 L311.7 398.9 L312.5 399.6 L313.4 400.3 L314.2 401.1 L315 401.8 L315.8 402.5 L316.6 403.3 L317.4 404.1 L318.1 404.8 L318.9 405.6 L319.7 406.4 L320.4 407.2 L321.1 408 L321.8 408.8 L322.5 409.7 L323.2 410.5 L323.9 411.3 L324.5 412.2 L325.2 413.1 L325.8 413.9 L326.4 414.8 L327 415.7" fill="none" stroke="#ad965c" stroke-width="7.9" stroke-linecap="round"/><path d="M162.7 471.8 L162.4 470.6 L162.2 469.4 L161.9 468.2 L161.7 467 L161.5 465.8 L161.3 464.6 L161.1 463.4 L161 462.2 L160.9 461 L160.8 459.8 L160.7 458.6 L160.6 457.3 L160.6 456.1 L160.6 454.9 L160.6 453.7 L160.6 452.5 L160.7 451.3 L160.8 450.1 L160.9 448.9 L161 447.6 L161.1 446.4 L161.3 445.2 L161.5 444 L161.7 442.8 L161.9 441.6 L162.2 440.4 L162.5 439.2 L162.8 438.1 L163.1 436.9 L163.4 435.7 L163.8 434.5 L164.2 433.4 L164.6 432.2 L165 431 L165.4 429.9 L165.9 428.7 L166.4 427.6 L166.9 426.5 L167.4 425.3" fill="none" stroke="#978047" stroke-width="9.5" stroke-linecap="round"/><path d="M162.7 471.8 L162.4 470.6 L162.2 469.4 L161.9 468.2 L161.7 467 L161.5 465.8 L161.3 464.6 L161.1 463.4 L161 462.2 L160.9 461 L160.8 459.8 L160.7 458.6 L160.6 457.3 L160.6 456.1 L160.6 454.9 L160.6 453.7 L160.6 452.5 L160.7 451.3 L160.8 450.1 L160.9 448.9 L161 447.6 L161.1 446.4 L161.3 445.2 L161.5 444 L161.7 442.8 L161.9 441.6 L162.2 440.4 L162.5 439.2 L162.8 438.1 L163.1 436.9 L163.4 435.7 L163.8 434.5 L164.2 433.4 L164.6 432.2 L165 431 L165.4 429.9 L165.9 428.7 L166.4 427.6 L166.9 426.5 L167.4 425.3" fill="none" stroke="#ad965c" stroke-width="7.9" stroke-linecap="round"/><path d="M337.2 437.8 L337.4 438.8 L337.7 439.9 L337.9 440.9 L338.1 441.9 L338.3 442.9 L338.5 443.9 L338.6 444.9 L338.8 446 L338.9 447 L339 448 L339.1 449.1 L339.2 450.1 L339.3 451.1 L339.3 452.2 L339.4 453.2 L339.4 454.2 L339.4 455.3 L339.4 456.3 L339.4 457.3 L339.3 458.4 L339.3 459.4 L339.2 460.4 L339.1 461.5 L339 462.5 L338.9 463.5 L338.7 464.5 L338.6 465.6 L338.4 466.6 L338.2 467.6 L338 468.6 L337.8 469.6 L337.6 470.7 L337.3 471.7 L337 472.7 L336.8 473.7 L336.5 474.7 L336.2 475.7 L335.8 476.7 L335.5 477.7" fill="none" stroke="#978047" stroke-width="9.5" stroke-linecap="round"/><path d="M337.2 437.8 L337.4 438.8 L337.7 439.9 L337.9 440.9 L338.1 441.9 L338.3 442.9 L338.5 443.9 L338.6 444.9 L338.8 446 L338.9 447 L339 448 L339.1 449.1 L339.2 450.1 L339.3 451.1 L339.3 452.2 L339.4 453.2 L339.4 454.2 L339.4 455.3 L339.4 456.3 L339.4 457.3 L339.3 458.4 L339.3 459.4 L339.2 460.4 L339.1 461.5 L339 462.5 L338.9 463.5 L338.7 464.5 L338.6 465.6 L338.4 466.6 L338.2 467.6 L338 468.6 L337.8 469.6 L337.6 470.7 L337.3 471.7 L337 472.7 L336.8 473.7 L336.5 474.7 L336.2 475.7 L335.8 476.7 L335.5 477.7" fill="none" stroke="#ad965c" stroke-width="7.9" stroke-linecap="round"/><path d="M207.3 523.1 L206.2 522.5 L205 522 L203.8 521.3 L202.6 520.7 L201.5 520.1 L200.4 519.5 L199.2 518.8 L198.1 518.1 L197 517.4 L195.9 516.7 L194.8 516 L193.8 515.3 L192.7 514.5 L191.7 513.8 L190.7 513 L189.7 512.2 L188.7 511.4 L187.7 510.6 L186.7 509.7 L185.8 508.9 L184.8 508 L183.9 507.2 L183 506.3 L182.1 505.4 L181.2 504.5 L180.4 503.6 L179.5 502.7 L178.7 501.7 L177.9 500.8 L177.1 499.8 L176.3 498.9 L175.5 497.9 L174.8 496.9 L174.1 495.9 L173.4 494.9 L172.7 493.9 L172 492.9 L171.3 491.8 L170.7 490.8" fill="none" stroke="#978047" stroke-width="9.5" stroke-linecap="round"/><path d="M207.3 523.1 L206.2 522.5 L205 522 L203.8 521.3 L202.6 520.7 L201.5 520.1 L200.4 519.5 L199.2 518.8 L198.1 518.1 L197 517.4 L195.9 516.7 L194.8 516 L193.8 515.3 L192.7 514.5 L191.7 513.8 L190.7 513 L189.7 512.2 L188.7 511.4 L187.7 510.6 L186.7 509.7 L185.8 508.9 L184.8 508 L183.9 507.2 L183 506.3 L182.1 505.4 L181.2 504.5 L180.4 503.6 L179.5 502.7 L178.7 501.7 L177.9 500.8 L177.1 499.8 L176.3 498.9 L175.5 497.9 L174.8 496.9 L174.1 495.9 L173.4 494.9 L172.7 493.9 L172 492.9 L171.3 491.8 L170.7 490.8" fill="none" stroke="#ad965c" stroke-width="7.9" stroke-linecap="round"/><path d="M260.4 532 L259.4 532.1 L258.4 532.2 L257.4 532.2 L256.4 532.3 L255.4 532.4 L254.4 532.4 L253.4 532.4 L252.4 532.5 L251.4 532.5 L250.4 532.5 L249.4 532.5 L248.4 532.5 L247.3 532.5 L246.3 532.4 L245.3 532.4 L244.3 532.3 L243.3 532.3 L242.3 532.2 L241.3 532.1 L240.3 532 L239.3 531.9 L238.3 531.8 L237.3 531.7 L236.3 531.6 L235.3 531.4 L234.3 531.3 L233.3 531.1 L232.3 531 L231.4 530.8 L230.4 530.6 L229.4 530.4 L228.4 530.2 L227.4 530 L226.5 529.8 L225.5 529.5 L224.5 529.3 L223.6 529 L222.6 528.8 L221.6 528.5" fill="none" stroke="#978047" stroke-width="9.5" stroke-linecap="round"/><path d="M260.4 532 L259.4 532.1 L258.4 532.2 L257.4 532.2 L256.4 532.3 L255.4 532.4 L254.4 532.4 L253.4 532.4 L252.4 532.5 L251.4 532.5 L250.4 532.5 L249.4 532.5 L248.4 532.5 L247.3 532.5 L246.3 532.4 L245.3 532.4 L244.3 532.3 L243.3 532.3 L242.3 532.2 L241.3 532.1 L240.3 532 L239.3 531.9 L238.3 531.8 L237.3 531.7 L236.3 531.6 L235.3 531.4 L234.3 531.3 L233.3 531.1 L232.3 531 L231.4 530.8 L230.4 530.6 L229.4 530.4 L228.4 530.2 L227.4 530 L226.5 529.8 L225.5 529.5 L224.5 529.3 L223.6 529 L222.6 528.8 L221.6 528.5" fill="none" stroke="#ad965c" stroke-width="7.9" stroke-linecap="round"/><path d="M325.4 496.6 L324.5 497.8 L323.7 498.9 L322.8 500 L321.9 501.1 L320.9 502.2 L320 503.2 L319 504.3 L318 505.3 L317 506.4 L315.9 507.4 L314.8 508.3 L313.8 509.3 L312.7 510.3 L311.5 511.2 L310.4 512.1 L309.2 513 L308.1 513.9 L306.9 514.8 L305.7 515.7 L304.4 516.5 L303.2 517.3 L301.9 518.1 L300.6 518.9 L299.3 519.6 L298 520.4 L296.7 521.1 L295.4 521.8 L294 522.5 L292.7 523.1 L291.3 523.7 L289.9 524.4 L288.5 525 L287.1 525.5 L285.6 526.1 L284.2 526.6 L282.8 527.1 L281.3 527.6 L279.8 528.1 L278.4 528.5" fill="none" stroke="#978047" stroke-width="9.5" stroke-linecap="round"/><path d="M325.4 496.6 L324.5 497.8 L323.7 498.9 L322.8 500 L321.9 501.1 L320.9 502.2 L320 503.2 L319 504.3 L318 505.3 L317 506.4 L315.9 507.4 L314.8 508.3 L313.8 509.3 L312.7 510.3 L311.5 511.2 L310.4 512.1 L309.2 513 L308.1 513.9 L306.9 514.8 L305.7 515.7 L304.4 516.5 L303.2 517.3 L301.9 518.1 L300.6 518.9 L299.3 519.6 L298 520.4 L296.7 521.1 L295.4 521.8 L294 522.5 L292.7 523.1 L291.3 523.7 L289.9 524.4 L288.5 525 L287.1 525.5 L285.6 526.1 L284.2 526.6 L282.8 527.1 L281.3 527.6 L279.8 528.1 L278.4 528.5" fill="none" stroke="#ad965c" stroke-width="7.9" stroke-linecap="round"/><path d="M149 498.8 L164 511.5 L180 527 L196.1 541.6" fill="none" stroke="#978047" stroke-width="10.4" stroke-linecap="round" stroke-linejoin="round"/><path d="M149 498.8 L164 511.5 L180 527 L196.1 541.6" fill="none" stroke="#ad965c" stroke-width="8.8" stroke-linecap="round" stroke-linejoin="round"/><path d="M145.4 503 L160.3 515.6 L176.2 531 L176.3 531.1 L192.4 545.7" fill="none" stroke="#0a0a0a" stroke-width="2.2" stroke-dasharray="0 5.6" stroke-linecap="round"/><path d="M287.5 549.1 L305 538.5 L322 525.5 L338.9 512.4" fill="none" stroke="#978047" stroke-width="10.4" stroke-linecap="round" stroke-linejoin="round"/><path d="M287.5 549.1 L305 538.5 L322 525.5 L338.9 512.4" fill="none" stroke="#ad965c" stroke-width="8.8" stroke-linecap="round" stroke-linejoin="round"/><path d="M284.7 544.4 L301.9 534 L318.6 521.1 L335.5 508.1" fill="none" stroke="#0a0a0a" stroke-width="2.2" stroke-dasharray="0 5.6" stroke-linecap="round"/><line x1="172.5" y1="520" x2="186" y2="505.5" stroke="#ad965c" stroke-width="25"/><line x1="313" y1="532.5" x2="303.5" y2="518.5" stroke="#ad965c" stroke-width="21"/><path d="M200.5 263 L199.8 263.9 L199.3 264.9 L199 266 L198.8 267.1 L199 268.2 L199.3 269.3 L199.8 270.3 L200.5 271.2 L201.4 271.9 L203.9 273.7 L206.5 275.5 L209.1 277.1 L211.8 278.6 L212.7 279.1 L215.4 280.5 L218.2 281.7 L221.1 282.9 L224 284 L227.1 284.9 L227.8 285.1 L230.9 286 L234 286.7 L237.3 287.3 L240.6 287.8 L243.9 288.1 L244.7 288.2 L248.1 288.5 L251.7 288.6 L255.3 288.6 L259 288.5 L262.8 288.3 L266.6 288 L267.4 287.9 L271.4 287.5 L275.4 286.9 L279.5 286.3 L283.7 285.5 L288 284.6 L292.4 283.6 L296.9 282.5 L301.4 281.3 L306 280 L307.1 279.7 L308.1 279.2 L309 278.5 L309.7 277.6 L310.2 276.6 L310.5 275.5 L310.6 274.4 L310.5 273.3 L310.2 272.2 L309.7 271.2 L309 270.3 L308.1 269.6 L307.1 269.1 L306 268.8 L304.9 268.6 L303.8 268.8 L302.7 269.1 L298.2 270.9 L293.9 272.7 L289.5 274.2 L285.4 275.6 L282 276.6 L277.8 277.7 L273.8 278.6 L269.8 279.4 L265.8 280.1 L262.2 280.5 L259 280.8 L255.3 281 L251.7 281.1 L248.1 281 L245 280.7 L242 280.4 L238.7 279.8 L235.5 279.1 L232.7 278.4 L230.1 277.5 L227.2 276.4 L224.3 275.1 L222.2 274 L219.6 272.5 L217.1 270.8 L214.9 269.1 L213 267.5 L210.8 265.3 L208.7 263 L207.8 262.3 L206.8 261.8 L205.7 261.5 L204.6 261.4 L203.5 261.5 L202.4 261.8 L201.4 262.3 Z" fill="#25a9e0" stroke="#17607f" stroke-width="0.9"/><path d="M214.5 255.4 L214 256.2 L213.5 257 L213.2 257.9 L213.2 258.8 L213.2 259.7 L213.5 260.6 L214 261.4 L214.5 262.2 L216.7 264 L217.3 264.6 L219.5 266.3 L221.6 267.9 L223.8 269.4 L226 270.8 L228.3 272 L228.8 272.4 L231.1 273.5 L233.4 274.5 L235.8 275.5 L238.1 276.3 L238.7 276.4 L241.1 277.1 L243.5 277.7 L246 278.2 L248.6 278.6 L249.1 278.6 L251.7 278.9 L254.3 279 L257 279 L259.7 278.9 L262.5 278.7 L263.1 278.6 L265.9 278.3 L268.8 277.8 L271.8 277.3 L274.8 276.6 L277.8 275.9 L280.9 275 L281.6 274.8 L284.8 273.8 L288 272.7 L291.4 271.5 L294.7 270.2 L295.5 269.7 L296.3 269.2 L296.8 268.4 L297.3 267.6 L297.6 266.7 L297.6 265.8 L297.6 264.9 L297.3 264 L296.8 263.2 L296.3 262.4 L295.5 261.9 L294.7 261.4 L293.8 261.1 L292.9 261.1 L292 261.1 L291.1 261.4 L290.3 261.9 L287.2 263.7 L284.6 265.1 L281.8 266.5 L278.7 267.9 L275.8 269.1 L272.8 270.2 L270.3 271.1 L267.6 271.8 L264.8 272.4 L262 272.9 L259.5 273.2 L257 273.4 L254.3 273.5 L251.7 273.4 L249.6 273.2 L247.1 272.8 L244.6 272.3 L242.5 271.7 L240.4 270.9 L238 269.9 L236.1 269 L234.1 267.8 L232 266.4 L230.1 265 L228.5 263.6 L226.6 261.8 L224.8 259.8 L223.4 258.3 L221.8 256.2 L221.3 255.4 L220.5 254.9 L219.7 254.4 L218.8 254.1 L217.9 254.1 L217 254.1 L216.1 254.4 L215.3 254.9 Z" fill="#25a9e0" stroke="#17607f" stroke-width="0.9"/><path d="M228.8 255.8 L228.3 256.4 L227.9 257.2 L227.6 258 L227.6 258.8 L227.6 259.6 L227.9 260.4 L228.3 261.2 L228.8 261.8 L229.4 262.3 L231.1 263.3 L232.8 264.3 L233.4 264.6 L235 265.5 L236.7 266.2 L238.3 267 L239.9 267.6 L241.5 268.2 L243.1 268.7 L243.6 268.9 L245.2 269.3 L246.8 269.7 L248.4 270 L250 270.3 L251.6 270.5 L252 270.5 L253.6 270.6 L255.2 270.7 L256.8 270.6 L258.4 270.5 L258.9 270.5 L260.5 270.3 L262.1 270.1 L263.8 269.8 L265.5 269.4 L267.1 269 L268.8 268.5 L269.4 268.3 L271.1 267.7 L272.8 267.1 L274.6 266.4 L276.3 265.6 L278.1 264.8 L279.9 263.9 L280.7 263.5 L281.3 263 L281.8 262.4 L282.2 261.6 L282.5 260.8 L282.6 260 L282.5 259.2 L282.2 258.4 L281.8 257.6 L281.3 257 L280.7 256.5 L279.9 256.1 L279.1 255.8 L278.3 255.8 L277.5 255.8 L276.7 256.1 L275.9 256.5 L275.3 257 L273.8 258.4 L272.7 259.3 L271.3 260.3 L269.8 261.4 L268.2 262.4 L267 263.1 L265.6 263.8 L264 264.5 L262.5 265 L261.2 265.4 L259.6 265.7 L258 266 L256.8 266.1 L255.2 266.2 L253.6 266.1 L252.4 266 L250.9 265.8 L249.3 265.4 L248.1 265.1 L246.6 264.6 L245.1 263.9 L243.9 263.3 L242.6 262.6 L241.1 261.6 L239.7 260.6 L238.8 259.8 L237.5 258.6 L236.1 257.2 L234.8 255.8 L234.2 255.3 L233.4 254.9 L232.6 254.6 L231.8 254.6 L231 254.6 L230.2 254.9 L229.4 255.3 Z" fill="#25a9e0" stroke="#17607f" stroke-width="0.9"/><path d="M239.7 253.5 L239.2 254 L238.9 254.6 L238.7 255.3 L238.6 256 L238.7 256.7 L238.9 257.4 L239.2 258 L239.7 258.5 L240.2 259 L240.8 259.3 L241.8 259.8 L242.7 260.3 L243.6 260.7 L244.6 261.1 L245.5 261.5 L246.4 261.8 L246.8 261.9 L247.7 262.2 L248.5 262.4 L249.4 262.6 L250.3 262.7 L251.1 262.8 L251.4 262.8 L252.3 262.9 L253.1 262.9 L254 262.8 L254.2 262.8 L255.1 262.7 L256 262.6 L256.8 262.4 L257.7 262.2 L258 262.1 L258.9 261.8 L259.8 261.5 L260.7 261.1 L261.6 260.7 L262.5 260.3 L263.5 259.8 L263.9 259.6 L264.9 259 L265.9 258.4 L266.9 257.8 L267.9 257.1 L269 256.4 L269.5 255.9 L270 255.4 L270.3 254.8 L270.5 254.1 L270.6 253.4 L270.5 252.7 L270.3 252 L270 251.4 L269.5 250.9 L269 250.4 L268.4 250.1 L267.7 249.9 L267 249.8 L266.3 249.9 L265.6 250.1 L265 250.4 L264.5 250.9 L264 251.4 L263.7 252 L263.4 252.6 L262.8 253.6 L262.1 254.6 L261.4 255.6 L261 256.1 L260.3 256.9 L259.5 257.6 L259 258 L258.2 258.6 L257.5 259 L256.8 259.3 L256 259.6 L255.4 259.8 L254.6 260 L254 260 L253.1 260 L252.5 260 L251.7 259.9 L251.1 259.7 L250.4 259.4 L249.8 259.1 L249.1 258.7 L248.5 258.2 L248 257.8 L247.3 257.1 L246.9 256.6 L246.3 255.9 L245.8 255 L245.2 254 L244.7 253.5 L244.2 253 L243.6 252.7 L242.9 252.5 L242.2 252.4 L241.5 252.5 L240.8 252.7 L240.2 253 Z" fill="#25a9e0" stroke="#17607f" stroke-width="0.9"/><rect x="208.2" y="241.1" width="10" height="10" rx="3.6" fill="#25a9e0" stroke="#17607f" stroke-width="0.9" transform="rotate(-12 213.2 246.1)"/><rect x="233.2" y="238.5" width="10" height="10" rx="3.6" fill="#25a9e0" stroke="#17607f" stroke-width="0.9" transform="rotate(-12 238.2 243.5)"/><rect x="253.4" y="226.9" width="10" height="10" rx="3.6" fill="#25a9e0" stroke="#17607f" stroke-width="0.9" transform="rotate(-12 258.4 231.9)"/><rect x="267.1" y="236.6" width="8" height="8" rx="2.9" fill="#25a9e0" stroke="#17607f" stroke-width="0.9" transform="rotate(-12 271.1 240.6)"/><rect x="279.1" y="241.2" width="10.5" height="10.5" rx="3.8" fill="#25a9e0" stroke="#17607f" stroke-width="0.9" transform="rotate(-12 284.3 246.5)"/><ellipse cx="253.9" cy="249.2" rx="1.9" ry="2.5" fill="#25a9e0" stroke="#17607f" stroke-width="0.8" transform="rotate(20 253.9 249.2)"/><ellipse cx="163.5" cy="78" rx="29.5" ry="22.5" fill="#6aa743" stroke="#375623" stroke-width="1.3"/><text x="163.5" y="84.6" font-size="19.2" fill="#13280a" text-anchor="middle" stroke="#13280a" stroke-width="0.3">Tg</text><ellipse cx="302.5" cy="78" rx="29.5" ry="22.5" fill="#6aa743" stroke="#375623" stroke-width="1.3"/><text x="302.5" y="84.6" font-size="19.2" fill="#13280a" text-anchor="middle" stroke="#13280a" stroke-width="0.3">Tg</text><ellipse cx="441" cy="78" rx="29.5" ry="22.5" fill="#6aa743" stroke="#375623" stroke-width="1.3"/><text x="441" y="84.6" font-size="19.2" fill="#13280a" text-anchor="middle" stroke="#13280a" stroke-width="0.3">Tg</text><ellipse cx="426.5" cy="383" rx="30" ry="23" fill="#6aa743" stroke="#375623" stroke-width="1.3"/><text x="426.5" y="389.6" font-size="19.2" fill="#13280a" text-anchor="middle" stroke="#13280a" stroke-width="0.3">Tg</text><ellipse cx="391" cy="465" rx="30" ry="22.5" fill="#6aa743" stroke="#375623" stroke-width="1.3"/><text x="391" y="471.6" font-size="19.2" fill="#13280a" text-anchor="middle" stroke="#13280a" stroke-width="0.3">Tg</text><ellipse cx="229.8" cy="115.4" rx="39.8" ry="15.2" fill="#ed7d31" stroke="#7a3a10" stroke-width="1.2"/><text x="229.8" y="122.2" font-size="19" fill="#2e1505" text-anchor="middle" >TPO</text><ellipse cx="372.5" cy="114" rx="39.8" ry="15.2" fill="#ed7d31" stroke="#7a3a10" stroke-width="1.2"/><text x="372.5" y="120.8" font-size="19" fill="#2e1505" text-anchor="middle" >TPO</text><text x="12.6" y="81.2" font-size="18.5" fill="#000" text-anchor="start" >Lumen</text><text x="98.8" y="84" font-size="18" fill="#000" text-anchor="start" >I<tspan dy="-7" font-size="11">-</tspan></text><text x="119" y="83.5" font-size="18" fill="#000" text-anchor="start" >+</text><text x="249" y="29.5" font-size="18" fill="#000" text-anchor="start" >MIT</text><text x="319.5" y="29.5" font-size="18" fill="#000" text-anchor="start" >DIT</text><text x="394" y="29.5" font-size="18" fill="#000" text-anchor="start" >T3</text><text x="464.5" y="29.5" font-size="18" fill="#000" text-anchor="start" >T4</text><line x1="269.5" y1="36" x2="282" y2="61" stroke="#000" stroke-width="2.6"/><line x1="332.5" y1="36" x2="324.5" y2="61" stroke="#000" stroke-width="2.6"/><line x1="407.5" y1="36" x2="420.5" y2="61" stroke="#000" stroke-width="2.6"/><line x1="470.5" y1="36" x2="462.5" y2="61" stroke="#000" stroke-width="2.6"/><line x1="392.4" y1="341" x2="405.3" y2="367" stroke="#000" stroke-width="2.6"/><line x1="456" y1="341" x2="447" y2="367" stroke="#000" stroke-width="2.6"/><text x="207" y="69.8" font-size="18.2" fill="#000" text-anchor="start" >H<tspan dy="4.2" font-size="11.5">2</tspan><tspan dy="-4.2">O</tspan><tspan dy="4.2" font-size="11.5">2</tspan></text><text x="345.5" y="69.8" font-size="18.2" fill="#000" text-anchor="start" >H<tspan dy="4.2" font-size="11.5">2</tspan><tspan dy="-4.2">O</tspan><tspan dy="4.2" font-size="11.5">2</tspan></text><path d="M194.2 70.2 L202 70.2 C203.5 79 213 86.8 228 87.3 C239 87.5 248 84.2 254.4 78.6 L252.4 76 L263.5 73.2 L260.3 84.2 L257.8 81.8 C250 88.5 240 91.4 228 91.2 C209 90.8 196 83 194.2 70.2 Z" fill="#000"/><path d="M333.3 70.2 L341.1 70.2 C342.6 79 352.1 86.8 367.1 87.3 C378.1 87.5 387.1 84.2 393.5 78.6 L391.5 76 L402.6 73.2 L399.4 84.2 L396.9 81.8 C389.1 88.5 379.1 91.4 367.1 91.2 C348.1 90.8 335.1 83 333.3 70.2 Z" fill="#000"/><text x="379" y="335.5" font-size="18" fill="#000" text-anchor="start" >T3</text><text x="447.8" y="335.5" font-size="18" fill="#000" text-anchor="start" >T4</text><text x="427.5" y="471.5" font-size="18" fill="#000" text-anchor="start" >T3 T4</text><line x1="427" y1="412.5" x2="409.4" y2="434.5" stroke="#000" stroke-width="2.8"/><polygon points="404.4,440.8 406.7,431.1 413.3,436.4" fill="#000"/><line x1="426" y1="412.5" x2="442.4" y2="435.5" stroke="#000" stroke-width="2.8"/><polygon points="447,442 438.3,437.1 445.2,432.2" fill="#000"/><line x1="173" y1="455.3" x2="329" y2="455.3" stroke="#000" stroke-width="3"/><rect x="179" y="443.7" width="64.5" height="22.3" fill="#ffc000" stroke="#7f6000" stroke-width="1.2"/><text x="211.4" y="458.8" font-size="10.6" fill="#3b2a00" text-anchor="middle" >Promoter</text><text x="291.2" y="474.4" font-size="10.6" fill="#1c1c1c" text-anchor="middle" >TSHR, Tg, NIS,</text><text x="291.2" y="487.5" font-size="10.6" fill="#1c1c1c" text-anchor="middle" >TPO, PAX8,</text><text x="291.2" y="500.6" font-size="10.6" fill="#1c1c1c" text-anchor="middle" >NKX2-1</text><rect x="98" y="558.5" width="56" height="57.2" rx="8.5" fill="#5b9bd5" stroke="#2e5c8e" stroke-width="1.3"/><text x="125.8" y="593.8" font-size="17.5" fill="#0d1b33" text-anchor="middle" >NIS</text><line x1="105.4" y1="634" x2="105.4" y2="546" stroke="#000" stroke-width="2.8"/><polygon points="105.4,537 109.9,547 100.9,547" fill="#000"/><path d="M338.6 568 m-6.2 6 a6.2 6.2 0 0 1 12.4 0 l0 16 l13.5 14.5 a4.6 4.6 0 0 1 -6.8 6.2 l-12.9 -14 l-12.9 14 a4.6 4.6 0 0 1 -6.8 -6.2 l13.5 -14.5 Z" fill="#5b9bd5" stroke="#2e5c8e" stroke-width="1.2"/><ellipse cx="338.4" cy="629" rx="42.5" ry="15.6" fill="#4472c4" stroke="#3a62ad" stroke-width="1"/><text x="338.4" y="635.8" font-size="19" fill="#101c40" text-anchor="middle" >TSH</text><text x="350.3" y="573.5" font-size="18.5" fill="#000" text-anchor="start" >TSHR</text><text x="409" y="637.7" font-size="18.5" fill="#cc1f24" text-anchor="start" >Secretion</text><line x1="220.5" y1="233.4" x2="174.9" y2="124.1" stroke="#a6a6a6" stroke-width="3.2"/><polygon points="171.5,116 179.3,123.3 171.2,126.7" fill="#a6a6a6"/><line x1="248.7" y1="313.6" x2="247.8" y2="298.4" stroke="#a6a6a6" stroke-width="3"/><polygon points="247.4,290.4 252.1,299.1 243.7,299.6" fill="#a6a6a6"/><line x1="300.7" y1="315.2" x2="362.6" y2="205.4" stroke="#a6a6a6" stroke-width="3.2"/><polygon points="366.9,197.7 365.9,208.4 358.3,204.1" fill="#a6a6a6"/><line x1="442" y1="106" x2="431.5" y2="292.2" stroke="#a6a6a6" stroke-width="3.2"/><polygon points="431,301 427.2,291 435.9,291.5" fill="#a6a6a6"/><line x1="158.6" y1="530.5" x2="150.5" y2="542.4" stroke="#a6a6a6" stroke-width="3"/><polygon points="146,549 147.6,539.2 154.6,544" fill="#a6a6a6"/><line x1="294.6" y1="558.5" x2="315.8" y2="574.3" stroke="#a6a6a6" stroke-width="3"/><polygon points="323,579.7 312.3,577.3 317.7,570.1" fill="#a6a6a6"/><line x1="450" y1="493.7" x2="450" y2="609.8" stroke="#a6a6a6" stroke-width="3.2"/><polygon points="450,618.6 445.6,608.8 454.4,608.8" fill="#a6a6a6"/><circle cx="78.5" cy="502.3" r="5.6" fill="#7030a0"/><circle cx="117.8" cy="499.2" r="5.6" fill="#7030a0"/><circle cx="104.8" cy="510.9" r="5.6" fill="#7030a0"/><circle cx="87.8" cy="518" r="5.6" fill="#7030a0"/><circle cx="115.6" cy="523.9" r="5.6" fill="#7030a0"/><circle cx="100.8" cy="530.1" r="5.6" fill="#7030a0"/><circle cx="86.9" cy="542.5" r="5.6" fill="#7030a0"/><circle cx="86.2" cy="649.2" r="5.6" fill="#7030a0"/><circle cx="126.1" cy="646.5" r="5.6" fill="#7030a0"/><circle cx="113.8" cy="657.9" r="5.6" fill="#7030a0"/><circle cx="97.1" cy="664.7" r="5.6" fill="#7030a0"/><circle cx="124.9" cy="670.3" r="5.6" fill="#7030a0"/><circle cx="109.4" cy="676.5" r="5.6" fill="#7030a0"/><circle cx="96.1" cy="689.5" r="5.6" fill="#7030a0"/><text x="129.5" y="529.8" font-size="18" fill="#000" text-anchor="start" >I<tspan dy="-7" font-size="11">-</tspan></text><text x="123.4" y="635" font-size="18" fill="#000" text-anchor="start" >I<tspan dy="-7" font-size="11">-</tspan></text><text x="-32.3" y="637.5" font-size="18.5" fill="#cc1f24" text-anchor="start" >Excess Iodide</text><text x="84.8" y="238" font-size="18.5" fill="#000" text-anchor="start" >XBP1 mRNA</text><path d="M92.7 260.3 C94.7 256 97.7 253.6 102.2 253.6 C109.7 253.6 116.7 268 127.5 268 C137.7 268 142.7 253.8 152.8 253.8 C162.7 253.8 166.7 269 176.5 269 C181.7 269 185.7 266 189.2 262.6" fill="none" stroke="#111" stroke-width="1.2"/><line x1="105.4" y1="270.2" x2="101.3" y2="330.8" stroke="#c9252b" stroke-width="3"/><polygon points="100.6,340.8 97.1,329.5 105.6,330.1" fill="#c9252b"/><ellipse cx="102.5" cy="361.7" rx="39" ry="18.7" fill="#29abe2" stroke="#1d8fc4" stroke-width="1"/><text x="102.5" y="366" font-size="12" fill="#1b2f5e" text-anchor="middle" >XBP1s</text><text x="173.4" y="306.2" font-size="18.5" fill="#000" text-anchor="start" >IRE1α</text><line x1="158.5" y1="307.6" x2="154.1" y2="292.1" stroke="#c9252b" stroke-width="2.8"/><polygon points="152.2,285.4 158,292.1 150.8,294.1" fill="#c9252b"/><g transform="translate(167.6 325.6) rotate(-31)" fill="#25a552" stroke="#1b8a42" stroke-width="0.7" stroke-linejoin="round"><path d="M-12.2 -9.2 L-0.8 -9.2 C-2.4 -7.6 -2.8 -5.6 -2.8 -3.6 L-2.8 3.6 C-2.8 5.6 -2.4 7.6 -0.8 9.2 L-12.2 9.2 C-8.4 7.6 -7.3 5.6 -7.3 3.2 L-7.3 -3.2 C-7.3 -5.6 -8.4 -7.6 -12.2 -9.2 Z"/><path d="M-12.2 -9.2 L-0.8 -9.2 C-2.4 -7.6 -2.8 -5.6 -2.8 -3.6 L-2.8 3.6 C-2.8 5.6 -2.4 7.6 -0.8 9.2 L-12.2 9.2 C-8.4 7.6 -7.3 5.6 -7.3 3.2 L-7.3 -3.2 C-7.3 -5.6 -8.4 -7.6 -12.2 -9.2 Z" transform="translate(0.8 -2.2) scale(-1 1)"/></g><line x1="104.4" y1="495.4" x2="105.8" y2="475.5" stroke="#c9252b" stroke-width="3.4"/><line x1="107.1" y1="465.6" x2="110.4" y2="452.3" stroke="#c9252b" stroke-width="3.4"/><line x1="114.7" y1="440.7" x2="119.7" y2="427.5" stroke="#c9252b" stroke-width="3.4"/><line x1="125.6" y1="416.5" x2="131.5" y2="405.5" stroke="#c9252b" stroke-width="3.4"/><path d="M136.8 399.6 Q141 395.6 146.5 394.4" fill="none" stroke="#c9252b" stroke-width="2.8"/><line x1="157.6" y1="394.9" x2="164.8" y2="391.6" stroke="#c9252b" stroke-width="3.6"/><line x1="176.7" y1="386.8" x2="184.8" y2="381.6" stroke="#c9252b" stroke-width="3.6"/><line x1="189.8" y1="371" x2="187.8" y2="361.4" stroke="#c9252b" stroke-width="3.6"/><line x1="183.6" y1="356.6" x2="178.6" y2="350.2" stroke="#c9252b" stroke-width="3.6"/><polygon points="170.4,340 180,343.4 173,350.6" fill="#c9252b"/><line x1="106.2" y1="390.8" x2="159.2" y2="409.1" stroke="#c9252b" stroke-width="3"/><polygon points="167.7,412 156.9,412.8 159.6,404.7" fill="#c9252b"/><ellipse cx="209.4" cy="424.8" rx="36.3" ry="18.4" fill="#29abe2" stroke="#1d8fc4" stroke-width="1"/><text x="209.4" y="429" font-size="11.5" fill="#1b2f5e" text-anchor="middle" >XBP1s</text><path d="M248.6 455 L248.6 425.6 L283.4 425.6 M283.4 416.5 L283.4 438.2" fill="none" stroke="#c9252b" stroke-width="2.6"/><text x="211.9" y="483.8" font-size="10.6" fill="#d0282e" text-anchor="middle" >H3K9me3</text><text x="211.9" y="496.3" font-size="10.6" fill="#d0282e" text-anchor="middle" >H3K27me3</text></g>
</svg>
</body></html>
